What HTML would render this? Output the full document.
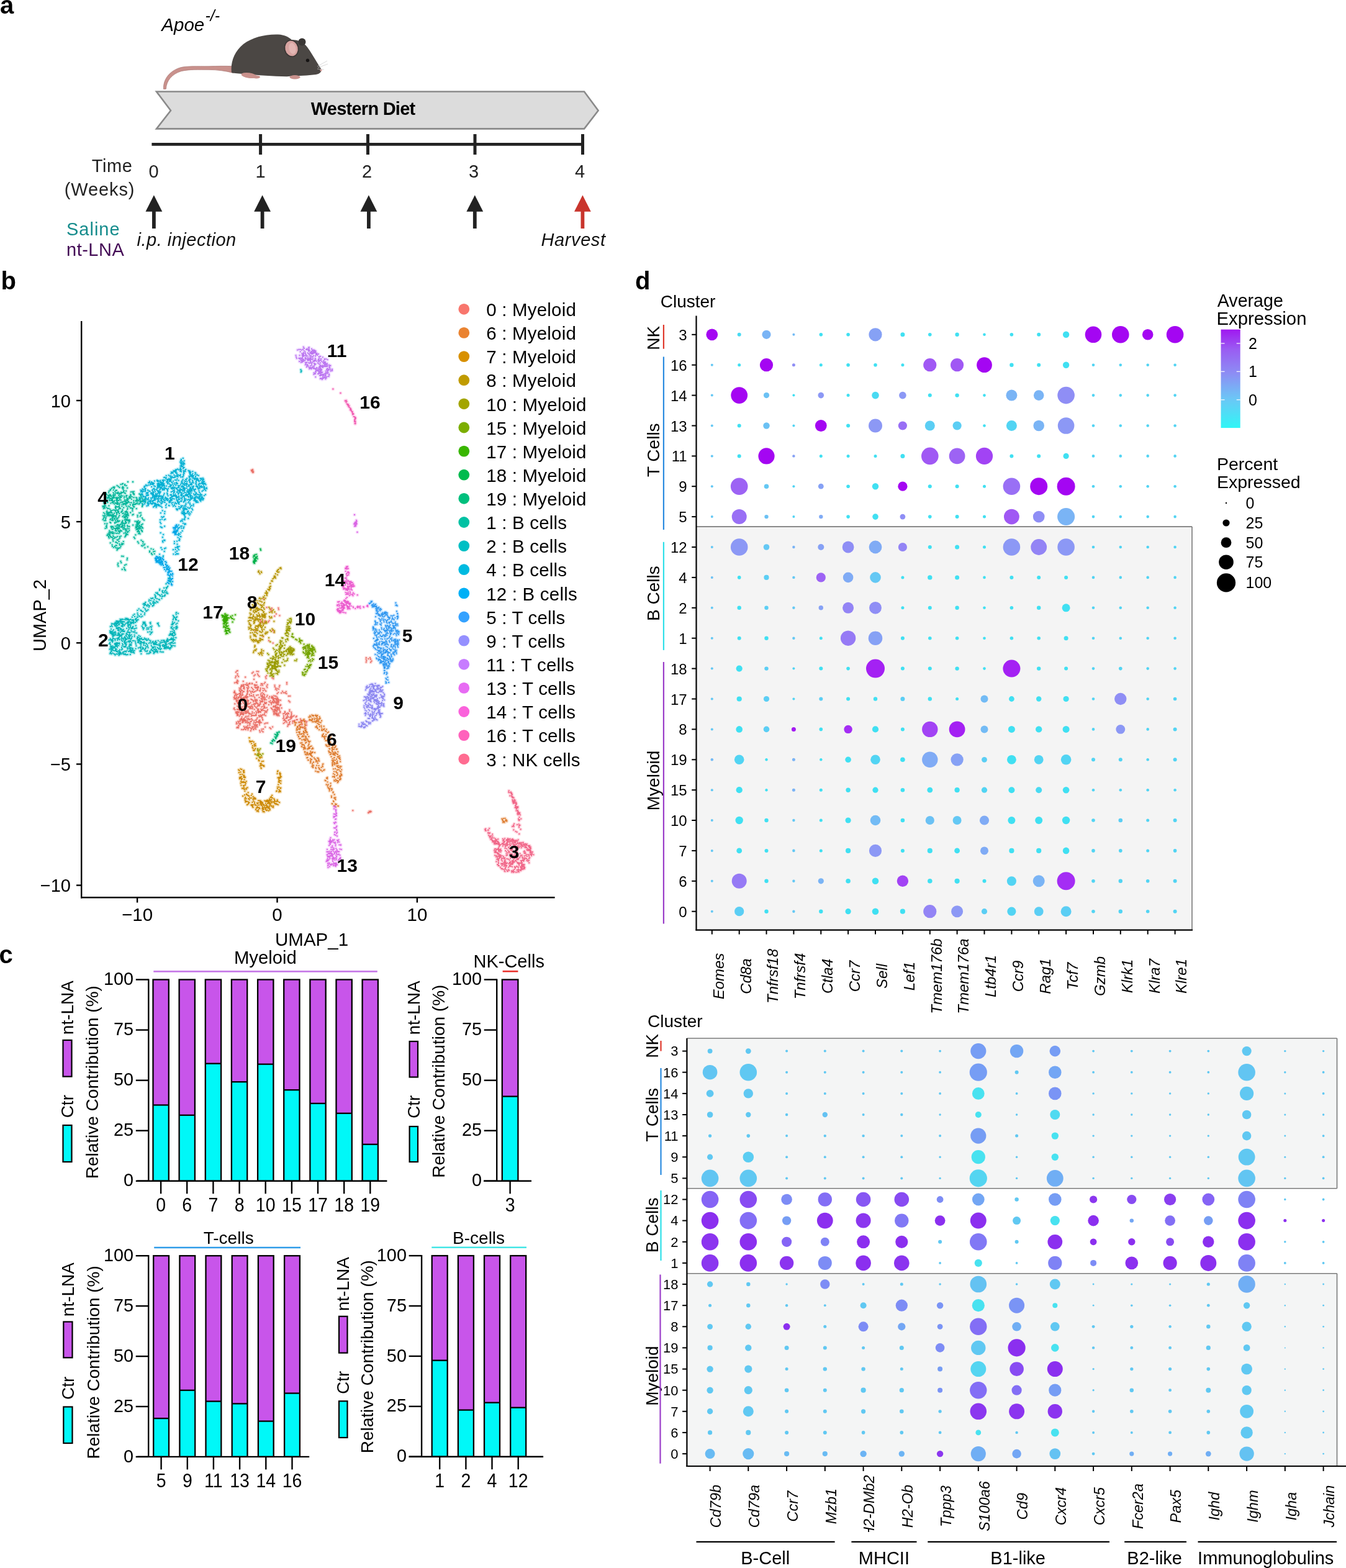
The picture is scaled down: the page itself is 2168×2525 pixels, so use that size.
<!DOCTYPE html><html><head><meta charset="utf-8"><title>Figure</title><style>html,body{margin:0;padding:0;background:#fff;}body{width:2168px;height:2525px;overflow:hidden;}svg{display:block;font-family:"Liberation Sans", Arial, Helvetica, sans-serif;}</style></head><body>
<svg width="2168" height="2525" viewBox="0 0 2168 2525">
<rect width="2168" height="2525" fill="#fff"/>
<text x="0" y="22" font-size="40" font-weight="bold">a</text>
<text x="260.3" y="49.8" font-size="29.5" font-style="italic">Apoe</text>
<text x="330.5" y="34.3" font-size="25" font-style="italic">-/-</text>
<g id="mouse">
<path d="M376,106.8 C362,106 350,106.5 336,106.8 C318,107 300,106 290,109 C274,114 262.5,127 263.5,143.5 L267.4,143.3 C268,130 277,119 292,114.6 C305,111.5 320,112.3 336,112.3 C350,112.4 362,114 376,117.4 Z" fill="#C9918C" stroke="#A87471" stroke-width="0.7"/>
<path d="M373,117 C371,101 377,83 392,71 C407,60 427,55 448,55.6 C458,56.2 465,59.5 470,64.5 C479,63.5 489,68 495,76 C503,87 510,100 517.5,111.5 C518.5,115.5 515,119 509,120 C496,121.5 481,122.3 470,122.5 L462,123.2 C440,122.8 414,121 395,119.2 C385,118.6 378,118.2 373,117 Z" fill="#4B4744"/>
<ellipse cx="486.5" cy="67.5" rx="6" ry="6" fill="#3A3735"/>
<ellipse cx="469.5" cy="78" rx="11" ry="13.2" transform="rotate(-12 469.5 78)" fill="#D7A3A0" stroke="#3A3634" stroke-width="1.6"/>
<ellipse cx="471" cy="78" rx="5.5" ry="9" transform="rotate(-12 471 78)" fill="#E3B6B3"/>
<circle cx="495.5" cy="97.2" r="2.7" fill="#151313"/>
<circle cx="517" cy="113" r="1.7" fill="#D9A09C"/>
<ellipse cx="401" cy="121.5" rx="12.5" ry="4.2" transform="rotate(8 401 121.5)" fill="#C9918C"/>
<ellipse cx="413" cy="124" rx="6" ry="2.5" fill="#C9918C"/>
<ellipse cx="475" cy="124.3" rx="8.5" ry="3.2" fill="#C9918C"/>
<path d="M511,107 L527,98 M512,109 L528,103 M511,111 L522,112" stroke="#C8C8C8" stroke-width="0.7" fill="none"/>
</g>
<polygon points="252,147.5 941,147.5 963.6,178 941,207.4 252,207.4 275,178" fill="#DCDCDC" stroke="#8A8A8A" stroke-width="2.6" stroke-linejoin="miter"/>
<text x="584.6" y="185.3" font-size="29" text-anchor="middle" font-weight="bold" letter-spacing="-0.75">Western Diet</text>
<line x1="244.4" y1="232.4" x2="938.5" y2="232.4" stroke="#222" stroke-width="4.6"/>
<line x1="419.6" y1="216" x2="419.6" y2="249" stroke="#222" stroke-width="5"/>
<line x1="592.5" y1="216" x2="592.5" y2="249" stroke="#222" stroke-width="5"/>
<line x1="765" y1="216" x2="765" y2="249" stroke="#222" stroke-width="5"/>
<line x1="938.5" y1="216" x2="938.5" y2="249" stroke="#222" stroke-width="5"/>
<text x="247.5" y="285.7" font-size="29" text-anchor="middle" fill="#222">0</text>
<text x="419.5" y="285.7" font-size="29" text-anchor="middle" fill="#222">1</text>
<text x="591" y="285.7" font-size="29" text-anchor="middle" fill="#222">2</text>
<text x="763" y="285.7" font-size="29" text-anchor="middle" fill="#222">3</text>
<text x="934" y="285.7" font-size="29" text-anchor="middle" fill="#222">4</text>
<text x="213.6" y="276.7" font-size="29" text-anchor="end" fill="#222" letter-spacing="0.6">Time</text>
<text x="217.4" y="315.2" font-size="29" text-anchor="end" fill="#222" letter-spacing="0.9">(Weeks)</text>
<polygon points="247.9,314.3 234.5,340.8 261.3,340.8" fill="#222"/>
<rect x="245" y="339" width="5.8" height="29" fill="#222" />
<polygon points="422.6,314.3 409.2,340.8 436,340.8" fill="#222"/>
<rect x="419.7" y="339" width="5.8" height="29" fill="#222" />
<polygon points="593.9,314.3 580.5,340.8 607.3,340.8" fill="#222"/>
<rect x="591" y="339" width="5.8" height="29" fill="#222" />
<polygon points="764.8,314.3 751.4,340.8 778.2,340.8" fill="#222"/>
<rect x="761.9" y="339" width="5.8" height="29" fill="#222" />
<polygon points="938.4,314.3 925,340.8 951.8,340.8" fill="#C9352D"/>
<rect x="935.5" y="339" width="5.8" height="29" fill="#C9352D" />
<text x="107" y="378.6" font-size="29" fill="#168C8C" letter-spacing="1">Saline</text>
<text x="107" y="412" font-size="29" fill="#430A55" letter-spacing="0.5">nt-LNA</text>
<text x="220.5" y="396" font-size="29" font-style="italic" fill="#111" letter-spacing="0.5">i.p. injection</text>
<text x="871.5" y="395.8" font-size="29" font-style="italic" fill="#111" letter-spacing="0.6">Harvest</text>
<text x="1.5" y="466" font-size="40" font-weight="bold">b</text>
<defs>
<path id="sc0" d="M450.4 991.3h0M439.7 1035.6h0M429.6 978.2h0M437.8 979.5h0M436.7 981.7h0M437.4 984h0M423.8 1025h0M448.4 979.1h0M448.8 981.4h0M424.5 964.6h0M421.5 1002.1h0M419 1002.5h0M420.1 1000.4h0M419.8 998h0M439 1015.3h0M426.9 999.7h0M425.7 1001.8h0M433.6 999.6h0M432.1 1001.5h0M433 1031.7h0M435.5 982.1h0M441.3 1018h0M411.5 1015.6h0M442.3 992.2h0M444.9 988.7h0M412.3 1163.6h0M414.6 1162.7h0M416.8 1163.6h0M386.9 1164.7h0M386.3 1167.1h0M384.1 1168.1h0M383.8 1127.5h0M386 1128.3h0M385.4 1130.6h0M411.6 1159.6h0M413.6 1158.2h0M414.5 1156h0M412.6 1168.6h0M412.3 1171h0M417.9 1145.4h0M419.7 1147h0M393.2 1106h0M391.1 1104.8h0M413.8 1103.4h0M416.1 1107.1h0M426.5 1125.1h0M425.9 1127.4h0M403 1165.4h0M399.8 1162.8h0M397.5 1162.7h0M395.2 1163.5h0M411.3 1164.2h0M411.7 1166.6h0M413.6 1168h0M414.3 1132.7h0M412 1133.2h0M409.6 1132.9h0M422.7 1115.6h0M424.6 1117.1h0M426.1 1119h0M381.3 1118.7h0M378.9 1118.9h0M378.3 1121.2h0M415.6 1119.2h0M409.7 1168.2h0M412.1 1167.8h0M414.3 1167h0M418.3 1112.1h0M393.9 1159h0M407.1 1141.3h0M404.8 1141h0M398 1172.9h0M398.8 1170.6h0M399.2 1168.2h0M412.4 1145.7h0M413.1 1148h0M412.2 1150.3h0M412.1 1128.1h0M401.8 1165.8h0M402.4 1168.2h0M426.6 1131.3h0M429 1131.5h0M408.1 1134.4h0M410.5 1134.3h0M383.4 1147.8h0M396.5 1170h0M397.5 1172.2h0M381.1 1119.1h0M397.8 1107.3h0M426 1139.7h0M426.1 1137.4h0M424.9 1135.3h0M418.5 1162.8h0M410.3 1123.1h0M408.6 1121.4h0M408.2 1119h0M411.7 1102.8h0M392.2 1124.6h0M394.5 1124h0M396.3 1122.4h0M389.4 1105.4h0M388 1107.3h0M385.7 1108.2h0M410.7 1128.3h0M408.3 1128.2h0M411.2 1127.2h0M411.3 1129.6h0M412.4 1131.7h0M400 1105h0M397.9 1103.9h0M395.8 1102.7h0M382.5 1125.1h0M380.4 1124h0M385.8 1127.7h0M388.2 1127.5h0M390.6 1128h0M428.5 1132.9h0M415.9 1105.9h0M413.2 1119.7h0M421.4 1138.5h0M423.7 1137.7h0M426.1 1137.9h0M378.2 1119.8h0M421.6 1121.3h0M422.5 1119.1h0M424.3 1117.5h0M383.7 1130.8h0M382.8 1133.1h0M417.5 1123.2h0M411.1 1128.1h0M387.5 1122.6h0M388.6 1120.5h0M390.9 1119.6h0M390.3 1150h0M392.6 1149.1h0M406.1 1113.2h0M408 1114.7h0M405.9 1101.3h0M413.4 1130.3h0M414.1 1128h0M393 1169.9h0M385.3 1144h0M383.3 1142.6h0M402.6 1101.3h0M409.4 1148.2h0M411.7 1104.1h0M409.7 1102.7h0M419.3 1145.9h0M421 1144.3h0M420.3 1142h0M396.8 1162.7h0M398.3 1164.6h0M412.1 1174h0M396 1159.8h0M393.6 1159.4h0M391.8 1157.9h0M383.4 1161.7h0M385.7 1111.1h0M387.3 1109.7h0M390.2 1111.9h0M391.4 1114h0M390.3 1116.1h0M383.2 1146.5h0M381.3 1147.9h0M388 1125h0M408.2 1130h0M403.4 1139.1h0M402.3 1141.2h0M386.4 1134.7h0M394.3 1146.1h0M395.7 1148.1h0M417.9 1167.3h0M418 1164.9h0M418.1 1162.5h0M422 1155.1h0M419.8 1154.1h0M417.4 1154.4h0M416.6 1142.2h0M416.4 1144.6h0M417.5 1146.7h0M382 1128.4h0M425.7 1121.6h0M426.8 1123.7h0M388.4 1109.8h0M388.7 1112.2h0M388 1114.5h0M398.9 1135.1h0M399.8 1132.9h0M399.6 1130.5h0M388.3 1122.2h0M388.2 1124.6h0M378.3 1133.4h0M386.2 1131h0M383.9 1131.6h0M400.7 1101.4h0M377.9 1112.9h0M376.9 1115h0M409.8 1136.7h0M411.5 1138.4h0M401.7 1133.3h0M403.5 1131.7h0M424.9 1140.5h0M423.1 1142.1h0M421.2 1143.5h0M394.3 1171.9h0M397.9 1117.1h0M397.2 1119.3h0M397.6 1121.7h0M392.2 1149.4h0M400.4 1156.7h0M401 1159h0M398.5 1133.8h0M396.5 1135.1h0M394.1 1134.7h0M381.3 1149.1h0M381.2 1146.7h0M388.8 1159h0M389.4 1156.6h0M389.7 1154.3h0M404.7 1161.2h0M402.8 1162.7h0M400.7 1163.9h0M398.3 1129h0M395.9 1129.1h0M396.6 1145.7h0M394.5 1144.4h0M395 1142.1h0M386.7 1129.5h0M384.4 1130.3h0M382 1130.7h0M414.4 1137.8h0M416.4 1136.5h0M382.6 1137.2h0M384 1139.2h0M401.8 1118.5h0M402.6 1120.8h0M404.8 1119.9h0M406.2 1170h0M407.2 1172.1h0M400.7 1172.1h0M412.6 1152.1h0M380.1 1124.1h0M380.2 1126.5h0M380.8 1128.9h0M393.9 1125.6h0M391.5 1126.2h0M414.4 1162.6h0M416.6 1163.5h0M418.9 1164.2h0M397.6 1121.8h0M388.3 1147.6h0M386.9 1149.5h0M405.2 1157.5h0M384.2 1124.2h0M385.5 1122.2h0M395.5 1126.9h0M381.1 1120.1h0M381.3 1122.5h0M391.6 1151.1h0M390.1 1149.3h0M388.9 1147.2h0M417.8 1136.6h0M417.4 1134.3h0M415.3 1133h0M391.1 1160.9h0M393.5 1160.9h0M395.3 1159.4h0M422.9 1120.7h0M422.5 1123.1h0M420.7 1124.7h0M377.7 1116h0M379.9 1116.8h0M402 1148.7h0M404 1150h0M405.7 1151.7h0M397.6 1121.6h0M396.7 1123.8h0M384.1 1163.1h0M385.8 1161.5h0M383.7 1122.8h0M386.1 1122.6h0M415.5 1147.3h0M398.1 1126.9h0M400.2 1128h0M406.3 1101h0M378.5 1125.1h0M398.3 1160.7h0M398.7 1158.4h0M397.5 1156.3h0M398.6 1129.2h0M392.9 1148.1h0M390.5 1118.5h0M388.2 1119.2h0M386 1120h0M405.9 1121.1h0M409.8 1142.3h0M381.9 1152.1h0M383.7 1150.6h0M396 1146.7h0M397.5 1144.8h0M385.6 1153.2h0M387.1 1151.3h0M408.3 1110.9h0M406.8 1109.1h0M405.3 1107.2h0M423.1 1158.7h0M422.3 1156.4h0M415.4 1111.3h0M398.9 1108.8h0M398.7 1111.2h0M398.3 1113.5h0M420.6 1116.3h0M420 1118.6h0M420.5 1121h0M401.8 1171.4h0M400 1173h0M399.4 1175.3h0M410.6 1125.6h0M399.6 1109h0M398.9 1111.3h0M395.3 1102.3h0M392.9 1102.8h0M382.9 1150h0M378.4 1115.1h0M427.9 1133h0M423.4 1129.5h0M421 1129.4h0M418.8 1128.3h0M398.3 1117.9h0M398.8 1115.6h0M399.5 1113.3h0M383.5 1133.4h0M385.8 1132.7h0M388.2 1133.3h0M396.1 1131.3h0M397.9 1132.9h0M399.4 1134.7h0M405.3 1126.6h0M414.1 1168.1h0M414.5 1170.5h0M393.2 1137.3h0M393.5 1139.7h0M378.6 1143h0M376.8 1141.5h0M406.9 1159.7h0M405.2 1158h0M402.8 1158.3h0M377.6 1123.5h0M377.4 1140.1h0M391.7 1123.3h0M389.5 1124.2h0M387.4 1125.3h0M418.4 1159.7h0M419.1 1162h0M420.9 1163.6h0M405.8 1100.3h0M395.4 1145.4h0M394.9 1143h0M406.4 1146.5h0M406.3 1148.8h0M392.2 1132.7h0M409.1 1163.2h0M409.4 1160.8h0M395.9 1174.9h0M387.1 1117.9h0M404.7 1153.2h0M406.9 1152.3h0M409.3 1152.3h0M423.8 1112.2h0M426.2 1126.8h0M426.7 1124.5h0M424.5 1123.5h0M412.5 1150.3h0M411.1 1152.2h0M408.7 1151.9h0M421.2 1125.8h0M399.6 1143.6h0M402.3 1100.2h0M383.2 1152h0M381.9 1150h0M380.2 1148.3h0M391.6 1161.8h0M389.9 1163.5h0M386.3 1113.1h0M381.9 1165.3h0M389.1 1103.5h0M396.9 1148.6h0M398.5 1146.8h0M400.7 1153.1h0M398.4 1153.7h0M396 1153.6h0M381.9 1142.5h0M384.2 1142h0M386 1143.6h0M414 1107.3h0M388.8 1150.2h0M390.5 1148.5h0M391.4 1146.3h0M376.9 1123h0M377.4 1125.4h0M395.8 1141.5h0M395.9 1139.1h0M394 1137.7h0M390.8 1118.7h0M414 1111.4h0M412.1 1112.8h0M410 1114h0M397.5 1100.3h0M417.3 1161.3h0M417.2 1163.7h0M380.1 1125.6h0M377.7 1125.7h0M392.8 1123.2h0M394.6 1121.6h0M401.5 1150.2h0M400.2 1148.2h0M399.9 1145.8h0M422.4 1151.7h0M392.2 1150.8h0M415.5 1145.5h0M416.4 1147.7h0M427.2 1144.9h0M425 1144.1h0M422.6 1144h0M421.4 1152.8h0M413.5 1126.4h0M395.6 1120.8h0M397.1 1122.8h0M388.6 1148.7h0M423.4 1122.5h0M423.8 1124.9h0M425.3 1126.8h0M388.3 1126.4h0M390 1128.2h0M391.1 1130.3h0M399.9 1138.4h0M398 1137.1h0M396.5 1135.1h0M405.9 1137.6h0M405.6 1135.3h0M398.9 1130.4h0M415.3 1135.5h0M417.7 1135.4h0M419.5 1133.7h0M395.8 1174.5h0M392.6 1140.9h0M390.3 1141.6h0M387.9 1141.9h0M393.6 1174.2h0M410.5 1104.4h0M410.6 1106.8h0M412.4 1108.3h0M385.3 1146.7h0M387.7 1146.8h0M389.2 1145h0M447.5 1143.4h0M446.7 1141.2h0M438.1 1131.3h0M445.1 1140h0M447.5 1140.3h0M444.7 1132.8h0M445.7 1130.6h0M448.6 1150.8h0M447.2 1124.4h0M446 1122.4h0M444.2 1120.8h0M447.4 1129h0M449.8 1139.6h0M450 1142h0M450.3 1144.4h0M447.8 1129h0M448.3 1126.6h0M451.3 1146h0M443.3 1121.2h0M444.1 1149.1h0M442.6 1147.2h0M442 1144.9h0M440 1127.8h0M439.4 1125.5h0M437.7 1123.8h0M445 1151.2h0M442.8 1142.8h0M443.4 1124.5h0M445.4 1125.9h0M444.2 1139.5h0M445.6 1145.2h0M441.7 1142.3h0M439.7 1143.6h0M445.1 1143.6h0M443.2 1145.1h0M437.8 1141.1h0M449 1130h0M439.5 1130.3h0M441 1132.1h0M445.2 1150.8h0M447 1152.4h0M446.1 1148.6h0M436.8 1131.9h0M441.2 1150.2h0M446.9 1130.9h0M440.8 1125.2h0M439.9 1123h0M437.6 1122.2h0M440.5 1125.6h0M439.5 1123.4h0M438.3 1121.4h0M446.1 1131.3h0M448.4 1132.2h0M444.7 1126.5h0M442.9 1124.9h0M441.2 1136.8h0M443.6 1137.2h0M438.2 1142h0M451.3 1147.5h0M449.1 1148.5h0M447.2 1150.1h0M438.1 1132.1h0M439.2 1130h0M436.7 1140.1h0M441.2 1120.3h0M446 1151.6h0M447.8 1141.9h0M444.5 1138.2h0M446.9 1138.7h0M449.1 1139.6h0M445.3 1125.6h0M447.7 1125.5h0M451.6 1134.8h0M443.9 1144.5h0M447.9 1134.2h0M441 1126.4h0M446.3 1127.4h0M445.4 1129.6h0M443.7 1131.3h0M437.2 1123.9h0M446.2 1132.2h0M447.6 1130.3h0M447.4 1125.1h0M446 1127.1h0M440.7 1126.7h0M442.4 1128.3h0M443.4 1147.8h0M446.7 1134.1h0M439.9 1123.3h0M437.6 1123h0M437.1 1134.3h0M435.7 1128.7h0M446.4 1141.6h0M445.6 1143.8h0M446 1146.2h0M441 1130.6h0M438.7 1130.1h0M440.4 1146h0M441.1 1148.3h0M441.5 1150.7h0M441.9 1130.2h0M447.6 1128.4h0M444.1 1136h0M446.3 1135.2h0M448.7 1134.8h0M449.4 1152.5h0M447.5 1129.5h0M445.2 1130.3h0M442.8 1130h0M450.9 1136.6h0M437.8 1122h0M448.4 1132.2h0M447.9 1129.9h0M445.2 1127.3h0M445.9 1125h0M440.6 1127.8h0M444.4 1139.6h0M443.5 1141.8h0M442.5 1144h0M444.2 1143.4h0M383.1 1118.1h0M385.3 1117.2h0M387.7 1117.1h0M440.3 1092.9h0M438.3 1091.6h0M430.9 1164.3h0M428.5 1164.5h0M426.3 1165.4h0M459.3 1116h0M461.4 1117h0M425.5 1100.8h0M426.9 1098.9h0M455 1113.4h0M464.5 1160.1h0M450.4 1104h0M449.8 1106.3h0M404.5 1161.9h0M435.2 1131.3h0M433.4 1129.8h0M456 1157.1h0M457.1 1155h0M457 1152.6h0M423.2 1159.6h0M382.6 1080.2h0M395.1 1160.9h0M392.7 1161.2h0M391.6 1163.3h0M393.4 1107.1h0M393.5 1109.5h0M462.6 1149.8h0M465 1149.4h0M426.6 1125.5h0M428.6 1126.8h0M389.9 1138.5h0M389.3 1140.8h0M391.2 1142.3h0M380 1082.5h0M381.6 1080.6h0M402 1138.9h0M404.1 1140.1h0M405.5 1138.1h0M402.3 1112.3h0M403.8 1114.2h0M404.7 1116.4h0M395.2 1148.8h0M397.5 1148.1h0M399 1146.3h0M415 1144h0M414.9 1141.7h0M413.1 1140.1h0M466.4 1145.5h0M466.4 1143.1h0M407 1172.3h0M408 1174.5h0M419.7 1151.4h0M388.3 1157.4h0M414.6 1106.4h0M412.3 1107h0M393.8 1172.1h0M396 1171.3h0M387.1 1165.5h0M384.7 1164.9h0M449.6 1127.4h0M404.4 1126h0M406.5 1127.2h0M423.2 1150.9h0M425.5 1151.5h0M427.8 1152.3h0M407.1 1139h0M416.2 1081.5h0M413.8 1081.2h0M380.7 1127.1h0M429.2 1147.2h0M430 1144.9h0M431 1142.8h0M382.1 1171.4h0M413 1098.7h0M434.6 1172h0M420.4 1103.6h0M420.8 1101.2h0M417 1152.2h0M409.1 1093.9h0M407.9 1082.4h0M406.1 1084h0M418.2 1176.5h0M418.9 1178.8h0M383.9 1172.2h0M381.6 1172h0M418.9 1131.6h0M419.2 1134h0M429.7 1139.7h0M427.3 1140.1h0M420 1130.2h0M422.4 1130.2h0M442.4 1138.7h0M440 1138.5h0M460.6 1157.2h0M458.2 1157.8h0M457.1 1159.9h0M430.5 1119.8h0M429.7 1122.1h0M418.9 1153.4h0M462 1101.6h0M462 1099.2h0M382.4 1085.2h0M382.6 1087.6h0M384.1 1089.4h0M382.2 1095.4h0M381.3 1097.6h0M381.8 1099.9h0M453.1 1116h0M469.2 1146.8h0M469.5 1149.1h0M426.1 1130.6h0M426.5 1133h0M424.7 1134.5h0M384.4 1170.1h0M382.2 1171h0M464.8 1121h0M467.2 1120.9h0M446.1 1139.7h0M448.5 1139.7h0M448.2 1115.1h0M446.6 1116.9h0M421.1 1152.8h0M462.1 1163.3h0M461 1161.2h0M458.9 1160h0M392.2 1159.4h0M393.2 1157.2h0M394.7 1155.3h0M388.1 1105.5h0M389.3 1103.5h0M391.6 1102.7h0M387.3 1113.5h0M386.9 1115.9h0M392.1 1132.4h0M423.6 1178.5h0M409.2 1088.3h0M410.9 1086.7h0M391.6 1175h0M389.2 1174.8h0M424.1 1174h0M421.7 1174.4h0M391.7 1128.3h0M416.2 1107.5h0M414.9 1109.5h0M423.3 1108.7h0M385.6 1137.8h0M386.1 1135.4h0M387 1133.2h0M427.7 1145.5h0M409.2 1170.3h0M414.8 1085.3h0M415.9 1087.4h0M417.6 1089.2h0M442.7 1106h0M442.5 1103.6h0M392.9 1113.5h0M466 1163.9h0M466.4 1166.3h0M464 1166.5h0M445.6 1151h0M445 1148.7h0M460.8 1113.8h0M458.9 1115.4h0M456.5 1115.5h0M406.8 1114.2h0M400.6 1107.1h0M400.1 1104.7h0M399 1102.6h0M421.8 1130.3h0M422.4 1128h0M422.9 1125.7h0M421.6 1177h0M380 1089h0M379.3 1091.3h0M417.2 1160.2h0M415.9 1162.3h0M417.3 1164.2h0M391.8 1097.2h0M451.8 1127.7h0M428.5 1092.4h0M427.8 1090.1h0M429.3 1088.2h0M439 1170.6h0M444.2 1108.1h0M446.5 1108.8h0M448.8 1109.7h0M465.2 1128.7h0M466.8 1130.4h0M466.6 1166.2h0M464.5 1167.4h0M463.3 1169.5h0M453.5 1140.2h0M403.5 1137.5h0M401.1 1137.8h0M436.3 1173.5h0M408.6 1170.4h0M406.6 1171.8h0M404.9 1173.4h0M412 1168.9h0M410 1167.5h0M408.4 1165.7h0M434.3 1121.9h0M382.7 1099.6h0M380.4 1098.9h0M378.1 1099.6h0M383.4 1097h0M433 1134.9h0M456.8 1164.8h0M458.7 1163.3h0M460.3 1161.5h0M427.1 1170.8h0M395.2 1090.5h0M408.5 1174.9h0M410.2 1173.2h0M411.2 1171.1h0M412.7 1160.6h0M412.5 1163h0M387.2 1161.2h0M386.7 1158.8h0M382.5 1100.3h0M452.2 1135.4h0M399.3 1122.2h0M397.9 1124.1h0M443.9 1110.1h0M445.8 1111.4h0M390.4 1161h0M388.8 1159.2h0M430.3 1107.1h0M429.6 1104.9h0M430.7 1102.7h0M443.4 1149.4h0M418.9 1112.9h0M419.5 1110.5h0M419.6 1108.2h0M422.5 1101.2h0M423 1103.5h0M433.3 1124.3h0M425.8 1149.9h0M426.6 1147.7h0M427.3 1145.4h0M428.3 1112.9h0M426.5 1111.3h0M425.6 1109.1h0M414.8 1106.6h0M397.2 1102.9h0M392.3 1103.7h0M392.7 1106.1h0M392.2 1108.4h0M379.9 1146.4h0M382.2 1145.8h0M404 1172.4h0M404.7 1174.7h0M403.8 1176.9h0M380.8 1165.5h0M381 1163.1h0M390.1 1159h0M389.3 1156.8h0M461.2 1154.6h0M472.9 1161.2h0M474.6 1160.2h0M471.1 1161.5h0M463.7 1148.1h0M473.6 1152.6h0M460 1151h0M492 1161.2h0M478.9 1158.9h0M488.8 1171.5h0M468.4 1153.4h0M467 1162.2h0M458.2 1148.7h0M461.2 1149h0M477.6 1158.9h0M486.4 1167h0M492.2 1172.7h0M487.1 1171.1h0M469.5 1152.2h0M464.3 1154.6h0M482.6 1169.6h0M470.1 1155.3h0M469.7 1154.5h0M461.6 1155.3h0M462.9 1151.6h0M474.7 1163h0M471.8 1153.7h0M464.1 1154.8h0M493.7 1167.7h0M493.5 1164.2h0M476.7 1154.5h0M467.8 1155.4h0M485.2 1163.5h0M456.3 1149.5h0M494.2 1161.8h0M485.9 1161.2h0M471.4 1164.3h0M466.9 1155.4h0M469.4 1150.3h0M467.3 1158.5h0M465.1 1159.4h0M491.4 1161h0M487.7 1160.3h0M458.9 1146h0M484.4 1161.3h0M487 1161h0M463.4 1153.4h0M484.4 1160.3h0M477.7 1153.5h0M481.3 1163.2h0M459.1 1147.1h0M486.5 1165.9h0M483.9 1157.8h0M462.4 1156.4h0M469.2 1157h0M405.8 759.4h0M404.9 757.1h0M406.8 756.1h0M406.5 757.2h0M404.9 757.7h0M408.1 759.3h0M406.1 757.9h0M406.5 758.5h0M405.1 757.6h0M407.3 761h0M408 760.5h0M407.3 757.1h0M597.8 1307.1h0M593.5 1308.9h0M596.4 1306.3h0M593.7 1309h0M594.7 1306.6h0M596.2 1307.9h0M595.1 1307.4h0M593.1 1308.7h0M597 1306.3h0M596.5 1306.7h0M568.3 1305.2h0M597.2 1061.6h0M589.7 1061.6h0M590.3 1063.9h0M589.8 1066.3h0M593.3 1060.9h0M589.8 1059.2h0M597.1 1066.5h0M598.5 1064.5h0M596.7 1061.5h0M596 1059.2h0"/>
<path id="sc1" d="M495.5 1206.4h0M495.1 1214.2h0M483.8 1166.7h0M493 1178.2h0M511.2 1220.8h0M485.9 1160.2h0M513.3 1242.9h0M510.2 1232.7h0M512.5 1221h0M491.2 1192.9h0M493.6 1195.2h0M503 1211.2h0M492.5 1177.3h0M483.8 1189.3h0M496.4 1193.2h0M492.1 1196.5h0M496.5 1201.2h0M489.5 1159.9h0M477.9 1173.5h0M490 1200.6h0M486.6 1202.7h0M508.9 1237.6h0M505 1232.5h0M483.5 1171.9h0M501.9 1217.2h0M520.4 1230.3h0M479.7 1171.2h0M501.6 1201.6h0M491.7 1211.1h0M491 1211.6h0M481 1178.9h0M491 1165.9h0M479.7 1170.5h0M494.3 1179h0M497.1 1204h0M492.1 1188.7h0M496.9 1224.1h0M511.5 1226.5h0M493.3 1178.3h0M504.2 1236h0M477.7 1175.8h0M507.8 1222.3h0M511 1242.7h0M499.3 1213h0M497 1193.9h0M486.3 1198.4h0M504.2 1205.6h0M521.3 1240.4h0M502.7 1212.2h0M489.3 1160.4h0M486.8 1199.8h0M490.9 1210.5h0M489.4 1206.7h0M503.1 1229.3h0M493.3 1215.7h0M491.9 1185.8h0M492.7 1175.4h0M502 1212.2h0M483 1167.1h0M518.9 1241.8h0M495.2 1182.8h0M497.4 1205.5h0M509.4 1226.6h0M517.7 1235.8h0M504 1211.3h0M479.1 1169.9h0M485.4 1170.9h0M507.1 1222.3h0M491.7 1168.2h0M480.9 1186.5h0M513.4 1222.9h0M504.9 1227.5h0M478.1 1179.3h0M487.6 1185.2h0M490 1205.5h0M513.1 1236.4h0M499 1205h0M479 1171.4h0M519.7 1234.4h0M487.4 1171.6h0M475.5 1167.9h0M508.9 1224.5h0M489.8 1179.3h0M486.5 1186.7h0M489.8 1183.6h0M498 1195.3h0M500 1221.8h0M500.1 1226.2h0M482.7 1163.2h0M516.7 1240.4h0M513.1 1224.3h0M500.2 1216h0M494.6 1214h0M500.4 1224.4h0M496.1 1193h0M497.3 1186.2h0M502.8 1218.4h0M489 1181.7h0M510.2 1224.3h0M488.9 1204h0M499.4 1193.8h0M503.5 1204.3h0M499.1 1214.1h0M483.4 1172.8h0M514.6 1237.1h0M474.3 1162.1h0M493.1 1191.9h0M491 1211.5h0M494.2 1189.3h0M499.7 1202.1h0M512.6 1243.2h0M490.4 1162h0M519.8 1230.8h0M491.8 1214.4h0M497.3 1198.9h0M489.3 1186.3h0M488.2 1199.2h0M508.4 1241.8h0M491 1162.9h0M503.2 1232h0M489 1177.7h0M487.7 1185.1h0M507 1211.9h0M497.9 1213.9h0M517 1240.2h0M496.1 1223.8h0M491.3 1166.3h0M486.4 1191.5h0M500.3 1209.9h0M489.5 1199.6h0M484.1 1196.6h0M492 1186h0M483 1174.4h0M491.8 1176.9h0M502.5 1234.4h0M483.3 1172.7h0M481.6 1168.1h0M484.9 1182.3h0M494.3 1220.3h0M509 1226.7h0M501.3 1213.6h0M485.8 1202.1h0M492.9 1177.8h0M495.4 1212.4h0M495.5 1190.8h0M478.7 1171.6h0M504.3 1234.8h0M491.3 1180h0M498.7 1214.6h0M479.6 1183.5h0M495.2 1183.1h0M514.6 1239h0M482.5 1182.4h0M490.9 1172.3h0M475.7 1166.4h0M522.5 1239.6h0M496.3 1215.6h0M489.1 1191.3h0M482.9 1178.6h0M484.9 1181.9h0M511.7 1229.1h0M493.1 1186.7h0M490.5 1202.9h0M498.5 1203.7h0M488.9 1179.3h0M477.2 1163.9h0M500.6 1226.3h0M492.2 1191.1h0M500.9 1214.9h0M490.7 1191.1h0M519.4 1233.4h0M508.5 1236.1h0M490.6 1203h0M482.4 1180.2h0M492.2 1205.8h0M491.4 1203.9h0M489.2 1159.1h0M496.7 1193.2h0M486.7 1181.7h0M495.4 1220h0M505.8 1220.3h0M494.4 1180.2h0M490.6 1173.6h0M491.5 1176.2h0M494.3 1212.5h0M514.1 1225.6h0M501.9 1222.9h0M503.6 1234.7h0M502.2 1206.2h0M475.1 1163.8h0M500.7 1212.4h0M505.2 1227.5h0M481 1186h0M500.2 1228.5h0M487 1185.5h0M489.6 1158.5h0M494.7 1211.8h0M486.3 1195.8h0M497.7 1198.1h0M513.5 1233.1h0M489.7 1190.3h0M491.3 1172.5h0M482.7 1174.7h0M484 1170.6h0M479.2 1175.5h0M482.1 1189.4h0M491 1169.6h0M485.6 1164h0M495.5 1205.7h0M480.9 1173.7h0M509.9 1159.9h0M500.9 1160.3h0M503.1 1159.4h0M508.8 1157h0M511.1 1156.1h0M510 1152.9h0M514.6 1154.3h0M508.5 1151.6h0M498.1 1154.8h0M499.3 1152.7h0M510.9 1153.1h0M503 1158.4h0M500.8 1159.4h0M498.7 1158.3h0M497.7 1154.9h0M502.9 1157.1h0M504.1 1153.1h0M502.3 1151.6h0M514.5 1157.9h0M512 1160.6h0M497.8 1155h0M504 1152.1h0M500.6 1154.4h0M505.3 1152.5h0M498.4 1159.9h0M508.7 1152.7h0M511.2 1158.3h0M512.4 1160.4h0M499.2 1159h0M512.9 1161.1h0M510.7 1161.9h0M511.3 1152.1h0M505.3 1162.3h0M506.4 1159h0M506 1156.6h0M513.5 1157.9h0M515.4 1156.5h0M509.8 1161.5h0M502.1 1160.3h0M503.3 1162.3h0M515.6 1157h0M509.6 1160.6h0M511.9 1161.4h0M508.1 1152.4h0M509.9 1153.9h0M538.9 1250.5h0M542.9 1239.7h0M545.8 1239.4h0M535.6 1205.9h0M547.3 1254.6h0M540.9 1212.5h0M522.4 1173.6h0M528.7 1199.1h0M535.7 1233.1h0M542.1 1222.5h0M537 1225.9h0M545.8 1235.8h0M535.6 1232.6h0M543.8 1234.5h0M519.6 1183.5h0M530.9 1206h0M545 1258.6h0M524.6 1192.5h0M530.3 1205.6h0M536.2 1211.5h0M525.8 1201h0M513.8 1163.3h0M536.1 1226.8h0M519.1 1186.1h0M547.4 1248.8h0M514.3 1167.1h0M508.9 1171.1h0M523 1190.1h0M542.2 1229.4h0M548.9 1249.4h0M508.6 1170.7h0M542.6 1227.2h0M539.1 1247.4h0M548.8 1254h0M536.1 1203.2h0M538.2 1206.6h0M540.2 1203.2h0M537.8 1223.7h0M521.6 1169.7h0M550.1 1239.6h0M548.4 1254.9h0M523.8 1176.9h0M533.6 1218.5h0M535 1206.5h0M516.2 1163.6h0M528 1190.5h0M533 1189.1h0M527.5 1202h0M523.3 1188.3h0M529.1 1178.8h0M550.1 1247.2h0M536.8 1230.3h0M535.1 1209.5h0M543.8 1229.2h0M533.4 1214.3h0M547 1251h0M547.5 1241.6h0M537.1 1246.1h0M538.4 1256.3h0M540.8 1255.2h0M532.6 1184.7h0M525.2 1186.1h0M544.6 1235.8h0M535.5 1221.8h0M536.5 1199.8h0M542.5 1256.9h0M543.6 1218.9h0M522 1187.3h0M537.1 1238.3h0M529.6 1209.5h0M536 1250.8h0M535 1224.6h0M525.7 1174.7h0M525.7 1200.7h0M547.4 1220.1h0M518.5 1173.7h0M541 1257.9h0M538.6 1257.7h0M542.3 1249.1h0M541.4 1242.3h0M540 1213.6h0M530.1 1210.4h0M539.9 1224.4h0M538.9 1199.7h0M526.2 1192.7h0M533.1 1212.2h0M548.1 1226.4h0M540 1238h0M517.4 1168.6h0M534.8 1208.8h0M538.6 1204h0M513.3 1160.9h0M538.7 1215.4h0M538.6 1220.2h0M543.3 1245.2h0M516.6 1163.5h0M537 1215.3h0M543.5 1229.2h0M542.9 1214.4h0M530.3 1211.9h0M539.3 1229.7h0M545.5 1220.7h0M520.9 1182h0M549.5 1234.3h0M541.2 1243h0M538 1200.2h0M532.5 1211.8h0M544.4 1253.1h0M509.3 1170.9h0M548 1236.7h0M535.7 1200.8h0M536.4 1199.5h0M522 1174.7h0M544.3 1257.2h0M546.9 1217.4h0M518 1160.7h0M507.4 1162h0M543.9 1247.6h0M527.4 1180.1h0M540.9 1213.2h0M534.5 1204.2h0M531.3 1206.2h0M535.2 1228.6h0M539.2 1231.4h0M541.6 1206.5h0M547.5 1234h0M543.7 1239.8h0M544.9 1218h0M549 1246.2h0M536.4 1206.8h0M542.4 1233.5h0M536 1214.2h0M537.9 1220.4h0M519.3 1176.3h0M532.4 1188.1h0M538.7 1251.9h0M530.5 1199.9h0M525.2 1182.8h0M531.9 1195.5h0M518 1175.9h0M510.2 1169.2h0M537.8 1214.7h0M539.7 1216.3h0M514.1 1175.2h0M531.9 1215h0M543.2 1225.7h0M538.2 1242.6h0M521.6 1186.5h0M542 1229.9h0M534.6 1198.9h0M530.1 1189.8h0M520.8 1175.2h0M543.9 1214.9h0M548 1251.5h0M540.7 1201.3h0M514.9 1170.1h0M525.5 1177.8h0M544.2 1210.7h0M519.9 1185.3h0M549.1 1242.9h0M513.3 1166.4h0M538 1212.8h0M550.3 1248.6h0M542.8 1206.3h0M539.5 1211.1h0M547.8 1222.9h0M544.3 1257.9h0M508.7 1163.1h0M517.8 1170.8h0M521.6 1174.1h0M511.4 1173h0M535.4 1230.9h0M525.2 1199.5h0M544.7 1232.8h0M511.4 1165h0M539.7 1228.9h0M543.1 1228.2h0M547.1 1256.1h0M523.1 1185.4h0M537.2 1198.6h0M530.1 1201.8h0M543.8 1260.2h0M519.2 1184.4h0M544.7 1257.6h0M511 1171.8h0M538.3 1228h0M536.8 1250.3h0M536.2 1225h0M542.6 1244.4h0M547 1221.6h0M523.7 1256.7h0M527.2 1252h0M533.9 1281.8h0M540.9 1299.4h0M544.1 1297.8h0M545 1298.1h0M534.8 1294.2h0M534.1 1272.6h0M541.8 1295.2h0M537.5 1291.1h0M539.6 1298.3h0M536.5 1276.6h0M525.8 1263.5h0M536.6 1275.5h0M534.2 1270h0M531.6 1269.7h0M527.2 1254h0M532.5 1265.2h0M535.3 1294.5h0M528.6 1263.5h0M530.1 1270.7h0M538.1 1297.4h0M538.3 1285.1h0M527.7 1265.7h0M527.5 1259.3h0M530.9 1271.5h0M537 1290h0M540.8 1295.9h0M532.5 1261.5h0M530.7 1273.6h0M540.3 1287.5h0M540.3 1284.3h0M538.5 1284.7h0M524.7 1257.3h0M534.9 1270.8h0M539.8 1286.6h0M540.1 1294.6h0M528.4 1268.1h0M538.6 1279.5h0M526 1253.1h0M531.7 1266.8h0M534 1284h0M529.1 1269.2h0M540.1 1299.1h0M537.1 1290.2h0M809 1319.3h0M810.1 1321.5h0M811.7 1323.2h0M816.2 1322.6h0M814.9 1319.8h0M813.5 1317.8h0M811.1 1318.1h0M811.9 1323.3h0M813.9 1321.9h0M816.2 1321.2h0M810.2 1324.3h0M812.6 1324.3h0M810.5 1323.1h0M809.6 1320.9h0M808.5 1318.7h0"/>
<path id="sc2" d="M394.8 1252.1h0M388.1 1258.4h0M387.7 1261.3h0M392 1265.2h0M392.2 1251.3h0M393.1 1248.7h0M384.9 1244.2h0M396.6 1271h0M393.1 1268.5h0M388 1253.2h0M390.1 1269.5h0M388.9 1255.7h0M393.2 1243.7h0M386.1 1254.1h0M393 1241.3h0M392.5 1244.4h0M387.5 1243.4h0M386.7 1251.6h0M386.9 1247.2h0M398.5 1268.4h0M386 1252.3h0M394.9 1260.2h0M394.4 1273.8h0M389.8 1260h0M391.5 1259.5h0M387.7 1251.8h0M392.8 1259h0M393.5 1250.1h0M389.4 1239.1h0M387.5 1238.3h0M388.5 1264.6h0M394.9 1251.6h0M390.1 1259.2h0M396.5 1269.4h0M388.9 1250.7h0M392.7 1240.6h0M384.4 1239.7h0M393.5 1255.4h0M396.6 1258.4h0M392.6 1266.1h0M387 1252.7h0M395.7 1261.4h0M392.7 1260h0M395 1263.8h0M394.4 1264.6h0M394.2 1270.8h0M389.8 1246.9h0M385.5 1240.9h0M390 1254h0M393.4 1251.8h0M393.2 1271.1h0M391.9 1241.5h0M391.9 1248.4h0M391.5 1269.5h0M392.6 1243.7h0M421.1 1291.3h0M427.3 1300.7h0M438.2 1290.9h0M402.3 1284.6h0M394.7 1288.5h0M441.1 1292.2h0M437.8 1291.3h0M435.6 1284.5h0M430.9 1294.1h0M427.3 1302.2h0M431 1289.9h0M412.8 1301.4h0M401.2 1281.9h0M414.7 1294.6h0M419.6 1295.4h0M395.4 1291.5h0M391.2 1282h0M410.9 1285.2h0M435.2 1296.6h0M394.6 1286h0M408.4 1286.4h0M446.4 1290h0M414 1293.1h0M406.4 1297.7h0M430.2 1300.6h0M412.4 1304.1h0M446.3 1295.1h0M421.6 1295.8h0M415.4 1300.9h0M410.5 1296.1h0M419.5 1292.3h0M422.8 1298.3h0M397.9 1290.7h0M421.2 1291.1h0M421.2 1291.3h0M400.6 1293.3h0M401.3 1292.5h0M432.2 1292.7h0M419.1 1293.1h0M427.9 1293.6h0M425.1 1296.4h0M399.7 1276.4h0M417 1296.6h0M419.8 1291.4h0M431.3 1297.8h0M442.6 1294.2h0M430 1290.4h0M434.4 1289h0M437.5 1297.5h0M431.4 1289.5h0M429.2 1298.5h0M431.2 1291.3h0M411.7 1286.5h0M407.5 1287.4h0M441.9 1290.5h0M397.1 1278.7h0M423.4 1294.4h0M433.2 1293.3h0M397.1 1279.7h0M428.8 1289.3h0M437.9 1284.9h0M401.6 1287.8h0M414.2 1300h0M429.2 1295.8h0M420.8 1297h0M444.5 1293.9h0M406 1278.7h0M421 1292.5h0M419.9 1291.3h0M421.3 1293.2h0M424 1302.8h0M424.4 1295.7h0M444.7 1294.1h0M416.1 1306.8h0M434.3 1298h0M404.7 1281.1h0M422.3 1302.1h0M397.9 1290.6h0M411.9 1296.5h0M422.7 1301.4h0M396.9 1290.7h0M439.3 1299.8h0M435.2 1293.1h0M422.9 1292.3h0M441.5 1286.8h0M424.2 1296.5h0M447.8 1290.8h0M440.3 1297.9h0M426 1299.3h0M405.8 1297.6h0M397.1 1290.5h0M431.3 1291.5h0M433.3 1301.3h0M407.8 1296.2h0M412 1303.7h0M442.5 1288.7h0M444.6 1290.9h0M424.7 1303h0M406.2 1297.6h0M446.6 1288.3h0M416 1304.3h0M398.1 1296h0M420.9 1291h0M426.2 1289.6h0M399.6 1281.3h0M413.9 1306.2h0M420.3 1293.8h0M433.5 1291.4h0M429.3 1298.6h0M406.9 1299.5h0M410.2 1294.1h0M431.7 1299.3h0M442.2 1288.3h0M410 1286.7h0M414.3 1297.6h0M434.1 1286.6h0M427.7 1303.8h0M433.3 1288.6h0M415.1 1305.7h0M418.4 1302h0M395.7 1290.1h0M421.3 1293.5h0M418.1 1289.3h0M435.8 1290.7h0M399.8 1294.7h0M417 1296.5h0M423.6 1304.2h0M425.4 1306.8h0M436.8 1282.8h0M433.7 1294.8h0M403.2 1285.3h0M395.3 1284h0M441.2 1286.3h0M423.6 1306.9h0M416.1 1289.3h0M426.7 1296.8h0M419 1291.4h0M404.5 1296.5h0M415.2 1300.2h0M433.6 1299.8h0M423 1300.3h0M406.8 1296.1h0M435.9 1288.1h0M411.4 1296.6h0M428.4 1304.3h0M434.6 1303.8h0M442.6 1290.1h0M450.1 1292.2h0M437.5 1287.9h0M408.4 1289.9h0M428.2 1290.2h0M428.5 1290.9h0M407.6 1282.8h0M400 1291.3h0M409.2 1284.3h0M428.9 1301.1h0M416.3 1292.9h0M440.6 1291.4h0M440.1 1300.2h0M407.7 1300.1h0M420.8 1291.5h0M394.1 1280.2h0M400.4 1286.2h0M417.4 1300.5h0M410 1291.8h0M428.9 1296.7h0M429.7 1305h0M441.8 1292.6h0M437.9 1292.7h0M405.7 1295.8h0M407.7 1287.3h0M437.3 1298.5h0M432.6 1305.5h0M396.8 1286.3h0M432.1 1290.3h0M438.2 1280.8h0M444.6 1295.2h0M419.4 1289.6h0M422.7 1304.6h0M420.2 1291.4h0M426.8 1300.3h0M405.4 1285.1h0M438.8 1284.9h0M416 1304.1h0M417.9 1302.2h0M430.4 1304.3h0M446.8 1288.3h0M434.5 1302.5h0M432.1 1301.6h0M424.3 1300.6h0M425.5 1307.4h0M399.1 1280.5h0M420.3 1295.2h0M408.2 1286.4h0M407 1299.1h0M430.7 1288.5h0M434.7 1304.3h0M406.5 1291.9h0M435.9 1294.6h0M447.8 1295.8h0M448.8 1259.3h0M445.2 1274.2h0M449.3 1255.1h0M449.3 1255.5h0M449.4 1271.7h0M447.6 1241.5h0M451.7 1250h0M452.4 1257.6h0M452.2 1268.8h0M451.8 1246.2h0M448.8 1252.6h0M450.4 1272.6h0M448.3 1263.6h0M451.8 1249.6h0M452.1 1261.4h0M446.7 1245.8h0M450.2 1257.6h0M447.2 1242.1h0M451.9 1269.5h0M446 1273.7h0M451.6 1274.9h0M449.5 1253h0M451.6 1268.9h0M449.4 1274.9h0M449.3 1275.3h0M451 1257.2h0M451.5 1273.8h0M452.8 1250.7h0M447.7 1252.4h0M449.2 1275h0M450.7 1273.6h0M449.2 1267.5h0M449.9 1260h0M447 1242.7h0M450.3 1246.1h0M450.7 1244.4h0M449.2 1253.2h0M451.6 1252.4h0M449.7 1251.7h0M449.3 1257.5h0M451.2 1248h0M450.9 1253.1h0M447 1267.6h0M449.1 1259.4h0M447 1270.1h0M424.8 1233.9h0M420.8 1237.3h0M420.3 1231h0M409.6 1201.5h0M425 1232.9h0M404.7 1194h0M409.3 1198.6h0M406.9 1200.9h0M419.4 1230.1h0M416.6 1223.6h0M415.2 1206.2h0M408.7 1195h0M401.5 1188.2h0M411.7 1201h0M406.6 1193.6h0M420.6 1229.3h0M416.9 1210.7h0M417 1213.5h0M411.3 1198h0M417.5 1225.2h0M411 1214.5h0M408.1 1208.1h0M417.4 1213.3h0M415.6 1216.2h0M405.1 1197.3h0M403.8 1194.2h0M421.5 1219.8h0M424.1 1225.8h0M420.5 1230.2h0M425.2 1234h0M407.7 1205.2h0M418.6 1219.7h0M423.4 1232.7h0M402.2 1193.1h0M416.9 1224.9h0M421.8 1226.2h0M422.6 1231.8h0M419.4 1219.1h0M402.7 1194.8h0M410.8 1200.7h0M409.2 1208.7h0M406.7 1203.7h0M411.2 1205.5h0M410.1 1207.6h0M420.3 1236.4h0M413.4 1221.3h0M410.3 1200.6h0M418.9 1220.9h0M418.9 1233.5h0M420.6 1233h0"/>
<path id="sc3" d="M403 1005.4h0M422.9 1022.6h0M419 973.9h0M409 1003.9h0M410.1 1001.8h0M410.7 999.4h0M421.8 991h0M422.2 993.4h0M425.7 981.1h0M424.7 978.9h0M416.4 1006.7h0M416 1009h0M416.4 996.8h0M418.7 997.7h0M427.1 994.4h0M408.6 1022h0M402.6 1011.7h0M404.8 1012.5h0M406.7 1014h0M411.8 1024.2h0M410.8 1022.1h0M408.5 1021.2h0M421 1010.5h0M413.5 1031.3h0M415.5 1032.6h0M417.2 1034.3h0M414 983.9h0M412.4 985.6h0M404 981.5h0M405.4 979.6h0M406.9 977.7h0M412.2 984.4h0M410.8 982.5h0M408.5 982.6h0M415.3 1015.2h0M413 1014.4h0M412.2 1012.1h0M415.8 1010.3h0M414.1 1008.6h0M409 1031h0M408.6 1033.3h0M406.7 1018.8h0M418.8 1003h0M418 1005.6h0M418.5 1007.9h0M413.4 996.5h0M415 998.3h0M416.4 1000.2h0M412.6 980.8h0M414.1 978.9h0M410.7 994.1h0M411.2 996.4h0M412.5 998.4h0M404.5 995h0M402.4 993.8h0M427.4 992.4h0M419.9 1007.2h0M425.9 970.3h0M414.3 1020.1h0M412.7 1018.3h0M410.3 1018h0M412.3 1025.1h0M410.2 1023.9h0M421 1007.2h0M423.9 1024.6h0M420.1 1003.5h0M403.4 994.4h0M401 994.8h0M417.7 1006.8h0M415.4 1007.7h0M413.1 1008.2h0M410.7 998.6h0M410.9 996.2h0M411.1 993.9h0M418.7 1028h0M403.6 1009.2h0M403 1011.6h0M401 1012.9h0M419.1 1032.2h0M420.7 1030.4h0M423.1 1030.1h0M425.1 1013.5h0M413.9 967.3h0M403.5 1007.9h0M411.1 1010.4h0M412.7 1012.2h0M415 1012.7h0M403.6 1019.2h0M414.8 982.7h0M413.1 984.4h0M404.9 1029.8h0M406.6 1031.5h0M408.6 1030.2h0M418.7 1028.6h0M418.3 1031h0M413.7 993.4h0M414 995.7h0M413.8 990.1h0M415.4 991.9h0M416.3 1031.9h0M414.6 1033.6h0M418.2 1016.7h0M418.6 994.2h0M418.1 991.8h0M417.5 989.5h0M422.6 993.3h0M424.9 992.7h0M421 978.2h0M419.3 1017.7h0M404.4 1014.8h0M414.2 978.5h0M416 980.1h0M417.3 982.1h0M409.6 1013.9h0M412 1014.2h0M414.1 1015.3h0M402.7 987.5h0M404.8 988.8h0M410.9 967.9h0M410.4 965.6h0M401.4 1003h0M401.7 1005.4h0M408 990.5h0M407.8 992.9h0M416.9 999.9h0M402.4 1005.6h0M404.3 1007.1h0M420.5 1029h0M408.7 1014.9h0M416.4 972.3h0M414.7 970.7h0M409.3 1023.9h0M419.6 992.7h0M417.5 991.5h0M416.1 992.3h0M418.1 991h0M422 1013.9h0M421.2 975.5h0M422.9 977.2h0M411.6 997.5h0M409.4 998.3h0M408.1 996.3h0M415.6 1035.2h0M403.5 980.2h0M403.7 982.6h0M425.2 971.7h0M416.1 1007.9h0M417.7 1006.1h0M406.6 1031.8h0M407.8 1029.8h0M404.3 999.1h0M402 998.8h0M403.4 990.3h0M426 988.4h0M424.3 986.6h0M424 1007.6h0M422.5 1009.5h0M421.9 1011.8h0M400.2 1000.2h0M422.4 974.4h0M424.8 974.3h0M408.2 985h0M409.8 986.8h0M421.4 1023.6h0M419.1 1023.1h0M416.3 987.1h0M419.3 1005.2h0M418.6 1002.9h0M412.3 1015h0M426.2 990.2h0M426.9 1010.2h0M406.2 994.6h0M404 995.6h0M427.1 1001.8h0M428.4 1003.8h0M415.9 982.9h0M414.4 981h0M413 979.1h0M420.4 981.9h0M407.9 977.2h0M409.6 978.8h0M413.4 995.9h0M415.5 997.1h0M417.8 997.3h0M422.3 982.6h0M420.4 981.2h0M418 980.8h0M410.1 1041.9h0M410.5 1039.5h0M402.5 995h0M424.7 991.1h0M427 990.5h0M428.4 988.6h0M406.6 973.8h0M421.9 969.5h0M419.8 968.2h0M417.5 967.6h0M423.4 993.5h0M423 991.1h0M421.9 989h0M403.4 1024.7h0M403.5 1027.1h0M410.6 966.2h0M412.2 1029.9h0M410.1 1031h0M409.3 998.9h0M408.7 1001.2h0M409.3 1003.5h0M410.8 1040.6h0M422.1 963.6h0M419.9 964.7h0M417.8 963.7h0M411.2 984.9h0M411.4 1032.5h0M413.8 1032.6h0M416.2 1032.4h0M406.7 996.7h0M406.6 994.3h0M408.5 992.8h0M419.9 974.4h0M412 1008.1h0M425.5 994.4h0M425.4 992h0M424 990h0M404.5 981.8h0M418.5 962.8h0M400.7 1010.2h0M418.8 1008.4h0M424.9 985.2h0M423.2 983.5h0M409.5 977.6h0M408.5 975.4h0M410.6 974.1h0M412 976.3h0M411.2 978.6h0M408.8 979.1h0M420.5 1007.6h0M420.4 1010h0M422.9 1029.9h0M414.4 991.5h0M443.8 930.9h0M433.6 950.7h0M435.3 939.7h0M446.8 925.6h0M438.3 935.3h0M452.2 914.2h0M452.6 915.9h0M437.5 935.7h0M425.7 965.7h0M429.6 957h0M441.9 928.7h0M450.7 914.8h0M429.2 954.4h0M441.9 927.6h0M447.5 918.3h0M434.3 946.4h0M443.3 927.8h0M429 952.2h0M430.5 955.6h0M427.4 955.2h0M428.4 955h0M430.6 954.4h0M439.5 932.2h0M438.7 935.9h0M433.7 945.8h0M443.9 924.2h0M441.2 930.6h0M429.7 958.6h0M446.6 920.7h0M424.1 961.3h0M447.2 918.2h0M424.8 962.3h0M426.3 959.3h0M435.1 947.6h0M424.9 961.7h0M434.3 948.9h0M443.4 930.2h0M437.7 935.3h0M429.8 958.6h0M434.7 944.6h0M431.6 949.1h0M446 920h0M449.2 921.1h0M447.6 921.6h0M448.7 917h0M432.8 949.5h0M441.7 928.9h0M427.5 963.4h0M429.8 958.9h0M435.9 944.2h0M421.2 921.9h0M416 920.9h0M420.6 920.6h0M416.8 919.4h0M418.6 923.9h0M417.4 921.8h0M435.3 1033.5h0M433 1027.1h0M442.4 985.5h0M427.1 1019.8h0M428.6 1017.9h0M429.5 1003.2h0M422.9 1016.6h0M421.4 1018.4h0M441.4 1000.6h0M422.3 1014.5h0M421.3 1023.7h0M429 1000.9h0M427.3 1002.6h0M425.8 1004.4h0M437.5 995h0M435.1 995.2h0M434 993h0M434.1 986.1h0M436.3 985.3h0M438.4 986.6h0M433.3 978h0M434.7 979.9h0M431.1 1018h0M429.6 1019.9h0M427.5 1020.9h0M424 1006.7h0M423.6 1004.3h0M423 1002h0M438.7 983.9h0M440.3 982.1h0M436.8 1016.8h0M435.2 1015h0M422.2 1000.7h0M423.2 998.6h0M422 996.4h0M440.3 1014.3h0M438.5 1012.7h0M442 1015.9h0M441.8 1018.3h0M437.2 993.3h0M418.2 1054.1h0M416.6 1052.2h0M423.4 1051.8h0M421.3 1050.7h0M420.1 1050.6h0M420.8 1052.9h0M422.1 1054.9h0M410.5 1046.6h0M408.9 1048.4h0M408.2 1050.7h0M419.1 1051.4h0M412.8 1045.5h0M411.8 1047.7h0M424.3 1048.1h0M421.4 1046.1h0M421.5 1048.5h0"/>
<path id="sc4" d="M468.4 995.9h0M461.1 1015.5h0M463.3 1024.1h0M469.1 997.3h0M466.4 1001.8h0M468.4 1002h0M467.3 1012h0M462.1 1014.8h0M466.5 996.7h0M462.2 1015.4h0M463.8 1018.8h0M463.1 1003.1h0M462.5 1015.8h0M462.6 1006.2h0M462.2 1019.6h0M466.1 1013.1h0M463.7 1012.6h0M462.1 1023.8h0M461.8 1009.5h0M466.2 1008.9h0M462.2 1009.7h0M466.1 999.7h0M459.5 1020.6h0M462 1017.4h0M462.9 1015.2h0M463.4 1012.7h0M461.4 1015.9h0M464 1004.5h0M464.2 1008.4h0M466.7 996.6h0M469 1001.2h0M462.9 1015.1h0M465.8 1011.5h0M463.9 1024.4h0M463.5 1014.4h0M468.1 1003.4h0M464.5 1011h0M460.8 1022.9h0M466.5 1015.8h0M465.1 1015.5h0M463.7 998.7h0M464.1 1003.7h0M465.7 1002.5h0M467.5 1001.6h0M461.7 1012.6h0M460 1020h0M464.6 1021.2h0M465.2 1015h0M460.8 1019.5h0M468.9 999.2h0M441.3 1067h0M449.8 1041.6h0M439.5 1071.4h0M438.5 1065.2h0M454.1 1032.7h0M456.1 1035.7h0M444.1 1069.4h0M460.7 1033.2h0M454.1 1027.1h0M452.4 1034.9h0M436.7 1070.2h0M443.6 1066.8h0M430.6 1077.3h0M443.3 1050.3h0M442.1 1070.4h0M439.3 1060.6h0M454.7 1041.1h0M444.7 1053.5h0M452.2 1036.2h0M448 1066.1h0M437.4 1080.1h0M451.7 1053.7h0M452.3 1032.4h0M463.2 1028.5h0M453.2 1055.2h0M450.8 1039.8h0M447.7 1057.4h0M435 1078.5h0M449.2 1045.4h0M454.5 1051.1h0M458.6 1038.9h0M452.2 1043.7h0M448.3 1060.5h0M444.2 1059.5h0M449.9 1044.3h0M443.8 1055.8h0M447.9 1064h0M433 1072.1h0M453 1042.6h0M442.8 1067.8h0M444.3 1074.8h0M444.5 1065.8h0M447.5 1066.3h0M451.2 1058.9h0M457.9 1043.9h0M451.1 1044.7h0M451.5 1031.7h0M441.9 1072h0M452.9 1038.6h0M441.9 1065.7h0M451.8 1037.4h0M441.6 1068.8h0M447 1065.1h0M450.9 1034.3h0M445 1066.3h0M463.7 1030.6h0M453.7 1053.3h0M442.8 1071.6h0M451.6 1044.9h0M443.9 1048.9h0M462.4 1029.2h0M455.7 1027.5h0M445 1057.5h0M440.7 1058.4h0M438.2 1059.8h0M448.7 1059.2h0M451.1 1047.3h0M433.5 1071.4h0M442.6 1073h0M437.7 1076h0M448.4 1055.9h0M453.8 1051.1h0M451.4 1042.2h0M430.8 1077.2h0M460.1 1030.4h0M446.2 1065.3h0M444.1 1054.7h0M432.8 1074.8h0M455.2 1039.4h0M445.2 1052.9h0M443.5 1069.5h0M436.5 1065.7h0M442.5 1075.3h0M444 1062.1h0M453.7 1050h0M447.2 1047.3h0M439.7 1057.2h0M453.8 1040.6h0M445 1046.8h0M455.1 1027.8h0M448.6 1082.6h0M446.7 1081.1h0M445.6 1079h0M440.8 1072.6h0M443.2 1072h0M437.7 1075.7h0M435.5 1076.8h0M429.1 1080h0M430.5 1081h0M438.2 1073.2h0M440.4 1072.2h0M430.8 1070h0M444.3 1063.8h0M446.2 1065.4h0M447.4 1067.4h0M435.1 1084.4h0M437.5 1084.1h0M438.7 1086.2h0M439.4 1066.3h0M438.7 1062.2h0M437.6 1088.1h0M439.7 1089.3h0M440.2 1089.9h0M447.1 1085.7h0M443.6 1065.8h0M445.7 1064.6h0M447.9 1063.8h0M447 1081.8h0M446.6 1084.2h0M438.3 1087.6h0M440.5 1088.5h0M435 1088.5h0M437.4 1088.3h0M438.1 1074.4h0M437.6 1072h0M436 1070.3h0M436.6 1086.3h0M439 1085.8h0M441.2 1085.1h0M438.6 1077.3h0M434.8 1067.3h0M432.8 1068.7h0M430.6 1068h0M431.6 1083.8h0M444.4 1084.6h0M449.4 1082h0M449.2 1079.6h0M444 1076.8h0M441.7 1076.5h0M439.3 1076.4h0M444 1078.9h0M445.9 1080.4h0M444.1 1073.4h0M441.7 1073.7h0M433.5 1065.9h0M435.7 1067h0M438 1067.5h0M451.6 1073h0M428.3 1077.5h0M437.9 1080.5h0M437.7 1078.1h0M438 1075.8h0M439.4 1074.1h0M432.2 1072.8h0M449.2 1072.6h0M447.2 1073.9h0M447.4 1072.6h0M449.8 1072.7h0M430.5 1074h0M436.2 1066.6h0M434.8 1068.6h0M435.3 1071h0M433.3 1072.9h0M431.5 1074.5h0M430.6 1076.8h0M435.9 1083.5h0M437.5 1081.7h0M441.7 1075.5h0M444.1 1075.2h0M446.2 1074h0M446.4 1069.6h0M448.1 1067.9h0M430.3 1077h0M429.9 1080.1h0M442 1071.8h0M435.9 1060.1h0M462.9 1062.9h0M463.4 1060.6h0M474.9 1063.7h0M477.3 1064.1h0M477.9 1061.8h0M444.9 1073.2h0M444.6 1075.5h0M444.2 1077.9h0M456.4 1056.9h0M454 1057.1h0M461.4 1046.8h0M461.7 1049.2h0M443.8 1053.2h0M458.4 1053.8h0M456.7 1062.1h0M445.3 1057.6h0M444.8 1055.2h0M461.3 1055.3h0M463.1 1053.6h0M451.3 1044.1h0M450.7 1041.8h0M450.4 1047.2h0M458.3 1071.4h0M443.6 1067.3h0M445.5 1068.9h0M447.4 1070.3h0M441.8 1058.7h0M441.1 1061h0M442.9 1062.5h0M432.2 1071.5h0M470.5 1053.2h0M472.9 1053.4h0M470.7 1054.5h0M434.3 1063.9h0M432 1063.4h0M457 1049.5h0M456.3 1051.8h0M467.8 1048.5h0M468 1046.1h0M440.1 1076.5h0M442.5 1077h0M444.5 1078.3h0M432.6 1054.1h0M431 1052.3h0M469.1 1043.1h0M467.4 1041.4h0M470.1 1046.4h0M464.2 1047h0M468.2 1051h0M470.1 1052.5h0M469.9 1050.1h0M462.8 1045.6h0M466.4 1050.4h0M467.8 1048.4h0M470 1049.1h0M469.9 1046.7h0M468.7 1044.6h0M465.7 1050.6h0M466.2 1048.2h0M465.2 1046h0M473.7 1045.8h0M472.7 1048h0M471.3 1050h0M468 1050.4h0M465.6 1050.1h0M467.6 1045.9h0M464 1044.7h0M463.8 1046.1h0M464.8 1048.3h0M467.2 1048.1h0M470.9 1043.8h0M470.8 1047.9h0M470.3 1050.3h0M472.9 1045h0M473.6 1047.6h0M471.5 1046.3h0M468 1052.1h0M467.3 1049.7h0M469.1 1048.1h0M470.7 1048.5h0M468.7 1045.9h0M466.5 1045.7h0M466.2 1048.1h0M464.7 1049.9h0M456.9 1054.5h0M441.6 1045.8h0M440.2 1043.8h0M463.3 1052h0M465.5 1052.9h0M451.5 1055.4h0M450.8 1053.1h0M449.9 1050.9h0M460.2 1048.5h0M457.9 1049.1h0M470.6 1047.9h0M467.5 1041.7h0M467.2 1044.1h0M467.4 1046.5h0M449.3 1049.1h0M451.5 1050.1h0M446 1051.6h0M454.4 1066.9h0M446.8 1038.1h0M444.8 1039.4h0M469.4 1052.4h0M467.8 1054.2h0M463 1063.4h0M460.9 1064.5h0M458.5 1064.6h0M469.3 1051.6h0M467 1051h0M466 1048.8h0M465.2 1043.4h0M466.8 1041.6h0M419.3 1205.8h0M418 1207.8h0M415.7 1208.5h0M416 1215.8h0M413.6 1215.6h0M419.8 1214.9h0M421.2 1216.9h0M417.7 1218.8h0M416 1217.1h0M415 1206.5h0M415.2 1208.9h0M414.9 1216h0M415.4 1213.6h0M423.3 1214h0M417.5 1215.5h0"/>
<path id="sc5" d="M503.6 1051.6h0M493 1046.3h0M494 1040h0M495.9 1038.6h0M498.2 1037.9h0M491.9 1040.4h0M490.2 1042.1h0M488 1043.2h0M503.3 1055h0M504.4 1042.4h0M501.4 1049.2h0M500.7 1046.9h0M503.3 1049.4h0M504.2 1047.2h0M491.6 1043.3h0M489.6 1042h0M503.8 1049.3h0M502.3 1045.5h0M500.1 1044.6h0M494.3 1054.2h0M498.3 1053.7h0M496.3 1052.3h0M495.2 1050.2h0M494.4 1052.2h0M503.7 1054.6h0M501.7 1053.3h0M499.5 1052.4h0M494.3 1040.8h0M496.7 1040.1h0M498.8 1046.5h0M496.7 1045.3h0M492.3 1048.1h0M502.7 1053.8h0M497.1 1049.4h0M507 1046.8h0M492 1054.8h0M494.4 1054.6h0M496.8 1054.8h0M499.1 1047.8h0M497.5 1049.5h0M499.6 1045.9h0M498.4 1043.9h0M498.5 1041.5h0M488.9 1045.5h0M502.8 1047.8h0M502.8 1050.2h0M498.8 1052h0M496.8 1053.3h0M490.7 1044.2h0M491.5 1042h0M505.1 1052h0M498.8 1048.1h0M497.8 1050.3h0M495.8 1051.7h0M506.6 1045h0M505 1046.2h0M503.8 1047.6h0M505.8 1046.3h0M489.3 1041.9h0M504.1 1044.5h0M504 1042.1h0M502 1040.8h0M505.5 1055.2h0M502.3 1039.7h0M504 1041.4h0M498.6 1053.5h0M492.2 1044.5h0M496.9 1056.9h0M496.8 1052h0M495 1058h0M496 1055.8h0M496 1053.4h0M498.9 1051.2h0M496.9 1052.4h0M495.5 1054.4h0M498 1052.3h0M490.4 1052.1h0M495.4 1038.4h0M503.7 1042.9h0M503.5 1045.2h0M495.8 1038.8h0M498 1039.8h0M494.7 1043.7h0M492.4 1042.8h0M490.1 1042.1h0M490.8 1041.9h0M502.5 1047.5h0M500.8 1045.8h0M499.5 1043.8h0M496.8 1057.8h0M497.5 1060h0M494.9 1059.1h0M489 1051.2h0M495.4 1047.1h0M493.5 1048.6h0M499.8 1047.6h0M497.5 1048h0M495.8 1049.7h0M501.7 1056.2h0M503.1 1054.2h0M504 1052h0M495.4 1043.4h0M492.6 1050.5h0M499.1 1052.6h0M497.1 1053.9h0M495.3 1055.5h0M492.8 1052.7h0M490.5 1052.2h0M488.8 1050.5h0M495.1 1058.9h0M507.2 1047h0M507.8 1049.4h0M495.7 1040.4h0M496.8 1042.5h0M503.1 1051.1h0M503.8 1048.8h0M501.1 1044.1h0M503.3 1043.2h0M505.7 1042.8h0M488.4 1049.9h0M496.7 1076.4h0M490.9 1086h0M487.1 1082.7h0M503.1 1064.2h0M495.3 1073.3h0M490.4 1087.8h0M497.7 1075.4h0M501.1 1070.2h0M495 1070.4h0M503.1 1061h0M497.1 1073.4h0M492.8 1073.3h0M500.5 1065.6h0M500.2 1072.1h0M488.4 1083.4h0M500.2 1062.6h0M492.5 1085.3h0M491.5 1082.2h0M492.6 1081.8h0M491 1078.2h0M498.8 1075.2h0M491.5 1077.6h0M505 1061.9h0M495.2 1078.8h0M494.8 1080.2h0M489.7 1087.6h0M493.6 1082.2h0M490 1078.6h0M487.7 1086.8h0M499.1 1063.4h0M498.3 1071.9h0M499.1 1070.3h0M496.8 1072.7h0M503 1064h0M497.1 1064.7h0M490.3 1085.6h0M487.4 1085.2h0M491.7 1077.8h0M498.4 1072.8h0M494.6 1079.8h0M484.3 1035.7h0M476.1 1029.4h0M469.9 1025h0M482.6 1030h0M470.8 1021.7h0M482.3 1028.4h0M481.7 1033.2h0M472.3 1026.6h0M483.2 1031.6h0M470.3 1024.9h0M478.4 1030.7h0M486.5 1031.9h0M471.3 1025.7h0M489.6 1037.5h0M470.7 1025.2h0M482.6 1031.8h0M483.6 1034.1h0M483.8 1033.7h0M471.3 1021.1h0M471.1 1020.7h0M483.6 1031h0M485.4 1031.5h0M472.8 1026.2h0M476.7 1029.7h0"/>
<path id="sc6" d="M362.8 998.7h0M364.9 994.1h0M364.7 1005h0M364.7 1017.2h0M361.2 997.5h0M364.8 995.3h0M360.4 1001.6h0M368.1 1012h0M364.9 1007.9h0M365.7 1009h0M370.4 1018.1h0M360.9 992.4h0M363.4 1001.1h0M360.4 1001.5h0M361 991.9h0M362.5 1016.6h0M361.7 1005h0M360.3 997.6h0M366.1 1019.7h0M365.7 1011.8h0M361.6 1001.7h0M365.4 1019.2h0M369.2 1017.4h0M363 1013.8h0M363.4 1002.4h0M361.6 1004.9h0M365.3 994.8h0M358.2 990.9h0M364.6 1019h0M361.7 1003.2h0M363.1 1011h0M366.2 1011.9h0M361.5 1002.6h0M361.4 992.2h0M358.2 991.9h0M363.4 1007.6h0M364.9 1008h0M360.3 1010h0M362.2 993.7h0M367.4 1007.8h0M357.4 990.7h0M368.4 1015.6h0M364 1020.7h0M363.7 1010.1h0M366.7 1015.8h0M367 1011.6h0M363.8 1006.4h0M365.3 996.3h0M359.9 1004.5h0M363.6 1015.7h0M361.6 998.3h0M366.5 1003.2h0M364.5 1000.5h0M369.3 1013.1h0M364.5 1003.6h0M364 1006.1h0M361.4 1009.5h0M362.8 991.4h0M367.5 1014.9h0M363.5 997.4h0M364.2 1003h0M360.6 1007.7h0M363.7 1011.5h0M363.8 995.5h0M369.4 1014.5h0M362.6 998.7h0M366.6 1019.9h0M365 1015.1h0M364.5 1020.2h0M364.2 993h0M363 998.9h0M361.3 1000.5h0M366.3 994.6h0M365.4 996.8h0M361.8 999.5h0M366.2 995.8h0M366.7 998.2h0M364.3 994.9h0M362 995.4h0M364.6 989.9h0M362.7 988.5h0M365.4 992.2h0M364.1 995.8h0M363.5 996.9h0M362.7 996.6h0M360.4 995.9h0M365.5 1000.1h0M365.8 996.4h0M366.3 995.7h0M365 993.7h0M360.6 994.9h0M360.7 993.7h0M358.3 993.8h0M361.5 1001.5h0M362.5 995.3h0M360.7 996.8h0M359.1 998.6h0M367.2 994.6h0M360.3 999.8h0M362.7 999.6h0M364.9 998.5h0M367.3 995.6h0M364.1 991.1h0M362.1 1001.6h0M359.3 990.8h0M362.9 993.3h0M365.1 992.3h0M362 989.1h0M366.9 990.7h0M359 992.3h0M373.8 996.2h0M374.6 1001.7h0M371.8 994h0M369.3 995.2h0M379 990.1h0M374.5 996.1h0M372.5 994.8h0M371.5 992.6h0M374.3 991.6h0M376.7 997.4h0"/>
<path id="sc7" d="M409.7 904.7h0M410.1 907.1h0M409 895h0M410.8 896.5h0M411.6 898.8h0M410 902.7h0M408.3 904.4h0M409.1 906.7h0M409.3 905.7h0M411.9 902.6h0M414.6 899.8h0M413.8 897.5h0M408.3 905.2h0M412.7 903h0M411.1 901.2h0M409.2 899.8h0M410.6 900.6h0M413.1 892.8h0M412.2 903.5h0M413 898h0M414 895.8h0M413.6 897.9h0M412 900.1h0M409.8 900.9h0M408.7 903.1h0M408.2 897.1h0M408.7 894.7h0M410.4 893.6h0M409.9 906.5h0M410.7 904.2h0M411.3 899.8h0M411.8 897.5h0M410.2 900.7h0M410.9 903h0M410.9 893.5h0M419.5 884h0M420 886h0"/>
<path id="sc8" d="M449.5 1178.5h0M444.1 1189.6h0M447.1 1182.1h0M436 1196.5h0M447 1183.4h0M443.9 1188.7h0M446.3 1181h0M444.8 1183.2h0M446 1179.9h0M447.3 1181.7h0M436.9 1196.6h0M447.8 1182.7h0M449.6 1179.4h0M438.6 1197.6h0M447.3 1179.6h0M439.3 1194.3h0M438.1 1193.1h0M442.8 1186.6h0M445.2 1186.2h0M446.6 1185.2h0M441 1191.5h0M439.9 1190.9h0M440.3 1191.3h0M442.3 1192.9h0M439 1193h0M444.3 1188.4h0M444.8 1188.6h0M445.4 1186.3h0M446.8 1184.4h0M444.7 1183.8h0M444.2 1188.2h0M445.8 1186.4h0M446.9 1184.3h0M443 1182.6h0M445.3 1186h0"/>
<path id="sc9" d="M194.6 780.1h0M196.9 779.5h0M184.2 826.5h0M182.6 828.4h0M208.4 799.4h0M210.8 798.8h0M212.7 800.2h0M175.5 857.4h0M175.5 859.8h0M166.9 834.7h0M167.4 832.3h0M177.7 789.8h0M175.6 791h0M175.1 793.4h0M181.5 836.1h0M181.3 833.7h0M227 802.6h0M227.2 800.2h0M226.5 797.9h0M186.4 873.2h0M189.8 816.3h0M219.8 819.1h0M199.1 785.7h0M197.9 783.7h0M190.9 851.3h0M233.7 804.1h0M234.5 806.4h0M214.4 795h0M225.4 807.8h0M194.6 805.5h0M191.5 798.2h0M193.1 799.9h0M195.5 800.3h0M214.1 814.4h0M215.3 816.5h0M205.6 860.7h0M188.5 810.9h0M186.2 809.9h0M184.7 811.7h0M203 790.7h0M191.4 856.2h0M193.6 855.5h0M196 855.2h0M187.1 832.7h0M188.3 834.8h0M178.3 822.3h0M179.1 824.5h0M187.4 821.3h0M186.6 819.1h0M178.5 787.9h0M188.6 800.9h0M186.3 801.3h0M183.9 800.8h0M182.1 831.8h0M181.4 829.5h0M202.5 838.9h0M200.7 837.3h0M201.9 843.1h0M197.5 826.9h0M166.2 830.3h0M168.6 830h0M192 846.9h0M190.2 845.2h0M186.9 802.6h0M189 803.8h0M229.1 814.9h0M229.9 812.7h0M210.4 796.4h0M205.2 802.3h0M206.3 804.4h0M193.4 853.7h0M195.1 792.6h0M194.3 794.8h0M192.3 796.2h0M205.5 848.4h0M207.8 847.7h0M184.6 866.9h0M182.3 867.5h0M193.2 802.5h0M191.2 801.2h0M174.5 802.2h0M175.4 800h0M177.1 798.4h0M213.4 822.8h0M213.3 820.4h0M212.3 818.2h0M204.9 809.5h0M176.3 825h0M173.9 825.1h0M171.5 824.7h0M173.6 826h0M192.5 813h0M190.3 812h0M200.3 845.2h0M201.1 842.9h0M203 841.4h0M186.2 838.7h0M184.9 836.7h0M183.7 834.6h0M181 834.4h0M181 832h0M181.2 829.6h0M202.9 861.9h0M169.6 850.8h0M171.8 850.1h0M203.2 809.2h0M202.3 807h0M200.9 805h0M196.1 848.9h0M202.5 855.4h0M202 857.8h0M221.3 804.4h0M195.1 824.9h0M199.9 790.4h0M198.5 788.5h0M197.3 786.4h0M190.6 883.6h0M176.5 830.5h0M174.5 829.3h0M172.3 828.4h0M196.5 875.4h0M195.2 877.3h0M192.8 877.8h0M205.1 856.5h0M204.3 854.3h0M210.5 797.5h0M175.8 861.7h0M177.7 863.1h0M179.2 865h0M210.2 825.5h0M206.8 807.7h0M205.1 806h0M195.8 824.6h0M197.4 822.8h0M189.9 834.3h0M204.4 798.3h0M229.6 807.5h0M232 807.5h0M199.2 842.7h0M172.1 827.4h0M174.1 828.7h0M191.6 806.1h0M192.7 803.9h0M166 816.5h0M167.7 814.8h0M173.5 808.8h0M172.4 822.9h0M172.2 825.3h0M172 827.7h0M175.5 797.6h0M178.4 823.5h0M180.4 822.1h0M182.6 821.3h0M196.5 812.5h0M198.9 812.7h0M200.6 811h0M195.8 793.3h0M188.2 816.4h0M185.9 816.9h0M199.7 858.7h0M189 838.3h0M187.8 836.2h0M202.7 854.5h0M215.6 801.2h0M195.9 823.3h0M191.5 871.9h0M185.6 822.2h0M187.5 816.2h0M206.4 804.3h0M208 802.4h0M209.8 800.9h0M198.1 851.6h0M187.9 789.7h0M207.3 842.1h0M208.6 840h0M208.9 837.7h0M171.1 800.5h0M189.2 864.1h0M187.1 865.4h0M184.8 865.1h0M167.1 809.3h0M166.9 818.9h0M177.2 802.8h0M175.9 804.9h0M201.8 840.3h0M203.6 841.9h0M186.4 793.6h0M185.1 791.6h0M186.5 789.6h0M181 879.8h0M180.6 877.4h0M189.1 809h0M188.9 806.6h0M229.1 815.8h0M229.8 813.5h0M229.2 811.2h0M174.5 799.1h0M173.3 801.2h0M172.4 803.4h0M205.3 824.8h0M203.7 823h0M201.5 824.1h0M228.6 796.8h0M180 847.7h0M179.4 850h0M180.5 852.2h0M170.1 814.7h0M167.8 814.3h0M190.7 847.3h0M189.5 849.3h0M188.4 851.5h0M202.3 861.9h0M204 860.2h0M188.9 885.1h0M188.4 882.8h0M182 808.4h0M180.9 806.3h0M192.5 875.9h0M225.2 804.4h0M226.5 806.4h0M228.6 807.7h0M187.7 804.9h0M189.2 803h0M183.7 830.3h0M195 801h0M194.7 798.6h0M193.8 818.9h0M191.5 819.8h0M189.8 821.4h0M165.7 815.2h0M167.9 816.2h0M200.9 851.1h0M198.8 852.3h0M171.2 807.2h0M201.2 836.8h0M177 796.3h0M190.5 806.1h0M188.7 804.6h0M210.1 818.2h0M208.8 816.1h0M206.6 815.2h0M207.8 851.3h0M205.4 851.5h0M203.1 852h0M174 827h0M189.3 874.7h0M187.3 873.5h0M192.1 827h0M191 825h0M192.5 785h0M190.6 783.5h0M188.6 782.1h0M178.1 863.5h0M187.2 825.3h0M181.2 865.8h0M182.6 863.8h0M171.8 848h0M192.9 857.3h0M183.7 801.9h0M183 799.6h0M181.9 797.5h0M205 857.6h0M207 856.3h0M208.1 854.1h0M191.5 859.1h0M189.1 858.6h0M203.4 798h0M203.2 800.4h0M181.4 806.6h0M179.1 806h0M176.7 806h0M202.7 858.8h0M202.8 861.2h0M202.2 863.6h0M185.2 834.4h0M186.7 832.5h0M216.1 816.3h0M169 843.3h0M196.3 874.9h0M198.6 875.7h0M178.2 856.7h0M180.6 856.4h0M181 858.8h0M205 803h0M198.3 846.7h0M196 847.4h0M189.9 795h0M169.5 838.3h0M169.8 835.9h0M170.7 833.7h0M195.7 849h0M193.3 848.5h0M205.5 848.5h0M205.2 846.2h0M186.6 802h0M188.1 803.9h0M187.7 806.3h0M176.3 854.7h0M194.9 795.3h0M192.2 794.5h0M186 818h0M197.6 832.1h0M184 808.4h0M184.7 806.1h0M188.6 869.5h0M191.6 797.6h0M186 851.5h0M188.1 850.2h0M183 881.4h0M184.9 879.9h0M186.8 878.4h0M177.5 788.6h0M192.3 794.2h0M177.7 828.6h0M175.4 814.5h0M180.6 826.2h0M178.3 825.8h0M175.9 825.4h0M197.3 843.8h0M215.9 795.2h0M214.3 793.3h0M182.6 784.5h0M184 786.5h0M192.7 855.8h0M194.9 854.6h0M182.5 801.1h0M190.6 840.1h0M192.6 838.8h0M171.7 831.1h0M173.9 830.1h0M176.2 829.5h0M186.3 814.8h0M219.2 807.5h0M220.5 805.5h0M201.1 780.2h0M196.4 815.3h0M194.5 808.8h0M196.8 809.6h0M198.9 810.7h0M190.1 792.9h0M207.4 808.3h0M209.5 809.6h0M211.9 809.6h0M197.5 838.4h0M196.4 840.6h0M172.3 843.2h0M171.9 845.6h0M170.8 847.7h0M173.2 862.4h0M175 864h0M177.1 862.8h0M182.3 832.4h0M180.5 834.1h0M178.5 835.4h0M179.3 831.1h0M194.5 843.9h0M192.6 845.4h0M190.3 845h0M224.5 795.5h0M226.4 796.9h0M228.8 797.3h0M196.8 808.1h0M199.2 807.7h0M201.5 807h0M203.5 782.2h0M201.1 781.7h0M215.6 791.7h0M213.2 791.9h0M210.9 792.3h0M178.4 829.7h0M180.7 828.8h0M201.2 864.6h0M202.7 862.7h0M204.3 860.9h0M178.3 842h0M203.7 809h0M202.8 811.3h0M221.8 808.7h0M221.9 806.3h0M208.1 838.9h0M206.1 837.6h0M232 804.9h0M230 806.1h0M181.9 838.2h0M201.3 852.6h0M187.6 850.5h0M186.3 852.5h0M186 854.9h0M192.7 864.1h0M213.9 819.1h0M224.9 801.3h0M224.3 803.7h0M223.6 806h0M197.3 820.4h0M206.8 830.1h0M204.4 829.9h0M202.7 828.2h0M198.8 872.1h0M205 785.8h0M207.6 837.1h0M177.2 840.9h0M224 811.8h0M168.9 827.4h0M167.1 825.8h0M211.8 803.8h0M210.1 802.1h0M207.7 801.7h0M188.5 812.1h0M188.4 809.7h0M188.4 807.3h0M188.5 885.8h0M213.9 814h0M214.6 811.7h0M215.8 809.6h0M177.3 797.4h0M206.2 809.2h0M185.2 858.3h0M187.6 858.8h0M200.4 799.3h0M200 801.7h0M196.8 785.5h0M182.7 789.1h0M182.3 871.5h0M181.7 869.2h0M200 849.4h0M200.9 847.2h0M178.7 865.4h0M177.8 874.3h0M188.3 826.7h0M189.3 824.5h0M167.5 816.5h0M169 818.3h0M191 882.7h0M193.3 882.2h0M194.5 880h0M200.8 811.6h0M202.6 813.2h0M203.7 815.3h0M177.8 798.8h0M184.9 851.2h0M198.8 830.6h0M201 831.5h0M203.4 831.6h0M210.4 798h0M208.9 799.9h0M221 811.1h0M200.2 828.4h0M202.3 829.5h0M204.4 828.4h0M172.5 862h0M173.8 860h0M176.2 860.3h0M195.8 841.3h0M196.2 843.7h0M197.2 845.8h0M174.2 830.6h0M173 828.5h0M192.3 830.2h0M191.3 832.4h0M189.9 834.4h0M191.6 882.6h0M189.3 840.2h0M187.2 841.3h0M185.1 842.5h0M187 790.2h0M180.2 786.2h0M182.4 785.3h0M184.6 784.3h0M177 857h0M206.5 830.5h0M206.2 828.2h0M199.9 833.5h0M202.2 833h0M204.6 832.6h0M214.8 828.3h0M208.3 839.2h0M202.9 823.9h0M205 825h0M205.9 827.2h0M200.5 793.6h0M199 791.7h0M201.6 826.3h0M203.9 825.6h0M182.9 832.1h0M185 831h0M175.2 865h0M190.3 816h0M191.9 817.8h0M188.8 845.2h0M171.7 828.1h0M191.1 849.6h0M190.2 851.8h0M191.3 839.4h0M189.8 837.6h0M177.5 859.9h0M179 858.1h0M185.8 854.2h0M188.1 855h0M197.6 841.5h0M197.4 839.2h0M215.7 796.1h0M229.6 802.9h0M170.2 838.2h0M167.8 838.3h0M165.9 836.7h0M183 801.9h0M181.1 803.4h0M179.1 804.7h0M187 830.3h0M188.2 828.2h0M208.3 848.1h0M171.9 817.3h0M173.3 819.2h0M190.2 792.7h0M188.2 794h0M173 809.3h0M198.2 849.5h0M196.9 847.5h0M193.5 845.4h0M217.4 811.9h0M219.3 810.5h0M221.6 811.3h0M192 815.3h0M192.8 817.5h0M175.3 828.6h0M182 806.7h0M180.9 804.5h0M182.1 862.9h0M178.3 797.3h0M179.7 799.2h0M181.5 800.8h0M195.1 798h0M197.5 798.6h0M205.4 833.7h0M204.7 836h0M224.4 810.8h0M226.3 809.4h0M227.3 807.2h0M183 797.9h0M183.4 795.5h0M182.6 793.3h0M171 794.8h0M234.1 802.4h0M205.2 820.2h0M205.7 817.8h0M208.6 800.4h0M204.8 802.7h0M203.6 804.7h0M192.9 810.6h0M190.5 810.1h0M188.1 810.2h0M185 880h0M186.3 882.1h0M188.7 882.3h0M192.8 864.6h0M194.9 863.3h0M167.8 816h0M169.2 814.1h0M168.3 811.8h0M189.9 869.7h0M191.6 868h0M193.2 866.3h0M176.1 859.4h0M173.8 859.8h0M191 823.3h0M189 821.9h0M179.5 829.9h0M181.6 831h0M184 831h0M215.4 806.2h0M215.6 808.6h0M175.8 826.8h0M174.8 829h0M176.5 830.8h0M185.9 823.3h0M184.6 821.3h0M201.4 834h0M202.8 836h0M203.5 838.3h0M168.8 816.8h0M168.7 814.4h0M168.7 812h0M218.5 812h0M216.2 812.8h0M213.8 812.4h0M187.3 840.8h0M184.9 841.4h0M219.1 801.4h0M215.9 796.5h0M175.8 866.4h0M189.5 845.1h0M188.1 847.1h0M185.7 847.3h0M187.7 878.7h0M233.2 806.8h0M234.3 808.9h0M181 859.4h0M180.5 802.1h0M182.9 801.8h0M196.9 877.1h0M182.1 847.9h0M182.9 850.2h0M181.9 852.4h0M190 802.6h0M199.2 817.5h0M170.1 795h0M171.8 796.6h0M174 797.6h0M182.5 857.1h0M182.9 859.5h0M220.3 802h0M220.2 804.4h0M218.7 806.2h0M182.5 810.6h0M180.6 809.2h0M178.4 810.3h0M176.5 801.8h0M178.8 802.5h0M179.4 804.8h0M201.7 794.5h0M187.7 849.7h0M190.1 849.9h0M192.2 851h0M216 815.9h0M185.2 798.2h0M185.6 795.9h0M175.3 818.7h0M177.3 820.1h0M178.7 848h0M180.9 848.8h0M204.7 837.4h0M206.4 839.1h0M182.1 837.3h0M179.8 837.7h0M177.5 836.9h0M187.8 810.9h0M189.8 852.4h0M190.9 854.6h0M204.5 811h0M202.5 809.6h0M201.3 807.6h0M204.5 806.4h0M206.7 807.4h0M209.8 813h0M198.6 826.2h0M169.2 830.5h0M168.5 832.8h0M170.5 834.2h0M195.5 793.9h0M197.8 793.2h0M229.6 843.8h0M224.5 856.6h0M227.8 854h0M225.5 859.8h0M223.1 859.3h0M229 856h0M228.7 849h0M226.5 848.1h0M225.2 846h0M224.8 848.6h0M229.9 850.5h0M227.6 853.8h0M225.2 840.1h0M224.5 842.4h0M218.8 847.8h0M218.7 850.2h0M227.5 854.2h0M228.9 854.9h0M223.1 844.1h0M221 845.4h0M221.5 852.2h0M220 850.3h0M219.3 848h0M221.8 843h0M220.4 841h0M227.3 851.3h0M225 851.9h0M222.7 851.3h0M219.6 852.9h0M225.7 849.7h0M223.4 849.1h0M222.7 841.3h0M220.3 841.2h0M220 850.1h0M222.5 848h0M224 856.2h0M224.6 858.5h0M220.5 842.9h0M222 841h0M222.7 838.7h0M223.5 854.6h0M222.1 856.5h0M221.6 846.7h0M223 851.5h0M222.4 853.8h0M221.4 856h0M221.7 843.9h0M221.2 841.5h0M220 847.6h0M219.3 845.3h0M221.2 843.7h0M224.2 849.9h0M224.7 841.3h0M223.1 843.2h0M221.6 840.2h0M221.6 829.9h0M221.7 832.3h0M214.2 845.6h0M229 834.2h0M230.1 836.3h0M232.1 837.6h0M224.4 826.1h0M226.7 825.9h0M227 829.5h0M225.8 831.6h0M225.6 848.3h0M224.3 846.3h0M221.9 846h0M228 845.2h0M228 847.6h0M220.1 839.6h0M217.7 839.6h0M220.5 848.5h0M221.3 850.8h0M213.5 829.2h0M201.2 917.4h0M205 899h0M204.7 901.4h0M190.2 907.1h0M189.7 909.4h0M190.5 911.7h0M201.8 918.2h0M200.4 916.3h0M199.8 913.9h0M196.2 895.7h0M198.6 895.9h0M195.2 906.2h0M194.4 903.9h0M203.2 909.1h0M201 910.2h0M196.8 916.9h0M228.2 878.6h0M241.1 887.4h0M244.2 890.8h0M221.9 872.5h0M248.6 891.8h0M233.4 882.1h0M241.1 889h0M229.3 879.2h0M230.4 875.8h0M231.6 878.3h0M218.4 861.4h0M246.9 884.8h0M243.9 891.5h0M229.2 879.3h0M247.2 888.5h0M243.5 883.8h0M230.6 872.9h0M223.2 874.6h0M238 880.6h0M217.1 867.1h0M245.2 893.1h0M215.9 865.2h0M227.5 870.1h0M233 876.4h0M249.3 887.8h0M229.6 871.8h0M198 779h0M206 776h0M214 776h0"/>
<path id="sc10" d="M195.6 1007.9h0M197.7 1009.2h0M187.4 1000.2h0M189 1002h0M190.8 1003.6h0M215.2 1049.5h0M187.5 1003.8h0M186.9 1006.2h0M181.6 1016.3h0M181.5 1018.6h0M191.3 1019.3h0M213.5 1012.1h0M190.7 1026.6h0M206.2 998.1h0M208.6 998.3h0M210.7 997.3h0M203.1 1003.7h0M201.4 1005.5h0M200.1 1007.5h0M197.2 1036.6h0M216.3 1012.8h0M206.2 1005.4h0M206.5 1003.1h0M207.5 1000.9h0M216.6 1025.1h0M178.4 1019.9h0M214.2 1049.9h0M216 1051.5h0M191.4 1055.1h0M193.4 1053.7h0M194.7 1051.7h0M203.6 1019.9h0M205.1 1018h0M207.5 1018.1h0M204.8 998.1h0M203.6 996.1h0M178.8 1031.6h0M180.5 1029.9h0M182.1 1028h0M194.4 1012.7h0M183.7 1018.2h0M182.9 1020.5h0M183.4 1023.8h0M190.5 1028.7h0M205.4 1045h0M204.8 1042.7h0M208.2 1041.6h0M210.2 1042.9h0M197.3 1005.8h0M195.8 1003.9h0M195.4 1001.6h0M195.8 1046.5h0M181.7 1021.2h0M194 1050.8h0M197.6 1006.9h0M197.7 1009.3h0M180.8 1029.9h0M182.1 1031.9h0M181.2 1034.1h0M203.7 1054.4h0M201.8 1052.9h0M199.4 1052.8h0M197.3 1032.7h0M195.9 1030.7h0M203.9 1029.8h0M201.7 1028.7h0M199.7 1027.4h0M210.9 1003.8h0M186.7 1004.9h0M184.3 1004.7h0M181.9 1004.7h0M215.4 1003.8h0M214.5 1001.6h0M214.9 999.3h0M211.2 1050.7h0M179.3 1045.5h0M209.8 1054h0M179 1040.6h0M181.4 1040.3h0M183.4 1041.6h0M206.4 1018.1h0M191.1 1022.6h0M193.4 1023.3h0M195.8 1023.5h0M218.7 1007.6h0M177.4 1016.1h0M180 1004.4h0M179.8 1006.8h0M180.5 1009h0M209.8 1049.3h0M212.1 1048.7h0M214 1047.2h0M204.6 996.7h0M206.9 997.3h0M209.2 998.2h0M190.7 1006.3h0M188.9 1007.9h0M192.3 1005.8h0M193 1003.6h0M194.2 1011.9h0M193.6 1014.2h0M177.3 1018.7h0M179.5 1017.8h0M197.6 1028.5h0M200.3 997.6h0M197.9 997.6h0M195.5 997.4h0M197.3 997.2h0M181.1 1030.3h0M178.7 1030.4h0M210.5 1003.8h0M196.4 1014.1h0M203.7 1024.5h0M187.9 1045.4h0M181.5 1051.7h0M183.6 1052.9h0M218.1 1002h0M195.4 1028.3h0M202.8 1023.1h0M203.6 1020.9h0M197.6 1051h0M213.2 1002.4h0M211.7 1004.3h0M203.6 1028.8h0M194 1018.4h0M195.1 1016.3h0M197 1014.8h0M193 1046.4h0M192.6 1048.7h0M193.5 1051h0M188.5 1037.5h0M188.4 1035.1h0M186.6 1019.7h0M186.3 1022h0M208.1 1034.3h0M208.2 1031.9h0M205.3 1021.5h0M207.2 1023h0M209.4 1024h0M185.2 1036.1h0M186.6 1038h0M206.2 1028.5h0M208.6 1028.3h0M189.1 1053.3h0M184.8 1037.2h0M186.7 1035.7h0M217.3 1016.1h0M215.2 1017.3h0M209.9 1009.1h0M194 1024h0M191.7 1023.3h0M190.5 1021.2h0M204.4 1034h0M202.3 1035.2h0M200 1034.6h0M211.9 1027.5h0M212.7 1025.2h0M215.4 1018.1h0M217.6 1019.1h0M220 1019.4h0M179.7 1049h0M200.3 1032.7h0M202 1031h0M203.9 1029.6h0M196.7 1040.3h0M198.1 1038.4h0M187.5 1053.1h0M185.2 1053.8h0M209.5 1001.3h0M207.4 1002.5h0M200.6 1016.5h0M198.2 1016.9h0M195.9 1016.4h0M179.7 1016.6h0M180.8 1018.8h0M181.8 1020.9h0M187.7 1012.2h0M190.1 1011.9h0M192.3 1011h0M176.7 1045.5h0M179 1044.8h0M180.6 1043.1h0M187.7 1048.8h0M189.6 1050.2h0M192 1050.7h0M211.7 1022.3h0M209.9 1023.9h0M207.7 1024.8h0M177.4 1018.3h0M178.9 1020.2h0M180.4 1022.1h0M201.7 1030.6h0M201.5 1033h0M201.1 1037.1h0M201.6 1034.7h0M185 1043h0M182.6 1043.2h0M180.3 1042.5h0M195.9 1013.3h0M193.5 1013.7h0M191.1 1013.3h0M189.7 1028.5h0M191.8 1027.4h0M192.8 1025.2h0M203 1039.5h0M203.5 1037.1h0M192.6 1000.1h0M195 999.7h0M197.2 1000.7h0M211.1 1012.5h0M218.6 1044.6h0M188.5 1028.2h0M204.2 1011.9h0M187.6 1000.6h0M185.8 1002.1h0M184.3 1004h0M212 1034.8h0M210.1 1033.3h0M207.7 1033h0M197.1 1045.1h0M196 1043h0M203.2 1029.6h0M202.3 1027.4h0M201 1025.4h0M188.9 1010.9h0M191.2 1010.3h0M195 1002.2h0M197.1 1001.1h0M199.5 1001.1h0M189.6 1001h0M188.1 1002.9h0M191.1 1002.5h0M189.6 1004.3h0M198.9 1013.7h0M197.7 1015.8h0M180.2 1040.9h0M214.4 1009.1h0M214.2 1011.5h0M213.3 1003h0M211.2 1001.8h0M195.8 1022.4h0M193.4 1022.7h0M191 1023.1h0M209.6 1048.9h0M207.2 1049h0M213.3 1010h0M212 1012h0M208.9 1037.4h0M211.3 1037.4h0M197.4 1050.8h0M199.7 1050.1h0M201.6 1048.6h0M177.9 1041.8h0M207.9 1025.7h0M209.2 1027.8h0M211.6 1028h0M205.5 1026.5h0M206.7 1028.6h0M208.6 1027.2h0M210.3 1007h0M209.5 1004.7h0M210.7 1002.7h0M196.1 1026.2h0M195.3 1023.9h0M196.9 1022.1h0M208.4 1044.4h0M206.1 1044.8h0M210.3 1030.4h0M195.5 1008.5h0M197.6 1007.3h0M198.7 1005.2h0M199.7 1016.5h0M187 1006.5h0M187.9 1004.2h0M194.8 999.2h0M188.9 1042h0M189.1 1039.6h0M189.1 1037.2h0M181.7 1024.1h0M187.9 1006.6h0M185.6 1007.4h0M207.4 1041.9h0M208.1 1039.6h0M210.4 1038.9h0M184 1005.9h0M185.3 1007.9h0M187.1 1009.5h0M182.8 1014.4h0M189.3 1030.8h0M208.6 1019.6h0M208.9 1021.9h0M209.8 1024.2h0M210.4 1033h0M210.4 1030.6h0M211.5 1028.5h0M185.7 1017.5h0M193.6 997.4h0M201.4 1040.8h0M199.2 1041.6h0M182.9 1043.8h0M185 1042.5h0M204.4 996h0M177.8 1028.6h0M215.7 1031.8h0M218 1032.6h0M208.8 1039.8h0M202.4 1054.1h0M200 1053.8h0M179 1013.1h0M177.2 1034.7h0M176 1036.8h0M193.4 1050h0M192.6 1052.3h0M192.1 1054.7h0M179.9 1041.5h0M181.6 1043.2h0M181.2 1045.6h0M198.1 1052.8h0M188 1048.5h0M186.1 1047h0M183.3 1041.7h0M217.3 1012.4h0M219.5 1011.5h0M192 1023.6h0M191.2 1039.6h0M187.4 1040.5h0M185.7 1038.8h0M185.9 1029.1h0M185.4 1031.4h0M180.3 1043.8h0M202.2 1041.4h0M201.4 1048.7h0M199.2 1049.6h0M190 1014.9h0M184.9 1018.3h0M184.3 1020.6h0M182.3 1022h0M189.3 1000.2h0M191.6 1001h0M192.1 1035.4h0M189.7 1035.7h0M187.3 1036h0M208.2 1048.2h0M210.2 1047h0M212.6 1046.5h0M212.6 1010.6h0M209.6 1018.4h0M201.3 1042h0M206 1007.9h0M186.9 1039.2h0M185.7 1041.3h0M177.5 1017.1h0M202.4 998.2h0M202.3 995.8h0M206.2 1015.6h0M207.6 1013.7h0M186.8 1038.7h0M186.6 1036.3h0M208.1 1011.4h0M210 1010h0M199.1 1020.8h0M196.7 1020.4h0M186.1 1044.9h0M186.3 1047.3h0M187.8 1049.2h0M192.7 1021.1h0M191.2 1019.2h0M206.6 1032.6h0M215.4 1017.7h0M183.9 1028.8h0M182 1027.3h0M181.7 1025h0M199.9 1041h0M191.1 1052.4h0M193.3 1053.3h0M195.7 1053.1h0M179.2 1052.4h0M178 1050.4h0M216.6 1047.6h0M214.3 1046.8h0M213.9 1044.4h0M208.7 1045.1h0M209.9 1043.1h0M212.3 1043.6h0M179.5 1053.1h0M177.2 1052.4h0M190.6 1048.1h0M213.5 1050.7h0M190 1019.8h0M212.6 998.7h0M214.9 999.2h0M189.3 1000.8h0M191.7 1000.4h0M194 1000h0M192.8 1030h0M190.6 1029.1h0M218.9 1037.4h0M218.3 1035.1h0M188.6 1001.6h0M188.1 1004h0M186.7 1005.9h0M200.5 1027.2h0M211.2 1039.6h0M210.6 1037.3h0M191.8 1016.2h0M190.4 1014.3h0M189.5 1012h0M181.3 1046.8h0M178.9 1047.4h0M190.3 1011.4h0M190.3 1013.8h0M185.5 1054.8h0M206.8 1009.7h0M192.2 1037h0M190.1 1036h0M205.5 1001.5h0M206.4 1003.7h0M207.8 998.7h0M206.3 996.7h0M197.9 1006.1h0M197.1 1003.9h0M197.3 1001.5h0M198.2 1028.3h0M199.2 1030.4h0M210.7 1043.4h0M210.3 1045.7h0M211.1 1048h0M180 1019.9h0M178.8 1017.8h0M177.3 1016h0M197.6 1007.1h0M185.5 1003.6h0M204.9 1003.2h0M205.9 1005.4h0M207.5 1007.2h0M196 1031.1h0M177.9 1009h0M177.8 1029.4h0M175.8 1030.7h0M182.7 1047.5h0M185.1 1048h0M216.7 1022.6h0M218 1002.3h0M178 1038.5h0M177.1 1036.2h0M200.1 1017h0M219.5 1040.2h0M204.5 1047.8h0M203 1049.7h0M180.4 1032.5h0M189 1023h0M186.6 1022.7h0M184.2 1022.9h0M198 1001.8h0M200.4 1001.6h0M208.2 1006.1h0M203.1 1038h0M201.4 1036.3h0M186.9 1040.3h0M187.8 1038.1h0M187.1 1035.8h0M205.8 1054.1h0M194.3 1001.6h0M220.8 1028.1h0M178.3 1044.3h0M179.6 1042.2h0M208.7 1025.4h0M213.6 1031.8h0M211.3 1015.4h0M212.6 1017.4h0M252.2 1037.8h0M250 1036.7h0M244.1 1045.4h0M227.7 1048.7h0M227.5 1046.3h0M226.9 1047h0M226 1049.2h0M270.8 1033h0M271.1 1030.6h0M236 1036.8h0M237.4 1038.7h0M237.8 1041.1h0M226.7 1034.9h0M238.5 1043.1h0M237.8 1040.9h0M257.9 1049.4h0M260.3 1049.9h0M262.7 1050h0M267.2 1038h0M268.2 1031.5h0M246.1 1043.9h0M245 1041.8h0M243.8 1039.7h0M264 1031.4h0M264.4 1044h0M262.7 1038.2h0M262.4 1040.6h0M264.4 1034.3h0M262 1034.3h0M275.4 1028.3h0M273.9 1030.2h0M237.4 1030.9h0M254.1 1048.3h0M253.7 1050.6h0M267.6 1035.5h0M268.8 1037.6h0M267.4 1044.6h0M268.8 1042.6h0M270.7 1041.1h0M257.9 1041.3h0M258.2 1038.9h0M228 1027.7h0M225.8 1028.6h0M281.6 1040.2h0M279.2 1039.6h0M276.9 1039.5h0M247.5 1052.1h0M245.5 1047.9h0M243.3 1047h0M235.7 1028.8h0M233.5 1029.7h0M231.1 1029.8h0M276 1041.2h0M275.2 1043.5h0M273.7 1045.3h0M256.1 1044.7h0M223.3 1032.1h0M256.4 1039.4h0M258 1041.2h0M263.3 1040.6h0M265 1042.3h0M267.2 1043.1h0M252.3 1049h0M250.1 1047.9h0M248.5 1046.2h0M225.4 1048.3h0M221.8 1034.1h0M222.8 1031.9h0M226.1 1041.9h0M226.6 1044.2h0M250.4 1048.4h0M248.5 1049.9h0M247.8 1052.2h0M260 1031.6h0M242.6 1050.3h0M230.4 1045h0M221.5 1027.9h0M226 1032.8h0M223.6 1032.6h0M239.5 1052.5h0M241.6 1051.2h0M247.5 1043.4h0M222.6 1034.7h0M222.9 1032.3h0M224.8 1030.8h0M226.2 1032.7h0M255.2 1044.9h0M253.9 1042.9h0M250.9 1038.1h0M248.8 1036.9h0M277.1 1034.2h0M279.1 1032.8h0M236.5 1049.2h0M234.2 1048.5h0M232.7 1046.6h0M277 1041.6h0M276.1 1039.4h0M274.2 1037.9h0M254.7 1031.8h0M248 1037.9h0M227.8 1033.5h0M225.6 1032.7h0M223.6 1031.4h0M246.9 1036.4h0M248.6 1038.1h0M220.8 1028.1h0M268 1041.5h0M265.6 1041.3h0M265.8 1039h0M275.6 1029.4h0M276.8 1027.3h0M274.3 1029.9h0M276.1 1028.2h0M223.6 1023.7h0M225.8 1024.9h0M266.2 1035.9h0M266 1033.5h0M264.6 1031.5h0M261.6 1039.5h0M227.7 1029.4h0M225.3 1029.4h0M222.9 1029.8h0M226.4 1042h0M258.2 1046.3h0M260 1044.6h0M241.3 1048.9h0M242.3 1051.1h0M258 1045.1h0M257.7 1042.7h0M237.3 1047.8h0M277.5 1028.5h0M235.8 1036.5h0M233.5 1035.6h0M231.3 1034.7h0M240.1 1051.8h0M234 1044.4h0M250.2 1036.1h0M252.3 1035.1h0M231.3 1038.8h0M231.5 1036.4h0M221.4 1025.7h0M225.1 1042.6h0M222.9 1043.4h0M233.9 1039.4h0M231 1043.9h0M251.6 1047.2h0M251.9 1049.6h0M265 1044.5h0M265.8 1042.3h0M229.9 1030h0M266.9 1037.8h0M268 1041.2h0M251.2 1032.3h0M251.4 1034.6h0M250.3 1036.8h0M262.7 1040.8h0M262.4 1031.3h0M264.8 1038.8h0M264.3 1041.1h0M265.4 1043.2h0M228.3 1034.3h0M227.5 1036.6h0M226.9 1038.9h0M246.5 1042.4h0M236.9 1052.5h0M257.7 1033.7h0M258.6 1035.9h0M256.4 1037h0M227.2 1041.6h0M229.5 1042.4h0M229.3 1044.8h0M233.6 1045.8h0M234.8 1043.7h0M235.6 1041.5h0M227.4 1052.8h0M248.6 1035.1h0M250 1033.2h0M270 1043.8h0M272.4 1044.2h0M251.6 1037.6h0M253.9 1038.4h0M256.1 1039.4h0M222.8 1026.7h0M225 1027.7h0M224 1029.9h0M268.2 1033.6h0M225.5 1036.5h0M223.8 1034.8h0M252 1045.8h0M230.1 1034.9h0M232.1 1033.6h0M242.5 1031.9h0M241.8 1034.2h0M239.9 1035.8h0M250.2 1044.9h0M248.2 1046.2h0M246.1 1047.4h0M270.4 1032.8h0M246.6 1033h0M244.7 1034.3h0M243.3 1036.3h0M232.8 1027.7h0M234.7 1029.1h0M235.9 1031.2h0M240.5 1030.8h0M238.8 1029h0M221.5 1030.7h0M223.8 1030.2h0M260.2 1034.4h0M264.3 1033.1h0M249.5 1050.4h0M247.3 1049.5h0M246.3 1034.1h0M248.4 1035.3h0M272.6 1030.5h0M270.3 1030.9h0M268.7 1032.7h0M250.6 1042.1h0M248.3 1041.5h0M269.7 1033h0M274.4 1020.2h0M274.3 1022.6h0M280.8 1016.2h0M283.3 1012.9h0M274.8 1035.7h0M277.7 1029.3h0M275.7 1039.8h0M285.1 993.4h0M277.4 1009.3h0M278 1021.9h0M275.7 1021.2h0M285.4 1003.7h0M283.5 1005.2h0M285.3 1010.2h0M277.3 1005.8h0M279.2 1004.2h0M282.8 997.9h0M276.5 1006h0M277.5 1003.8h0M278.1 1001.5h0M275.4 1029.1h0M277.8 1029.1h0M279.8 1030.4h0M281.5 1019.1h0M279.3 1018.3h0M277.6 1016.6h0M279.8 992.7h0M281.3 994.5h0M278.9 991.3h0M276.4 1030h0M277.3 1020.2h0M277.3 1022.6h0M269.2 1030.4h0M286.8 987.8h0M270.4 1043.5h0M268.3 1042.2h0M267.6 1039.9h0M272.6 1022.9h0M273.9 1020.9h0M287.2 999.8h0M279.9 1026.6h0M279.5 1029h0M278.7 1031.2h0M281.3 1002.3h0M279.6 1004h0M278.2 1006h0M278.2 1012.3h0M281.6 1035.5h0M279.2 1035.9h0M276.9 1035.6h0M276.9 1023.3h0M279.1 1024.2h0M281.2 1023.1h0M285.7 1010.3h0M283.6 1009h0M283.3 1010.7h0M275.8 1011.5h0M277.7 1013h0M279.7 1014.3h0M278 1020.1h0M276.3 1021.8h0M276.1 1034.7h0M273.8 1035.4h0M271.7 1036.6h0M284.8 1012.2h0M284.9 1008.5h0M283.8 989.6h0M283.6 987.2h0M280.5 993.5h0M279.5 995.7h0M278.8 998h0M269 1031h0M269.8 1028.7h0M280.4 1010.9h0M283.2 1027h0M278.7 1023.1h0M281.4 1030.3h0M279 1030.4h0M284.3 986.4h0M274 1042.8h0M271.6 1043.2h0M280.5 1018.4h0M282.3 1021.5h0M280.7 1019.7h0M283.9 994h0M283.1 996.3h0M275.1 1017.3h0M275.8 1009.8h0M284.1 998.2h0M283.1 996h0M247.8 972.9h0M217.1 992.9h0M250.7 970.9h0M256.9 965.9h0M221.5 982.9h0M233.1 987.2h0M230.1 984.9h0M213.9 998.2h0M246.4 963.3h0M255 957.3h0M249.7 958.3h0M219 998.8h0M223.7 980.6h0M250.4 963.1h0M224.7 992.1h0M216.5 989.2h0M221.9 990.1h0M227.2 993.5h0M222.4 990.6h0M215.3 998.4h0M218 997.5h0M229.3 992.3h0M250.6 961.1h0M212.9 993.8h0M261.1 960.8h0M241.7 971h0M265.7 954.5h0M238.5 981.9h0M257.1 958.2h0M236.7 983.5h0M239.9 977.5h0M250.6 960h0M268.5 954.1h0M234.4 981.7h0M231.8 971.8h0M253.7 954.4h0M220.2 998.4h0M246 971.1h0M268.4 955.5h0M260.4 963.6h0M237.2 976.1h0M219.6 995.9h0M231.3 978.2h0M245.7 975.3h0M226.5 982.7h0M248.6 971.1h0M246.5 968.5h0M250 961.2h0M243.2 973.2h0M264.4 960h0M262 960h0M253.7 956.3h0M270.1 955.7h0M245.8 963.7h0M230.7 972.8h0M220.8 998.9h0M228.1 984.1h0M257.3 948.8h0M242.9 967.2h0M250.5 962.9h0M268.4 953.1h0M214.9 1001.1h0M224.1 992.8h0M232.1 975.2h0M236.2 975.3h0M265.3 952h0M240.6 975.7h0M243.2 963.6h0M214.5 990.9h0M243.3 972.9h0M232.9 973.4h0M234.4 970h0M221.5 994.1h0M232.8 989.7h0M250.4 963.1h0M257 950.7h0M265.6 958.2h0M220.2 1000.7h0M249.5 957.8h0M233.5 980.1h0M262.3 951.3h0M260.5 957.5h0M243.8 963.9h0M265.9 957.8h0M253.5 969.7h0M215.3 999.6h0M258.6 959.9h0M215.5 1001.9h0M261.2 951.8h0M240.4 965.9h0M212.6 999.3h0M247.5 974.7h0M227.1 982.9h0M263.2 954.6h0M239.5 974.7h0M234.4 974h0M252.9 964.2h0M237.8 973.7h0M227.1 989.4h0M221.1 993.5h0M253 955.8h0M245.9 976h0M248.3 969.5h0M240 968.1h0M246.1 963.2h0M257.9 959.5h0M235.2 984.1h0M254.1 969.7h0M265.6 959.3h0M233.7 972.8h0M233.4 971.7h0M251.8 968.3h0M248.4 965.8h0M255.7 965.2h0M261.8 953.8h0M221.5 987.5h0M222.4 998h0M251.2 954.7h0M218.4 996.7h0M247.8 971.4h0M273.4 936.7h0M267.6 946.3h0M273.4 930.1h0M267 950.5h0M275.1 937.2h0M273.9 930.3h0M270.2 944.2h0M264.3 946.8h0M272.5 935.7h0M267.6 940.2h0M271.4 931.4h0M272.9 934.5h0M269.2 945.6h0M269.1 945.9h0M268.2 947.7h0M244 1014h0M242.6 1004.7h0M242.4 1002.3h0M230 1011.2h0M230.9 1013.4h0M241.7 1003.1h0M235.4 1007.4h0M232.2 1011.3h0M230 1010.4h0M228.7 1008.4h0M244.5 1008.4h0M233.5 1003.5h0M231.2 1002.8h0M234.3 1008.4h0M233.5 1006.1h0M243.6 1018.4h0M241.4 1017.4h0M232.1 1004h0M233.2 1001.9h0M234.5 1005.5h0M233.1 1003.6h0M231.1 1002.2h0M238.2 1017.8h0M236.7 1013.4h0M236.9 1011h0M242.3 1009.2h0M243.7 1011.1h0M253.6 1004.1h0M245 1017.8h0M243.7 1019.8h0M242 1021.4h0M256.2 1008h0M255 1005.9h0M254.8 1003.5h0M233.2 1001.9h0M230.8 1001.8h0M239.2 1013h0M239.8 1010.7h0M230.8 1003.4h0M230.1 1005.7h0M484.5 595.5h0M485.5 597.5h0M484.8 599h0"/>
<path id="sc11" d="M302.4 792.9h0M300.1 793.6h0M297.8 793h0M234.4 789.8h0M233.4 787.7h0M234.7 800.3h0M247.2 816.5h0M283.1 797.8h0M281 798.8h0M278.6 799.1h0M248.1 782.5h0M314.1 788.7h0M227 792h0M229.2 791h0M298 827.5h0M296 828.8h0M266.3 800.6h0M275.4 805.9h0M275.2 808.3h0M276.5 810.3h0M280.1 793.1h0M261.6 789h0M261.8 786.6h0M227.2 791.6h0M228.5 789.6h0M229.6 787.5h0M300.8 778h0M295.6 822.7h0M296.1 820.4h0M296.4 818h0M296.8 759.4h0M296.1 761.7h0M295.4 764h0M268.6 803.3h0M271 803.8h0M322.2 800.3h0M322.2 797.9h0M242 807.2h0M240.3 805.5h0M277.5 787.6h0M275.6 786.1h0M274.7 783.8h0M295 825.9h0M297.2 824.8h0M239.5 777.8h0M292.9 802.3h0M293.1 804.7h0M292.6 807.1h0M258.3 777.4h0M260.6 777.9h0M262.7 776.7h0M299 775.4h0M272.9 774.7h0M271.7 772.6h0M269.3 772h0M283.8 756.3h0M281.9 757.8h0M279.6 758.1h0M284.5 779.4h0M284.6 777h0M272.7 809.3h0M256.9 814.7h0M255.2 813h0M270.1 803.4h0M269.5 805.7h0M246.8 809.2h0M249 810.2h0M250.9 811.7h0M298 813.8h0M299.4 815.8h0M261.1 807.1h0M259 805.9h0M275.5 762.8h0M276 760.4h0M239.2 801.8h0M314.3 761.1h0M253.2 773.7h0M255.5 774.3h0M273.3 772.2h0M285 761.9h0M283.5 760h0M281.6 758.5h0M250.3 810.7h0M324.3 771.3h0M326.2 772.7h0M262.5 780.2h0M326.2 801.4h0M327.9 803.1h0M264.2 779h0M262.1 777.8h0M260.2 776.4h0M282 757.8h0M259.8 779.1h0M293.5 777.9h0M292.5 775.7h0M312.5 805.9h0M314.5 807.2h0M277.7 812.7h0M226.7 809.5h0M291.3 768.3h0M293.7 768h0M306.5 761.5h0M305 759.7h0M303.5 757.8h0M229.7 792.5h0M228.5 794.6h0M226.5 796h0M258.6 791.9h0M316.3 807.2h0M314.8 805.3h0M312.8 804.1h0M263.2 775.3h0M261.7 773.5h0M325.6 791h0M327.5 789.5h0M329.4 788.1h0M254.2 786h0M254.2 783.6h0M254.8 781.3h0M259.3 805.4h0M260.4 803.3h0M275.3 804.1h0M274.1 806.2h0M286.9 782.1h0M258.2 786.3h0M257.9 788.7h0M256.3 790.5h0M290.3 756.5h0M287.9 756.6h0M245 778.9h0M291.7 796.3h0M291.8 798.7h0M258.4 773.9h0M249.6 805.7h0M247.3 806.2h0M245.3 807.6h0M328.1 782.6h0M327.6 780.2h0M329.8 779.2h0M292.2 788.2h0M290.3 786.8h0M288.4 785.3h0M238.2 803.3h0M235.8 803.4h0M233.4 803.1h0M303.6 827.6h0M305.3 829.3h0M257.7 793.7h0M267.1 813.9h0M268.1 811.7h0M276.7 777h0M275.4 774.9h0M283.4 810.9h0M281.1 811.6h0M328.8 798.2h0M259.4 811.7h0M261.2 810.1h0M241.4 780.8h0M273.5 808.7h0M264.2 769.1h0M276.5 804.7h0M278.2 802.9h0M280.5 803.5h0M313 772.1h0M314.2 770h0M315.1 767.8h0M260.1 786.6h0M234 786.4h0M231.9 808.4h0M233.9 807.1h0M306.8 762h0M286.8 807.3h0M287.9 809.5h0M288.5 811.8h0M330.9 796.5h0M279.1 784.4h0M281.5 784.7h0M288.6 789h0M286.2 789.2h0M319.6 787.7h0M321.7 786.6h0M321.9 784.2h0M293.5 823.6h0M292.8 825.9h0M298.3 826.8h0M294.5 827.1h0M306.6 800.4h0M305.8 798.2h0M265.6 808.9h0M278.6 762.1h0M276.3 761.5h0M304.4 788.6h0M305.8 786.6h0M307.2 784.7h0M244.4 777.6h0M242.1 778.2h0M239.8 777.5h0M246.6 780.1h0M247.9 778.1h0M285.9 766.6h0M285.2 764.3h0M283.9 762.2h0M317.7 770.4h0M317.5 772.8h0M258.7 784.3h0M257.1 782.5h0M255.5 780.7h0M302.5 798.7h0M304 800.7h0M283.3 777.6h0M238.4 792.9h0M236.1 793.5h0M268.2 782.7h0M279.8 797.2h0M306 767.7h0M306.9 765.5h0M308.1 801.7h0M310.5 801.9h0M312.8 802.5h0M315.1 795.3h0M269 771.8h0M266.9 770.5h0M296.6 789h0M294.5 790.1h0M281.2 797.6h0M282.5 795.6h0M274.2 782h0M240.7 776.9h0M293.4 776.3h0M293.6 774h0M294.7 771.8h0M317.7 808.8h0M317.4 806.4h0M308.6 814h0M307 815.7h0M306.1 818h0M311.8 766.2h0M292.2 816.5h0M319 808.7h0M309.1 788.4h0M309.1 790.8h0M261.3 801.2h0M309.1 786.8h0M311 785.2h0M311.8 783h0M305.1 790.8h0M304 792.9h0M304 795.3h0M277.5 777.3h0M278.3 779.6h0M279.2 781.8h0M297.4 804.1h0M297.3 806.5h0M295.9 808.5h0M328 771.9h0M306.7 796.5h0M325.4 801.7h0M294.5 787.7h0M292.4 788.9h0M290 789h0M315.7 778.1h0M272.8 772.9h0M274.6 771.3h0M276 769.3h0M252.5 815.1h0M251.6 812.8h0M249.2 813.1h0M245.9 808.4h0M246.3 806h0M270.1 806h0M238.7 781.2h0M236.6 782.3h0M237.9 809.7h0M252.8 789h0M254.7 790.5h0M255.9 792.6h0M297.3 787.3h0M296.5 785.1h0M329.9 787.2h0M305.6 776.5h0M326.8 805h0M324.4 805h0M231.5 790.9h0M233.8 791.4h0M296.9 777.1h0M298.5 778.9h0M300.4 780.3h0M268.6 802.2h0M266.2 802.5h0M264.1 803.6h0M284 787.1h0M294.9 785.5h0M295.4 783.1h0M297.1 781.4h0M280.6 759.5h0M265.3 768.7h0M267.7 769.1h0M237.9 794.4h0M235.6 795.3h0M287.3 796.1h0M288 793.9h0M315.9 783.1h0M316.5 780.8h0M328.9 775.4h0M302 796.7h0M238.5 808.2h0M238.9 810.6h0M238.5 812.9h0M294.9 820.6h0M294.5 818.2h0M244.4 811h0M242.5 809.6h0M240.6 808.1h0M289.6 804.4h0M287.2 804.7h0M284.5 767.6h0M284.8 765.2h0M287.1 764.6h0M306.8 799.3h0M307.1 801.7h0M308.7 803.5h0M268.4 775.9h0M269.3 773.7h0M254.8 784.4h0M257.1 784.6h0M259.5 784.4h0M310.8 768h0M310.7 775.1h0M309.4 777.1h0M229.1 797.2h0M230.9 798.9h0M317.9 800.1h0M320.3 799.8h0M306.3 791.9h0M305.8 794.2h0M260.3 807h0M260.7 804.6h0M262 802.6h0M256 780.5h0M255.1 782.7h0M234.6 787.1h0M313.4 797.5h0M312.1 795.5h0M230.6 800h0M228.3 800.6h0M278.9 769h0M277.1 767.4h0M274.9 766.5h0M295.9 786.4h0M298.3 786.2h0M300.7 786.2h0M310.4 763h0M252.2 800.4h0M251.1 798.3h0M250.9 795.9h0M305.8 760.3h0M264.2 789h0M260.9 799.6h0M259.4 801.6h0M314.8 771.4h0M317 770.4h0M319 771.7h0M263.6 772.9h0M265.9 773.3h0M264.6 781.4h0M263.4 779.3h0M261 779.5h0M314.9 787.6h0M299.5 812.7h0M299.5 810.3h0M265.3 783h0M264.1 785.1h0M263.9 787.5h0M246.1 799.3h0M320.4 774h0M266.4 800.8h0M268 802.6h0M327.8 777.7h0M328.7 775.5h0M282.6 815.4h0M280.8 813.8h0M306.1 764.2h0M308.2 765.4h0M310.5 765.9h0M243.2 802.1h0M245.6 801.9h0M284.2 798.4h0M283.7 800.7h0M255 807.1h0M307.4 800.2h0M243.4 801.9h0M243.5 804.3h0M242.8 806.6h0M253.9 794.9h0M253.1 797.2h0M255.1 798.6h0M265.6 806.1h0M263.8 804.5h0M242.5 810.1h0M244.4 811.5h0M290.2 789.8h0M288 790.8h0M285.7 791.7h0M315.9 806.5h0M315.9 808.9h0M308.3 793.8h0M317.3 808.7h0M312.9 802h0M313.8 804.2h0M299.6 781.7h0M301.2 783.5h0M270.6 798.4h0M269.6 796.2h0M269.1 793.8h0M290.6 753.5h0M291.7 755.6h0M278.3 760.1h0M323.1 773.7h0M252.8 803.5h0M255.2 803.6h0M257.6 803.2h0M256.6 797.5h0M256.9 795.1h0M256.7 792.7h0M281.9 768.7h0M282.4 766.4h0M280.4 765h0M269.6 795.3h0M328 785.8h0M326.2 784.2h0M323.8 784.5h0M260.6 784.4h0M262.4 782.8h0M262.9 780.4h0M266 785.9h0M293.2 798.2h0M292.8 795.8h0M292.6 793.4h0M305.7 758.3h0M307.3 760.1h0M322.7 797.2h0M325 796.9h0M226.1 804.3h0M296.4 825.8h0M296.9 828.1h0M297.5 830.5h0M257.6 792.4h0M253.8 781.5h0M253.5 779.1h0M293.5 796.1h0M292.8 793.8h0M278.6 809.2h0M312.1 788h0M310.7 786.1h0M294.6 768.2h0M295.5 766h0M319.2 796.5h0M308.9 765.9h0M310.4 767.7h0M310.4 770.1h0M327.3 774.6h0M325.3 775.9h0M324.6 778.2h0M295.7 794.3h0M249.8 815h0M293.7 827.2h0M279 799.2h0M279.3 796.8h0M279.5 794.4h0M304 804.6h0M301.7 805h0M306.5 827.3h0M304.7 825.7h0M303.3 823.7h0M280.7 768.5h0M315.4 779.3h0M315.8 777h0M316.1 774.6h0M299.3 756.1h0M254.1 791.1h0M284.3 811h0M246.6 787.7h0M294 783.9h0M277 800.7h0M276.5 798.4h0M274.4 797.2h0M257.8 785.4h0M258.4 781.4h0M260.7 781.9h0M263.1 782.1h0M318.2 784.6h0M291.9 784.2h0M293.4 782.3h0M254 808.7h0M254.4 806.3h0M254.8 804h0M228.6 790.6h0M226.6 789.3h0M255.1 777.9h0M254.3 775.6h0M253.1 773.5h0M297.4 819.7h0M299.7 819.1h0M310.3 759.4h0M314.3 764h0M315.3 761.8h0M257.5 787.9h0M282.8 756.6h0M281.8 758.8h0M306.9 780.5h0M309 779.2h0M256.9 780.1h0M259.3 780.3h0M261.7 780.4h0M260.8 816.9h0M259.1 815.2h0M256.8 814.7h0M255 793.7h0M254.3 791.4h0M297.1 779.6h0M299.5 779.3h0M224.8 802.1h0M284 819.5h0M285.8 821.1h0M282.1 809.1h0M243.2 805.8h0M242.8 808.1h0M322.4 803.2h0M320 803.1h0M241.1 775.3h0M287.7 799.1h0M285.7 800.4h0M291.4 797.2h0M292.7 795.2h0M246.3 791.5h0M245.3 789.4h0M291.7 814.4h0M291.9 816.8h0M332.3 786.6h0M238.9 797.3h0M319.8 765.8h0M317.5 765.2h0M298.9 796.6h0M300.7 798.2h0M331.5 780.6h0M330.4 778.5h0M306.9 787h0M306.4 784.6h0M249 774.7h0M298.8 806.4h0M246.5 793h0M247.2 795.3h0M245.9 797.3h0M243.4 793.5h0M320.1 801.3h0M317.8 801.9h0M305 782.3h0M306.1 780.2h0M286.2 755.4h0M244 776.2h0M246 777.5h0M247.2 779.5h0M244.9 796.2h0M244.3 793.9h0M324.5 782.4h0M323 784.2h0M320.8 785.3h0M264 805.6h0M250.7 797.4h0M250.3 799.8h0M248.6 801.5h0M287.6 773.7h0M272.3 783.9h0M274.5 783h0M276.1 781.2h0M320.6 775.4h0M318.9 773.7h0M283.1 799.3h0M262.7 800.9h0M238.2 796.4h0M236.1 797.6h0M302 824h0M304.8 769.1h0M305.3 771.5h0M304.3 773.7h0M296.4 807.5h0M297.2 805.3h0M305.8 762.2h0M272.5 779.2h0M274.4 780.6h0M275.2 782.9h0M321.7 778.5h0M281.7 785.9h0M279.4 786.7h0M277 787h0M297.3 828h0M299.5 826.9h0M307.3 765.7h0M308.4 767.8h0M325.9 779h0M326.3 776.7h0M327.1 774.4h0M301.6 826h0M250 783.3h0M315.7 775h0M316.6 772.7h0M296.6 815.7h0M294.4 814.6h0M268.9 776.7h0M271.3 776.6h0M273.3 775.3h0M308.2 824.4h0M249.9 804.3h0M246.5 810.9h0M248.9 811h0M284.7 800.8h0M285.1 821h0M257.9 775.9h0M255.9 774.7h0M253.6 774h0M300.4 796.5h0M302.8 796.2h0M304.9 795.1h0M232.9 811.4h0M250.2 798.5h0M249.4 800.8h0M248.4 803h0M269.7 774.8h0M303.7 790.9h0M296.8 788.1h0M297.5 785.8h0M269.1 787.9h0M269.9 790.2h0M309.6 783.7h0M251.8 799.5h0M249.5 799.1h0M247.8 797.4h0M308.9 780.8h0M307.6 778.8h0M306.2 776.9h0M290.5 793.5h0M290.3 791.1h0M288.8 789.2h0M299.4 803.7h0M297.2 802.7h0M296.9 800.3h0M263.1 774.3h0M323.1 783h0M320.9 782.1h0M320.1 779.8h0M321.5 805.2h0M235.4 804.3h0M234.7 802h0M233.5 799.9h0M274.5 805.2h0M272.6 806.7h0M270 779h0M270.2 776.6h0M332.9 787h0M329.3 784.2h0M229.6 804.8h0M231.4 806.3h0M233.6 807.3h0M276.6 769.2h0M275.7 771.4h0M275 773.7h0M322 805.6h0M321.9 803.2h0M321.5 800.8h0M262.6 808.2h0M265 808.7h0M329.3 778.7h0M327 778.1h0M304.7 766.9h0M287.4 810.2h0M289.1 808.4h0M291.1 807.1h0M295 827.2h0M295.7 824.9h0M296.4 822.6h0M269.9 791.1h0M269.7 788.7h0M271.1 786.8h0M284.5 756.3h0M283.6 758.6h0M282.9 760.9h0M283.3 781.6h0M281.5 780.1h0M280.7 777.8h0M288.3 799.4h0M288.5 801.8h0M287.7 804.1h0M286.6 767.8h0M306.1 812.5h0M305.8 810.2h0M247.5 779.1h0M245.5 780.3h0M243.1 779.9h0M318.8 785.9h0M317.3 784.1h0M254.3 803.2h0M255.3 801.1h0M249.6 801.8h0M248.2 799.8h0M305.6 760.9h0M304.5 758.7h0M298.1 756.9h0M298.5 759.2h0M332.6 785.3h0M322.5 770.7h0M324.6 771.7h0M326.2 773.6h0M232.6 783.5h0M317.2 764.5h0M324 796.6h0M322.5 798.5h0M310 773.3h0M310.5 775.6h0M311.8 777.6h0M319.2 796.9h0M317.1 795.7h0M314.8 796.5h0M297.7 788.9h0M296.5 791h0M294.2 790.7h0M307 791.5h0M305.9 789.4h0M281.3 792.1h0M303.3 799.2h0M289.3 782.2h0M291.1 780.6h0M291.8 778.3h0M248.6 815.1h0M250.2 813.4h0M252.6 813.4h0M245.5 794.2h0M243.2 794.9h0M276.1 804.7h0M290.7 758.2h0M326.6 801.6h0M324.6 800.4h0M322.2 799.8h0M294.8 780.1h0M309 764.7h0M306.6 764.5h0M307.6 798.3h0M289.3 791.7h0M314.8 803.3h0M315.5 801h0M316.1 798.7h0M271.7 765.4h0M273.7 766.7h0M274.8 768.9h0M267.4 817.1h0M301.2 770.5h0M300.2 772.6h0M300 820.4h0M298.6 818.4h0M272 814h0M248.2 786.4h0M249.3 788.5h0M251.7 788.5h0M302.3 788.7h0M301.1 790.8h0M238.6 808.1h0M308 798.4h0M307.1 771.5h0M277.5 785h0M254 812.1h0M256.3 812.9h0M259.5 809.6h0M257.4 808.4h0M255.8 806.5h0M264.2 787.8h0M313 804.1h0M313.4 801.7h0M284.3 785.8h0M306 806h0M304.2 807.6h0M303.1 809.7h0M298.9 772.1h0M278.1 761.7h0M241.5 791.3h0M309.4 789.4h0M238.2 798h0M235.8 798.2h0M312.6 790.2h0M314 792.1h0M316 793.5h0M252.2 800.7h0M249.8 800.6h0M288.2 816.1h0M290.5 817h0M292.3 815.5h0M264.7 794.7h0M263.8 796.9h0M262.6 799h0M248.6 798.2h0M248 792.7h0M290.6 764.5h0M288.6 765.9h0M275.9 792.2h0M278.1 791.2h0M280.3 790.2h0M288.5 818.9h0M286.2 819.7h0M286.9 794.1h0M284.9 792.7h0M322.5 803.2h0M324.9 803h0M327.3 803.3h0M295.4 758h0M295.8 760.4h0M296.5 762.7h0M254.6 785.5h0M253.7 783.3h0M254.3 781h0M322.1 798.1h0M275.8 796.5h0M244.2 783.9h0M260.2 780.4h0M257.8 780.2h0M256.2 778.5h0M240.2 790.7h0M238.1 789.5h0M297.1 802.5h0M255.2 779h0M255.3 781.4h0M256.1 783.7h0M275 801.2h0M276.8 799.7h0M252.8 785.9h0M238.8 814h0M236.5 814.7h0M231.1 788.5h0M304.7 795.8h0M303.9 793.5h0M302.8 791.4h0M306.3 788.3h0M308.7 788.1h0M310.4 786.4h0M325.3 799.5h0M307.5 802.8h0M309.6 801.6h0M310.3 799.3h0M291.3 802.2h0M293.6 801.4h0M294.9 799.4h0M272.5 808.4h0M289.9 819.3h0M291.1 817.2h0M292.4 815.2h0M230.3 812.4h0M296.2 798.5h0M298.6 798h0M300.2 796.2h0M273.6 802.5h0M275.8 803.5h0M276.9 805.6h0M245.7 796.1h0M246.1 798.5h0M246.1 800.9h0M279 815.2h0M255 814h0M253 812.6h0M251.1 811.1h0M272.7 814.3h0M231.3 799.6h0M232.3 807.2h0M331.3 790h0M330 788h0M329.4 785.6h0M323.4 783.2h0M325.2 784.8h0M292 759.5h0M291.3 757.2h0M289.9 755.3h0M324.2 802.5h0M323.4 804.7h0M323.3 807.1h0M238.1 805.1h0M290.4 766.2h0M242.5 810.7h0M240.1 811.4h0M237.8 811.2h0M255.7 800h0M258 799.4h0M260.4 799.1h0M316.3 783.2h0M318.6 782.8h0M279.8 786.7h0M280.8 788.9h0M279 790.4h0M290.1 758.8h0M291.7 757h0M314.3 800.4h0M251.2 794.7h0M252.2 796.9h0M253.2 799.1h0M296.8 774.3h0M299.1 774.9h0M301.5 775.3h0M279 774.8h0M311.4 814.5h0M311.6 812.1h0M286.5 801.5h0M239.3 777.5h0M307.4 764.9h0M306 763h0M305 760.8h0M314.9 766.8h0M287.2 810.6h0M286 808.5h0M285.4 806.1h0M316.7 771.4h0M314.6 770.3h0M312.2 769.9h0M301.3 820.2h0M298.9 820.1h0M296.7 821.2h0M285.7 807h0M284.5 804.9h0M284 802.5h0M287.9 783.3h0M286.5 785.3h0M285.1 787.3h0M252.9 774.3h0M321.6 797h0M304.9 772.2h0M305.6 774.5h0M267.4 804.8h0M267.1 802.4h0M303 822.8h0M235.2 781h0M233.7 782.9h0M232.3 784.9h0M270.8 772.7h0M272.1 770.7h0M319.8 780h0M322.1 779.3h0M324.4 778.4h0M324.4 770.5h0M326.8 770.1h0M254.4 811.8h0M303.8 783.2h0M303.3 780.8h0M301.4 779.3h0M251.6 816.9h0M252.2 814.6h0M306.8 804h0M304.4 804.1h0M259.1 798.6h0M256.9 799.5h0M255.4 801.3h0M233.8 789h0M295.1 779.2h0M229.5 796.3h0M245 811.7h0M263 787.6h0M265.4 787.3h0M267.7 786.6h0M248.7 804.6h0M250.8 803.4h0M308 790h0M304.8 790.6h0M306.5 788.9h0M302.5 817.2h0M304.4 818.6h0M267.8 766.1h0M310.1 821h0M309.1 818.8h0M320.5 790.4h0M321.2 792.8h0M322.6 794.7h0M282.2 773h0M284.5 773.4h0M285.4 771.2h0M285.9 778.8h0M250.2 791.6h0M248.9 789.6h0M290.7 744.8h0M291.3 747.1h0M294.9 754.7h0M291.9 740.4h0M292.8 742.7h0M293.1 745h0M295.4 752.6h0M291 741.9h0M291.9 739.6h0M292 746.3h0M294.3 746.9h0M296.4 745.9h0M294.8 738h0M293 745.1h0M293.4 742.8h0M296 746.3h0M295.6 749.2h0M296.6 742.1h0M295.6 744.3h0M294.7 746.6h0M290.7 750.5h0M293.1 750.6h0M296.5 753h0M294.5 751.6h0M292.7 748.7h0M294.7 747.5h0M297.1 747.1h0M292.1 749.3h0M290.3 744.1h0M292.6 751.6h0M282.7 889.2h0M287.9 862.2h0M285.7 854.1h0M283 892.8h0M285.5 892.2h0M288.5 880h0M285.1 887.5h0M297.5 834.4h0M282.8 881.9h0M284.4 855.3h0M289.8 860.4h0M293.1 847.3h0M285.8 879.8h0M286.6 865.6h0M281 872.1h0M284.3 856.4h0M297.4 844.8h0M291.4 864.2h0M286.8 861h0M297.6 843.2h0M287.9 850.5h0M288 885.3h0M283.9 856.4h0M285.1 871.6h0M290.4 864.2h0M292.1 850.5h0M297.4 836.8h0M298.5 832.7h0M285.1 881.5h0M280.9 875.2h0M293.7 855h0M291.2 847.5h0M286.6 883.4h0M287.1 891.9h0M282.5 885h0M279.5 892.3h0M279 885.2h0M286.8 881.1h0M288 859h0M291.9 838.5h0M295.1 850.6h0M296.2 848.4h0M291 839.5h0M295.6 850.5h0M293.9 839.2h0M293.7 836.5h0M291.3 857.6h0M296.2 836.3h0M288.1 870.1h0M298.9 843.9h0M295 842.6h0M303.2 834.9h0M285.5 876.5h0M284.7 891.5h0M289.1 870.3h0M288.8 867.3h0M287.8 845.6h0M297.7 831.5h0M289.2 849.3h0M289.5 868.3h0M258 840.9h0M262.7 896.8h0M265.2 870.5h0M259.2 843.1h0M260.3 832.4h0M265.1 827.1h0M265.4 823.9h0M256.9 896.8h0M257.1 892.6h0M258.9 826.1h0M265.1 847.5h0M266.8 882.6h0M260 849.3h0M262 871.2h0M260.9 884.8h0M261.8 822.3h0M261.1 849.6h0M265.3 870h0M264.7 887.9h0M260.9 836.1h0M262.9 895.1h0M262.4 872.9h0M258.7 848.3h0M264.1 869.8h0M262 833.2h0M258.7 858.1h0M261.9 865.2h0M259.4 882h0M264.6 837.1h0M265 883.5h0M266.1 836.2h0M263.1 860.8h0M258 837.2h0M263.8 832h0"/>
<path id="sc12" d="M259.5 901.5h0M270.8 934.7h0M257.6 899.3h0M251.4 898.9h0M270.9 921.2h0M271.8 912.3h0M259.7 909.9h0M262.8 910.3h0M271.3 926.2h0M272.2 916.5h0M277.9 931.5h0M273.7 935.4h0M265.6 904.4h0M270.9 913.7h0M263.3 901.2h0M252.7 903.4h0M271.4 939h0M267.2 904.6h0M276.7 932.4h0M275.4 934.6h0M273.4 914.7h0M275 925.5h0M251.6 896.7h0M275.9 941.4h0M269.8 917h0M278 924.7h0M276 939.8h0M275.6 932.6h0M277.7 923.3h0M268.6 910.1h0M261.8 899.5h0M263.1 910.4h0M251.2 898.5h0M278.4 924.6h0M274.2 932.2h0M270.3 925.5h0M276.4 920h0M273.1 918.5h0M263 910.7h0M249.9 899.1h0M252.3 896.1h0M253.9 898.1h0M259.7 906h0M265.9 913.7h0M261.7 900.2h0M259.7 904.8h0M267.2 919.4h0M254.5 904.1h0M272.2 932h0M252.2 899.8h0M250.8 902.2h0M258 901h0M268 906.3h0M268.7 915.2h0M259.5 898.1h0M253.9 897h0M278 936.5h0M269.4 915.3h0M263.8 914h0M266.6 908.3h0M277.2 941.6h0M273.7 928.2h0M273.1 921.3h0M269.6 910.6h0M274.2 919.8h0M271.2 923.2h0M272.7 921h0M254.6 898.8h0M269.5 911.5h0M266.9 909.5h0M271.1 920.5h0M273.1 926.7h0M250.6 901.3h0M277.8 927.6h0M271.2 935.5h0M261.7 899.7h0M252 901.8h0M251.6 901h0M268.1 912.4h0M261.9 908.4h0M272.4 940h0M268.2 913.1h0M270.9 917.5h0M262.5 909.6h0M270.9 913.8h0M268 916.8h0M274.5 924.1h0M276.9 942.3h0M270.8 914h0M269.6 937.8h0M265.1 917h0M276.4 933.1h0M270.4 922.5h0M260 905.9h0M255.4 903.3h0M276.1 925.8h0M271.9 920.8h0M271.5 917.7h0M256 906.5h0M275.3 932.5h0M255.8 903.4h0M251.3 902.9h0M251.6 905.2h0M252.7 899.6h0M256.7 901.7h0M258.1 907.9h0M260.4 908h0M257.7 908.5h0M258.2 906.2h0M256.6 902.6h0M256 900.3h0M255.2 898h0M252.3 901.1h0M252.3 905.3h0M255.6 900.7h0M257.3 902.4h0M257.8 904.7h0M263 901.1h0M259.8 903h0M262.1 903.6h0M259.8 902.8h0M257.5 902.1h0M254.6 903h0M254.2 905.4h0M263.4 901.5h0M258 897.8h0M259.3 898.4h0M253 902.9h0M259.1 900h0M257.3 901.6h0M259.6 904.7h0M260.8 904.4h0M262.1 906.4h0M255.3 903.6h0M256.6 905.6h0M283.5 849.3h0M282.2 850.8h0M282.7 858.2h0M281.9 861h0M281.3 858.7h0M285.9 855h0M281.5 854.9h0M283.9 854.8h0M280.4 852.4h0M279.4 850.2h0M279.9 855.6h0M282 856.9h0M283.2 859h0M281.5 858.6h0M283.6 857.4h0M281.7 849.9h0M279.3 849.8h0M285.7 848.3h0M284.2 845.2h0M282.6 846.9h0M283.8 854.3h0M282.6 852.2h0M282.2 849.8h0M285.4 849.2h0M286.5 852h0M284.3 860.8h0M282.5 859.3h0M280.6 857.8h0M285.1 847h0M282.9 847.9h0M281 849.4h0M281 857.1h0M278.7 857.4h0M280.5 855.2h0M282.9 855.2h0"/>
<path id="sc13" d="M618.9 1038.7h0M621.3 1038.5h0M613.7 1006.1h0M620.6 988.6h0M618.7 987.1h0M616.3 986.7h0M626.9 1003.8h0M628.3 1001.9h0M630.1 1000.2h0M640 1035.9h0M637.7 1036.6h0M636.2 1038.5h0M630.8 1037.9h0M612.5 1022.9h0M613.7 1024.9h0M616.1 1024.4h0M623.7 1003.6h0M638.4 1015.2h0M639.1 1017.5h0M611.1 1020h0M608.9 1020.8h0M607 1022.3h0M627.9 1024.7h0M635.3 1054.6h0M639.9 1030.5h0M611.4 1047.3h0M611.5 1049.7h0M612.6 1051.8h0M613.4 1058.1h0M611 1058.3h0M612.7 1065.6h0M623.3 999.7h0M631.2 1014.8h0M631.1 1017.2h0M629.2 1028.6h0M631.1 1027.1h0M620 1046h0M621.7 1047.7h0M623.8 1048.8h0M609.8 989h0M607.4 988.6h0M627 1073.4h0M636.7 1001.6h0M630.7 1062.9h0M633.1 1062.6h0M640.8 1031.7h0M643 1030.6h0M625.6 1051.8h0M614.9 1013h0M614.5 1010.6h0M624.4 1061.3h0M622.4 1062.6h0M627.7 1034.2h0M626.9 1032h0M608.3 1042.9h0M609.2 1035.6h0M621.5 1007.3h0M622.6 1009.5h0M622.7 1011.9h0M628.8 1022h0M630.1 1020h0M623.6 1037.1h0M620 1050.7h0M622.2 1049.8h0M640.7 1033.8h0M632.6 1052.8h0M633.1 1050.4h0M628.1 1017.8h0M641.7 1035.8h0M641.5 1038.2h0M623.2 1076.8h0M625.5 1076h0M633.4 1015.6h0M631 1015.9h0M630.4 1056.8h0M638.6 1023.4h0M619.1 986.3h0M621.4 986.6h0M623.8 987.2h0M629.2 1060.5h0M620.6 1051.3h0M622.3 1049.5h0M623.1 1047.3h0M615.9 992.8h0M618.1 993.6h0M619.4 1068.5h0M618.1 1062.3h0M618.1 1064.7h0M616.4 990.4h0M618.3 989h0M619.6 987h0M618.3 1048.2h0M615.6 1035.8h0M617.9 1035h0M609.5 1048.8h0M611.3 1047.3h0M613.6 1046.6h0M615.1 1025.2h0M622.3 986.3h0M637.7 1004.3h0M609.5 990.8h0M611.7 991.8h0M607.2 1040.1h0M627.1 1070.8h0M626.7 1068.4h0M625.8 1066.2h0M609.4 1057.2h0M629.3 1065h0M630.1 1062.7h0M614.5 1067.6h0M641.3 1033.3h0M614.8 1056.6h0M624.2 991.7h0M625.7 993.5h0M627.9 994.4h0M617.6 1043.7h0M617.3 1046.1h0M617.2 1048.5h0M608.9 1041.3h0M609 1043.7h0M600.8 1011.2h0M636.2 1046.8h0M605.2 1002h0M604.3 999.8h0M612.1 1005.1h0M613.8 1006.8h0M618.7 1057.9h0M618.9 1060.3h0M620 1062.5h0M607.2 1039.1h0M605.3 1037.6h0M640.5 1015.3h0M642.1 1017h0M621.9 1020.7h0M628.2 1010.4h0M626 1009.4h0M624.6 1007.4h0M624.2 1049.8h0M604.5 1053.9h0M635.8 1033.5h0M638.2 1033.8h0M602.2 1039h0M604.6 1038.9h0M606.9 1039.5h0M611.4 1038.2h0M611 1035.8h0M611.7 1033.5h0M610.4 1025.8h0M632.7 1052.9h0M633.4 1050.6h0M635.5 1049.5h0M605.1 1045.6h0M607.3 1046.6h0M617.5 1053h0M605 1012.8h0M602.7 1012.5h0M629.9 1053.6h0M617.3 1057.2h0M605.1 993.2h0M626 1062h0M624.4 1060.3h0M615 1036.2h0M617.1 1035h0M606.3 1059.7h0M609.6 1063.5h0M610.9 1061.5h0M612.9 1062.9h0M636.4 1011.2h0M626.2 995.1h0M621.2 1049.7h0M619.5 1051.4h0M617.3 1050.6h0M601.2 1040.5h0M602.2 1042.7h0M604.1 1044.2h0M627.9 995.5h0M626.5 997.4h0M624.2 998.1h0M616.9 1060.4h0M619.1 1059.4h0M621.5 1059.7h0M632.8 1060.7h0M610.5 996.1h0M612.3 997.6h0M623.9 1007.2h0M615.9 1029.3h0M613.6 1028.6h0M629.5 1020.7h0M639.1 1017.8h0M639.9 1020h0M641.5 1021.8h0M618.6 1073.4h0M614.5 988.5h0M616.3 990.1h0M627.2 1056.8h0M625.2 1055.5h0M618.6 1001.5h0M618 999.2h0M617.8 996.8h0M610.9 1014.7h0M619.7 1015.2h0M617.8 1013.8h0M621.3 1031.7h0M620.8 1034.1h0M620 1036.3h0M614.9 1038.4h0M628.3 1059.3h0M633.8 1038.9h0M634 1041.3h0M608.6 1043.5h0M610.8 1042.6h0M612.5 1044.3h0M623.1 1034.8h0M621.7 1036.8h0M623.5 1076.5h0M637.3 1006.5h0M617.6 1071.6h0M626.3 1012.6h0M623.9 1013.1h0M622.4 1015h0M631.9 994.9h0M633.4 996.7h0M601.9 1028h0M618.7 1022.8h0M633.7 1021.3h0M635.8 1020.1h0M638 1021.1h0M621.7 988.8h0M614.3 1018.8h0M612.6 1017.1h0M604.2 1000.9h0M605.5 1002.9h0M607.9 1003h0M621 1017.3h0M630.4 1013h0M632.7 1012.4h0M637.9 1005.5h0M636.3 1003.6h0M633.9 1003.9h0M611.2 1018.1h0M636.9 1048.8h0M635.5 1050.7h0M634.3 1052.8h0M608.3 987.6h0M605.9 987.8h0M625.1 1038.5h0M619.5 991.9h0M621.6 990.7h0M623.7 989.6h0M635.6 1007.6h0M635.5 1010h0M601.6 1010.7h0M616.8 1065.6h0M619 1066.5h0M615 990.8h0M621.8 1050.6h0M619.1 1025.4h0M620 1023.1h0M604.8 1031.8h0M627.5 1058.1h0M627.9 1060.4h0M628.5 1062.7h0M621.2 1071.2h0M619.4 1069.6h0M617.1 1069h0M629.7 1041.4h0M630.2 1039.1h0M631.3 997.4h0M623.9 1059.9h0M608.4 1051.2h0M610.5 1052.4h0M609.2 1038.1h0M617.2 1069.9h0M619.5 1069.2h0M621.8 1068.5h0M618.3 1059.4h0M616.7 1057.7h0M614.6 1056.5h0M623.7 1019.1h0M623.3 1016.7h0M621.5 1015.1h0M607.6 1054.8h0M627.8 1051.3h0M629.6 1065.3h0M615 1055.3h0M615 1052.9h0M613.6 1051h0M604.9 1003.9h0M603.9 1006.1h0M607 1026.2h0M606.2 1024h0M604.4 1022.4h0M620 1028.8h0M614.7 1049.6h0M627.3 1026.3h0M625.4 1027.8h0M623.3 1029h0M620 988h0M620.4 985.6h0M630.6 1001.9h0M632.2 1003.7h0M608.9 1029.9h0M601 1009.5h0M615.2 998.3h0M628.4 1006.4h0M627.2 1008.4h0M625.7 1010.4h0M618.7 1012.2h0M611.5 990h0M612.8 992h0M601.1 1014.4h0M600.9 1012h0M601.4 1009.7h0M614.5 1043.9h0M621.3 1022.7h0M621.3 1025.1h0M629.2 1015h0M628.5 1017.3h0M628.4 1019.7h0M633.7 1045.6h0M632.3 1043.6h0M631.5 1041.4h0M638.1 1007.6h0M640.5 1007.3h0M616.4 1036.3h0M616.9 1033.9h0M614.8 1032.8h0M620.4 997.9h0M622.1 999.6h0M622.5 1002h0M630.3 1055.4h0M630.8 1057.8h0M631.3 1065.3h0M630 1063.3h0M625 994h0M624.9 1074h0M625.4 1071.7h0M636.1 1038.2h0M634 1039.4h0M637.9 1017.3h0M637.6 1014.9h0M636.5 1012.7h0M616.1 988.4h0M614.4 990.1h0M634.8 998.1h0M640.3 1017.5h0M640.3 1015.1h0M621.8 1041.1h0M623.9 1042.2h0M614.1 1066.1h0M612.3 1067.7h0M629.8 991.7h0M632.2 992h0M634.4 990.9h0M619.3 1061.7h0M621.3 1063.1h0M621 1065.5h0M623.9 1045.8h0M622.2 1047.5h0M630.8 1031.9h0M624.3 1014.6h0M626.6 1015.3h0M628.3 1016.9h0M610.6 990.4h0M612.1 992.2h0M622.7 1032.7h0M622.6 1019.6h0M624.9 1020h0M612.2 998.5h0M624.4 1054.7h0M624.5 1052.3h0M625.7 1050.2h0M616.5 1058.3h0M618.4 1056.8h0M620.6 1057.9h0M604.7 1038.9h0M602.9 1037.4h0M606.4 1034.9h0M606.9 1037.2h0M615.2 1037.4h0M625 1054.7h0M604.1 1032.8h0M606.3 1032h0M607.8 1030h0M628.9 1046.6h0M636.4 995.1h0M632.3 1064.2h0M621.3 1009.4h0M620.9 1007.1h0M624.4 1055.7h0M636.5 1040.9h0M636.8 1043.3h0M635.9 1035.6h0M636.8 1037.8h0M639.2 1037.6h0M609.8 1020.7h0M608.6 1018.6h0M638.4 1050.1h0M638.5 1052.5h0M609.5 1047.5h0M611.4 1049h0M613.8 1049.5h0M630.1 1011.4h0M633.2 1007.6h0M633.6 1010h0M633.2 1012.3h0M620.5 1073.8h0M634.8 1029.6h0M637.2 1029.4h0M621.8 985.8h0M621 988h0M628 1068.6h0M606.2 1030.3h0M625.5 1051.7h0M627.8 1051.2h0M603.6 1020.4h0M604.3 1022.7h0M634.2 1011.3h0M617.2 1022.6h0M640.1 1039.8h0M641 1042h0M607.1 1005.6h0M604.7 1005.8h0M620.2 1071.1h0M620.6 1068.8h0M626.8 1044.3h0M628.2 1046.2h0M629.5 1048.2h0M619.2 1070.8h0M636.2 1046.4h0M638.5 1047.2h0M607.6 1031.2h0M607.7 1028.8h0M607.2 1026.5h0M612.9 998.6h0M612.8 1001h0M632.9 1006.9h0M604.3 1014.9h0M603.5 1017.2h0M602.8 1019.5h0M612.4 1043.3h0M614 1054.8h0M616.2 1053.8h0M623.9 1064.1h0M626.1 1065h0M628.8 1029.2h0M631.2 1029.7h0M612 1062.1h0M613.7 1063.9h0M615.8 1065h0M619.6 1046.2h0M621.4 1047.7h0M622.3 1050h0M618.9 1061.8h0M616.8 1060.7h0M614.5 1059.8h0M642.6 1017h0M642.4 1019.3h0M641.9 1021.7h0M626.4 1002.2h0M605 1018.8h0M606.5 1017h0M606.7 1014.6h0M633.3 1031.8h0M615.2 995.8h0M624.9 1067.2h0M626.5 1011.5h0M625.4 1009.4h0M636.5 1035h0M637.1 1032.7h0M636.9 1030.3h0M622.2 1067.8h0M623 1070h0M623.2 1072.4h0M639.9 1036.3h0M639.8 1038.7h0M639.4 1032h0M637 1031.8h0M634.6 1031.5h0M607.4 985.4h0M617.5 1035.8h0M619.3 1034.2h0M620.1 1016.8h0M618.8 1014.8h0M606.9 1061.1h0M609.3 1061.3h0M611.3 1062.6h0M640.2 1005h0M605.5 1037.3h0M603.1 1037.4h0M614.4 1003.5h0M630.2 1046.5h0M618.9 1074.8h0M637.6 1036.8h0M633.8 1008.3h0M633.8 1010.7h0M612.5 1065.9h0M614.9 1066.1h0M621 1022.5h0M623.4 1022.8h0M598.6 969.5h0M600.7 977h0M597.5 968.6h0M607.6 982.5h0M606.6 980.2h0M601 975.3h0M604 973.7h0M599.8 977.3h0M605.9 976.9h0M606.8 978.1h0M609.2 980.5h0M605.1 973.1h0M596.8 970.9h0M601.4 974.4h0M606.8 982.5h0M601.6 976.4h0M599 968.3h0M603.8 975.5h0M605.5 977.2h0M608.2 978.8h0M611.7 980.9h0M610.2 978h0M598.9 975.1h0M609.2 984.3h0M605.4 980.2h0M601.7 972.4h0M614 981.5h0M606.1 983.5h0M594.8 971.6h0M608.3 986.6h0M612.4 983.4h0M599.4 973.6h0M595.3 972.2h0M601.7 977.2h0M602.7 976h0M611.6 982.6h0M606.4 982.1h0M606.4 976h0M604.2 977.1h0M612.5 979.9h0M640 996.5h0M637.6 974.7h0M640.1 988h0M639 984.5h0M638.5 974.1h0M637.4 970.9h0M640.5 988.7h0M641.1 993.5h0M640.7 995.3h0M640.7 991.9h0M639.7 975.5h0M639.3 993.1h0M622.5 1086h0M624.3 1090.7h0M621.6 1092.3h0M621.6 1100h0M618.8 1075.9h0M621.5 1097.6h0M622.7 1082.7h0M619.2 1075.7h0M618.9 1079.7h0M618.9 1084.4h0M619.9 1076h0M619.8 1079.8h0M626.1 1099h0M622.6 1094h0M619.2 1083.8h0M619.6 1082.9h0M624.8 1095.1h0M620 1076.3h0M623.5 1084.2h0M622.6 1099.6h0"/>
<path id="sc14" d="M590.3 1144.9h0M588.3 1143.6h0M600.2 1103.5h0M598.4 1102h0M610.1 1147.2h0M618.1 1121.2h0M619.3 1119.1h0M593.6 1138.6h0M595.9 1139.1h0M598.1 1140.1h0M611.1 1132.8h0M610.3 1130.5h0M609.1 1128.4h0M601.9 1159.5h0M589.5 1148.5h0M594 1135.7h0M591.6 1135.7h0M589.3 1135h0M603.3 1131.4h0M613.1 1152.4h0M597.1 1135.9h0M594 1156.9h0M613.2 1119h0M615 1120.6h0M614.5 1123h0M618.1 1133.2h0M615.7 1133.5h0M613.4 1132.6h0M605.9 1158.4h0M604.4 1156.5h0M604 1120.7h0M602.7 1122.7h0M600.7 1124.1h0M607.4 1140.7h0M605.8 1142.5h0M600 1101.6h0M601.2 1103.7h0M602.4 1105.8h0M600.9 1108.1h0M593.8 1132.7h0M615.4 1113.3h0M613.1 1113.8h0M587.5 1140.8h0M586.3 1138.8h0M586.5 1136.4h0M610.7 1108.9h0M594.8 1105.8h0M592.9 1147.7h0M609.7 1108.4h0M608.5 1106.3h0M608.8 1104h0M613.4 1149.5h0M615.7 1149h0M611.5 1145.9h0M612.1 1148.2h0M614.3 1149.2h0M588.6 1152.1h0M589.6 1149.9h0M588.8 1147.6h0M607.2 1129.8h0M606.8 1127.5h0M607.8 1125.2h0M616.3 1105.5h0M614.5 1107h0M608.6 1137.6h0M610.6 1138.9h0M608.3 1138.7h0M609 1141h0M609.4 1143.3h0M592.4 1117.8h0M594.5 1119h0M590.6 1125.6h0M588.9 1123.9h0M604.7 1119.5h0M605.5 1121.7h0M591 1106.2h0M610.6 1149.1h0M611.6 1151.3h0M600.8 1123.4h0M599.1 1125.1h0M596.7 1124.7h0M607.1 1149.7h0M589.3 1123.1h0M601.5 1125h0M597.3 1124.3h0M609.7 1135.8h0M608.2 1133.9h0M609.1 1131.7h0M595.3 1105.7h0M593.3 1107.1h0M595.3 1144.4h0M593.7 1142.6h0M597.6 1130.2h0M605.9 1132.9h0M607.9 1134.2h0M597.2 1126.6h0M594.8 1126.4h0M611.2 1145.9h0M611.1 1148.3h0M611.4 1150.7h0M606.3 1133.4h0M607.1 1109.4h0M604.9 1110.5h0M602.6 1110.2h0M598.5 1119.6h0M597.1 1121.6h0M596.6 1123.9h0M591.6 1107.9h0M616.1 1128h0M598.8 1138.2h0M602.7 1122.9h0M600.5 1124h0M598.8 1122.4h0M610.8 1130.1h0M589.5 1123.9h0M590.1 1126.2h0M590.9 1128.5h0M614.9 1136.3h0M617.3 1136.4h0M607.2 1134.1h0M596.7 1115.8h0M594.6 1114.7h0M594 1123.1h0M603.3 1145.7h0M597.6 1101.8h0M604.1 1126.6h0M605.7 1128.4h0M608 1127.6h0M587.6 1149.2h0M604.5 1113.1h0M602.3 1113.9h0M599.9 1114.4h0M600 1141.5h0M602.4 1141.1h0M604.6 1142.1h0M618.4 1137.5h0M599.7 1147.8h0M599.4 1145.5h0M600.2 1119.8h0M602.6 1119.3h0M604.8 1120.3h0M606.9 1119.1h0M614.3 1134.2h0M612.1 1133.1h0M609.8 1132.4h0M618.9 1117.7h0M604.8 1110.6h0M606 1112.7h0M606.9 1114.9h0M605.8 1151.9h0M603.8 1153.2h0M610.3 1137.8h0M609.4 1140h0M616.1 1124.6h0M607.7 1108.5h0M608.9 1110.6h0M613.2 1154.3h0M612.4 1152h0M599 1101.6h0M601.8 1124.1h0M597.1 1114.6h0M598 1112.4h0M604.4 1127.9h0M602.5 1126.4h0M600.7 1124.8h0M602.5 1147.3h0M602.4 1149.7h0M600.7 1151.3h0M597.1 1112.6h0M599.5 1112.4h0M601.7 1113.5h0M602.1 1114.2h0M603.9 1112.7h0M605.3 1110.8h0M602.7 1104.2h0M602.1 1106.5h0M601.4 1108.8h0M600.5 1102.1h0M598.2 1101.6h0M593.9 1125.9h0M595.8 1134.4h0M592.2 1138.2h0M593.6 1127.9h0M597.2 1127.8h0M594.9 1126.9h0M593.3 1125.1h0M609.9 1140h0M612 1138.8h0M613 1136.6h0M596.6 1153.6h0M595.9 1151.3h0M600.4 1117.5h0M598.1 1118.2h0M595.7 1117.8h0M600 1153.9h0M599.2 1156.2h0M590.1 1137.9h0M616.8 1123.2h0M617.6 1125.4h0M619.2 1127.3h0M604.3 1141.2h0M606.7 1140.8h0M609 1140.1h0M607.4 1159.4h0M596.7 1149.6h0M615 1131.2h0M594.1 1119.8h0M596.3 1120.9h0M599.6 1136.2h0M609 1104.5h0M607.1 1105.8h0M600.7 1156.4h0M602 1158.4h0M602.5 1116.6h0M601.5 1118.8h0M595.8 1153.9h0M598.1 1113.2h0M600.5 1112.7h0M595.7 1102.8h0M595.2 1157.1h0M592.9 1156.8h0M602.4 1108.8h0M596.3 1111.3h0M595.7 1113.6h0M596.2 1115.9h0M605.9 1122.4h0M605.2 1120.1h0M599.1 1120.3h0M601.1 1119h0M606.7 1120.5h0M609.2 1131.8h0M618 1134.8h0M608.7 1147.1h0M609.9 1145h0M611.5 1143.2h0M604.9 1129h0M605.1 1126.6h0M601.6 1157.9h0M603.5 1159.2h0M610.4 1103.6h0M608.1 1103.9h0M605.7 1104.1h0M603.5 1104.5h0M593.1 1150.3h0M595.2 1151.4h0M597.6 1151.4h0M592.9 1118.3h0M594.6 1116.6h0M604.8 1143.6h0M602.6 1142.7h0M591.4 1104.6h0M589.8 1106.4h0M589.8 1108.8h0M603.8 1153.1h0M603.7 1155.5h0M602.2 1157.4h0M600.4 1147.6h0M599.8 1149.9h0M599.8 1152.3h0M588.9 1111.2h0M603.6 1121.9h0M606.2 1148.9h0M595.5 1112.4h0M596 1110h0M597.6 1108.2h0M604.6 1113.3h0M587 1122.2h0M589.4 1122.1h0M591.7 1122.7h0M606.6 1127.1h0M604.3 1128h0M602.2 1129.2h0M610.5 1133.4h0M588.1 1132.6h0M589.5 1130.7h0M611.7 1150.6h0M613 1152.7h0M612.4 1155h0M597.8 1114.5h0M616.4 1111.2h0M592.5 1123.7h0M591.9 1121.4h0M598.6 1105.4h0M600.9 1106h0M599.3 1111.2h0M594.8 1127.8h0M596.9 1126.8h0M606.8 1130.5h0M605.6 1128.4h0M603.2 1128h0M615.1 1113.9h0M614.3 1111.6h0M612.1 1110.8h0M618.1 1135.2h0M609.6 1132.3h0M607.7 1130.9h0M607 1128.6h0M589.3 1134.3h0M610.8 1104.5h0M592.1 1135.8h0M593 1138h0M591.2 1139.5h0M596.4 1129.3h0M608.4 1147.4h0M617.3 1115.5h0M604.5 1100.8h0M593.8 1135.7h0M611.2 1113.5h0M609.4 1115.2h0M612.7 1107h0M613.1 1109.3h0M612.6 1111.7h0M599.2 1141.2h0M600 1139h0M614.1 1122.5h0M616.3 1121.5h0M618.7 1121.5h0M585.8 1128h0M588 1127.1h0M611.4 1123.8h0M586.4 1172h0M593.8 1163.2h0M590.9 1162.3h0M599.5 1155.2h0M582.6 1167.6h0M590 1161.8h0M594.4 1164.7h0M591.4 1168.8h0M578.3 1166.3h0M600.6 1160.8h0M583.7 1165.5h0M582 1170.7h0M584.4 1165.4h0M596.4 1165.4h0M580.5 1170.3h0M583.3 1169.4h0M596.2 1152.5h0M588.1 1166.3h0M578 1169.4h0M589.5 1161h0M585.6 1170.9h0M594.5 1163.1h0M582.6 1163.7h0M593.9 1165.8h0M585.1 1166.5h0M599.7 1161h0M582 1169.1h0M586.6 1165.7h0M589.5 1168h0M599.5 1156.3h0M595.4 1152.5h0M600.5 1156h0M590.5 1168.6h0M591.5 1162.5h0M596.9 1163.6h0M585.2 1163.3h0M579.1 1169.7h0M588 1170.1h0M588 1170.9h0M586 1166.9h0"/>
<path id="sc15" d="M521.2 580.9h0M523 579.3h0M482.7 572.3h0M488.7 571.7h0M494.4 583.5h0M523.2 585.1h0M523.9 582.8h0M511.8 584.5h0M513.7 585.9h0M507.4 568.2h0M505.4 566.9h0M481.4 577h0M483.7 576.3h0M486 576.9h0M497.4 583.8h0M503.7 592h0M506 592.5h0M507.7 594.2h0M514.3 590.9h0M516.7 591h0M510.2 592.1h0M512.5 592.9h0M510.4 569h0M507.3 601.5h0M508.7 599.6h0M511.1 572h0M508 601.9h0M495.4 579.4h0M497.8 579.1h0M499.6 580.8h0M500.8 593.2h0M499 591.6h0M492.5 571.4h0M492 569h0M491.4 566.7h0M487.1 575.4h0M488.8 573.7h0M476.6 572.4h0M500.9 577.2h0M510.1 581.6h0M500.5 584.8h0M498.1 585.1h0M518.2 600h0M517.1 597.9h0M518.2 595.7h0M519.5 603.5h0M507.5 577h0M501.3 578.4h0M500 580.4h0M499.4 579.7h0M497.1 580.3h0M526.1 595h0M514.2 576.5h0M504 576.9h0M503.2 579.2h0M524.4 610.3h0M525.8 608.4h0M535.1 596.5h0M491.8 587.4h0M490 573.2h0M492.1 572h0M516.1 584.5h0M503.6 574.6h0M505.2 572.8h0M513.8 574.1h0M516.1 574h0M495.5 578.3h0M493.3 577.5h0M494 562.9h0M520 591.8h0M501 573h0M499.2 574.6h0M498.9 577h0M484.7 583.6h0M487 583h0M489 581.8h0M512.5 581.2h0M513.7 579.1h0M514 576.8h0M508.2 598.5h0M527.2 593.3h0M508.5 598.4h0M531.5 592.6h0M530.4 590.4h0M532.3 588.9h0M487.6 571.3h0M486.4 569.2h0M518.9 610.9h0M520.8 609.3h0M522.8 608h0M527.5 599.9h0M525.1 599.9h0M524.6 597.6h0M508.2 580.8h0M506.2 582.1h0M509.2 569.2h0M492.2 584.6h0M522 583.4h0M519.6 583.2h0M517.8 581.6h0M525.5 590h0M523.1 590.2h0M520.7 589.7h0M530.5 589.9h0M525.3 578.1h0M527.5 579.2h0M501.5 594.2h0M499.2 593.3h0M523.9 586.9h0M524 584.5h0M477.9 577.1h0M477.1 574.9h0M527 585.5h0M508.5 586.3h0M506.7 587.9h0M504.9 589.6h0M516.3 602.6h0M516.3 605h0M492.6 571.1h0M506 568.1h0M520 609.2h0M502.3 568.9h0M504.5 568.1h0M506.9 568.2h0M508.9 571.2h0M508.1 573.5h0M529.6 606.2h0M530.2 603.9h0M508.5 578.7h0M507 580.5h0M498.8 564.8h0M497.9 562.6h0M505.8 590.1h0M486.7 571.7h0M488.3 570h0M488.9 567.6h0M505.8 579.9h0M504.4 581.9h0M521 585.2h0M522.4 587.1h0M516.6 589h0M510.9 597.2h0M483.8 566.4h0M493.9 591h0M494.2 588.6h0M492.8 586.7h0M482.3 582h0M522.8 577.9h0M517.1 596.6h0M504.5 569.4h0M502.3 568.4h0M500.1 567.7h0M503.6 567.7h0M503 570h0M505.5 563.6h0M505.9 585.4h0M507 587.5h0M499.1 568.1h0M498.2 570.3h0M529.7 595.7h0M488.8 558.9h0M504.4 565.6h0M506.5 566.9h0M508.5 565.5h0M491.9 578.4h0M491.3 580.8h0M530.4 592.1h0M516.5 590.8h0M515.7 593.1h0M499.5 578.9h0M497.2 578.1h0M495.1 579.1h0M497.9 559.5h0M491.4 576.3h0M493 574.5h0M493.7 572.2h0M494.4 562.2h0M491.3 566.3h0M489.6 564.6h0M505.7 600.5h0M505.5 602.9h0M496.9 564.3h0M497.5 562h0M497.1 559.7h0M496.4 589.1h0M523.6 604.8h0M507.3 594.1h0M509.3 592.8h0M510.5 570.6h0M512.9 570.2h0M499.5 578.7h0M499.7 581.1h0M500.2 583.4h0M535 594.7h0M534.7 597h0M521.9 582.8h0M518.2 609.2h0M515.9 609.9h0M505.2 593.6h0M485.4 578h0M520.4 605.9h0M486.3 583.2h0M507 564.3h0M502 561.9h0M503.7 563.6h0M505.2 565.4h0M496.9 580.2h0M498.9 572.2h0M497.4 570.2h0M495.8 568.5h0M515.4 587.6h0M495.6 580.3h0M489.2 580.1h0M487.2 581.4h0M485 580.9h0M487.1 579.6h0M489.4 579.1h0M493.2 562.9h0M524.8 602.2h0M527.1 601.7h0M528.5 599.7h0M494.8 561.7h0M496.2 563.6h0M497.4 565.7h0M513.8 582.7h0M514.6 580.5h0M512.7 579h0M522 602.6h0M500 581h0M501.1 583.1h0M503.4 583.8h0M487.7 577.8h0M502 569.8h0M501.8 567.5h0M502.6 565.2h0M501.8 593.1h0M504.1 592.6h0M498.3 593.9h0M489.9 561h0M495.3 587h0M495.8 589.4h0M497.3 591.3h0M519.3 599.4h0M517 600h0M514.8 601h0M489 573.1h0M488.7 570.7h0M500.3 568.3h0M501.4 566.1h0M509.6 593.9h0M509 596.2h0M508.6 598.5h0M518.4 610.8h0M517.4 578.2h0M516.4 580.4h0M519 591h0M496 576.2h0M514.6 599h0M524.8 585.1h0M530.6 587.8h0M528.2 587.8h0M526 587h0M498.8 593.1h0M500.6 591.6h0M503 590.9h0M516.2 609.2h0M495.8 573.6h0M523.4 585.9h0M502.1 585.8h0M502.1 588.2h0M499.9 589.1h0M501.3 575.3h0M503.4 574.2h0M500.7 569.3h0M483.7 562.9h0M486 563.7h0M488 562.4h0M506.1 567.1h0M506 564.7h0M519.8 575.3h0M508.3 607.1h0M516.7 578h0M487.3 573.2h0M489 571.5h0M489.6 569.2h0M508.4 567.2h0M507.5 565h0M479.2 563.6h0M481.4 562.8h0M491.8 583.8h0M494.1 584h0M523.6 601.3h0M524.1 603.7h0M523.2 605.9h0M483 577.9h0M484.6 579.6h0M487 580.2h0M511.6 595.9h0M509.2 595.9h0M506.8 585.4h0M516.7 588.7h0M516.4 591.1h0M515 593h0M532.5 597.4h0M524 607.9h0M524.5 605.5h0M528.2 596.9h0M528.3 594.5h0M527 594.4h0M526.9 596.8h0M527.2 599.2h0M514.9 592.9h0M515.9 598.6h0M512.2 602h0M532.3 595h0M529.9 594.6h0M527.5 594.4h0M515 604.7h0M517.3 604.3h0M519.4 588.5h0M517.1 589.4h0M514.8 590h0M514.2 599.4h0M513 597.4h0M513.9 595.2h0M530.1 603.6h0M514.6 592.3h0M515.5 594.5h0M520.3 591.6h0M513.1 597.5h0M515.8 596.4h0M513.3 597.1h0M511.8 595.2h0M521.6 608.5h0M513.1 602h0M513.4 599.6h0M515.2 598.1h0M522.7 588.2h0M529.8 602.5h0M516 596.1h0M517.4 594.1h0M516.3 598.5h0M513.9 598.9h0M521.3 603.7h0M518.9 604h0M517.2 602.3h0M515.1 600.8h0M522.4 607.9h0M524.8 608.5h0M519.8 602.7h0M520.9 604.9h0M520 607.1h0M525.1 589.2h0M524.1 589.9h0M521.7 589.5h0M519.3 589.4h0M527.3 590h0M525.5 588.3h0M529.1 606.1h0M526.7 606.3h0"/>
<path id="sc16" d="M573.8 844.7h0M573.2 847h0M571.8 844h0M574.5 843.9h0M571.5 846.7h0M573 844.9h0M574.6 843.1h0M572.4 842.8h0M570.3 844.1h0M570.7 843.1h0M572.5 840.6h0M574.6 839.4h0M573.9 837.8h0M573.9 840.2h0M574.3 842.6h0M571.5 842h0M573.9 841.6h0M572.6 847.3h0M571.1 847.5h0M572.6 845.7h0M573.8 843.6h0M572.2 840.8h0M574 842.5h0M571.7 842h0M573.6 841.5h0M571 829h0M575.5 857h0M541.2 1307.9h0M541 1305.7h0M539.5 1311.1h0M541.4 1304.3h0M537.9 1310.8h0M541.7 1313h0M538.1 1324.9h0M538.8 1344h0M540 1298.6h0M540.5 1303.7h0M541.4 1332.2h0M537.7 1314.6h0M541.9 1335.7h0M539.2 1340.5h0M539.9 1319.3h0M541.7 1331.9h0M541.2 1318.9h0M542.4 1337.5h0M540 1299.7h0M539.9 1333.6h0M538 1302.4h0M542.4 1330.4h0M538 1298.8h0M540.7 1345.1h0M539 1326.2h0M540.5 1314.1h0M538.3 1333.2h0M542 1313.5h0M538.8 1315.4h0M542 1342.3h0M540.3 1323.9h0M540.9 1311h0M539.8 1299.6h0M540.3 1299.6h0M537.6 1316.3h0M539.8 1339.9h0M541.1 1324.6h0M543 1346.4h0M543 1340.5h0M542 1309.9h0M545.5 1384.8h0M547 1382.9h0M548.3 1380.9h0M528.4 1380.6h0M529.6 1378.6h0M532 1378h0M540.8 1370.8h0M542.8 1369.4h0M532.7 1392.8h0M534.4 1391.1h0M530.3 1373.4h0M532.6 1372.6h0M534.2 1370.9h0M535.1 1378h0M536.4 1380.1h0M539.7 1356.1h0M531.2 1381.9h0M531 1379.5h0M533.1 1378.3h0M526.6 1371.7h0M528.9 1371.4h0M531.3 1370.8h0M529.5 1374.6h0M540.5 1362.1h0M540.6 1359.7h0M539.9 1357.4h0M532.6 1357.5h0M533 1355.1h0M531.5 1392h0M530.7 1389.8h0M531.7 1355.4h0M530.9 1357.7h0M531.8 1359.9h0M531.1 1380h0M538.9 1384.7h0M541.3 1384.6h0M532.8 1374.5h0M536.5 1375.7h0M534.5 1374.4h0M536.2 1353.8h0M537.5 1371.5h0M525.7 1387.2h0M526.6 1385h0M527.7 1382.8h0M533.5 1364.5h0M526.8 1376.5h0M527.6 1378.7h0M541.5 1380.3h0M547.5 1377.2h0M545.7 1375.5h0M538.7 1357.5h0M536.7 1356.2h0M532.5 1349.1h0M536.3 1369h0M538.3 1391.3h0M540.5 1392.4h0M537.7 1365.8h0M535.7 1364.5h0M535.3 1362.1h0M539.9 1381.9h0M542.1 1382.8h0M542.6 1368.4h0M548.9 1360.4h0M546.5 1360.5h0M534 1355.9h0M532.7 1353.9h0M543.6 1356.6h0M541.1 1391.2h0M543.1 1392.4h0M536.1 1352.4h0M538.5 1352.4h0M532 1351.8h0M531.2 1354h0M544.8 1385.6h0M539.2 1373.4h0M527.7 1372.1h0M536.6 1353.6h0M534.4 1354.4h0M533.4 1356.6h0M540.4 1389.9h0M540.2 1390.2h0M529 1379.2h0M542 1392.9h0M534.9 1382.3h0M536.9 1380.9h0M547.5 1367.4h0M549.8 1367.9h0M528.4 1386.3h0M529.8 1384.3h0M531.5 1382.6h0M533.4 1367.8h0M530.9 1395.5h0M545 1371.8h0M528.2 1394h0M540.8 1395h0M533.7 1354.6h0M526.9 1386.5h0M541.9 1372.4h0M543.8 1370.9h0M546.1 1371.4h0M529.8 1354.9h0M544.1 1376.4h0M538.5 1381.9h0M538.9 1375h0M539.6 1372.7h0M546.3 1384h0M548.3 1382.6h0M541.2 1366.3h0M536.8 1383.4h0M542.3 1379.5h0M541.3 1377.3h0M542.2 1375h0M539.5 1394h0M537.1 1394h0M528.6 1389.8h0M530.1 1361.3h0M531.6 1351.6h0M540.8 1370.8h0M542.4 1372.6h0M542.1 1375h0M530.9 1375h0M528.5 1375.1h0M539.5 1390.6h0M541.8 1390h0M538.1 1367.7h0M535.7 1367.7h0M533.3 1368h0M528.5 1396.9h0M536.1 1387h0M535.7 1384.6h0M536.6 1382.4h0M534.4 1378.5h0M534 1376.1h0M533.1 1373.9h0M528.2 1385.3h0M527 1367.8h0M548.2 1383.3h0M548.8 1361.1h0M535.7 1377.4h0M536.3 1379.8h0M537 1382h0M534.4 1392.5h0M536.6 1391.6h0M537.5 1389.3h0M545.4 1352.5h0M543.1 1353.2h0M528.1 1390.2h0M528.7 1392.5h0M544.3 1354.4h0M546.2 1355.9h0"/>
<path id="sc17" d="M557.8 912.7h0M556.2 931.1h0M558.5 927.4h0M559.5 926.5h0M558.8 923.2h0M555.9 931h0M561.4 925.7h0M556.6 915.8h0M559.4 922.8h0M558.4 914.5h0M561.1 921.1h0M560 921.1h0M558.5 912.7h0M561.9 922h0M556.4 914.9h0M557.8 930.6h0M562 923.2h0M560 912.4h0M560.9 915.7h0M556.7 919.9h0M556.5 916.1h0M557.9 924.5h0M558.6 916.4h0M559.5 912.5h0M560.5 915.7h0M557.2 938.8h0M556.3 936.6h0M564.7 940.7h0M558.8 939.2h0M558.3 933.2h0M568.2 944.4h0M570.6 943.8h0M564.7 943.1h0M562.4 943.8h0M560 943.9h0M558.1 948.1h0M557 950.1h0M564.6 944.4h0M566.9 945.1h0M569.2 944.5h0M559.5 950.8h0M561 948.9h0M556.3 942.4h0M552.7 940.1h0M553.6 937.9h0M554.1 935.6h0M553.1 948.3h0M555.3 947.3h0M563.5 939.9h0M560 940.7h0M562.4 940.8h0M562.8 939.9h0M565 938.9h0M565.3 936.5h0M562.4 947.4h0M560.2 948.2h0M558.8 950.1h0M565.4 946.6h0M553.5 942.7h0M565.7 937.7h0M563.6 936.6h0M561.4 935.6h0M560.4 947.8h0M558.4 949h0M567.1 942.9h0M564.8 941.7h0M566.5 943.4h0M555.5 936.9h0M556.2 947.3h0M557 949.5h0M552 941.6h0M553.8 943.1h0M554.3 948.8h0M557.5 935.3h0M556.1 941.2h0M568.8 940.3h0M567.7 938.1h0M565.6 948.5h0M563.6 949.8h0M561.5 948.6h0M567.2 942.3h0M560.6 949.9h0M559.5 947.8h0M559.7 945.4h0M551.9 941.4h0M551.8 939h0M562.4 937.5h0M564.8 937.7h0M567.2 938.1h0M563.8 944h0M562 945.5h0M567.2 944.3h0M553.6 944.3h0M557.7 938.3h0M556.2 936.5h0M554 935.6h0M560.2 946.2h0M554 947h0M552.2 945.4h0M569.5 942.1h0M567.1 941.5h0M565.2 942.9h0M553.7 948.6h0M559.1 937h0M560.3 934.9h0M575.7 958.2h0M568.5 959.2h0M567.8 956.8h0M568.8 954.6h0M562 956.3h0M559.7 957h0M557.3 957.1h0M556.7 954.1h0M566.8 950.2h0M558.9 954.8h0M558.9 962.1h0M557.2 963.8h0M563.8 952.9h0M564.4 955.2h0M570.4 956.5h0M567 957.4h0M564.6 957.7h0M562.7 959.1h0M561.2 953.6h0M559.1 954.8h0M557.7 956.8h0M561.3 956.5h0M553.3 979.9h0M553.5 977.5h0M553.8 975.1h0M543.1 974.7h0M543.8 980.5h0M545.4 982.2h0M547.6 983.2h0M556.2 970.3h0M558.4 969.4h0M560.7 968.9h0M555.1 973.5h0M552.7 974h0M549.8 975.1h0M557.4 974.2h0M559 976.1h0M560.8 977.6h0M550.4 983.3h0M548.1 984h0M546.2 985.5h0M551.5 975.9h0M562.4 971.8h0M560 971.4h0M558.8 970.1h0M564.2 972.8h0M552.3 978.9h0M552.7 976.5h0M545.5 985h0M556.6 986.9h0M554.7 968.6h0M557.1 968.4h0M559.5 968.3h0M543 981.9h0M544 984.1h0M546.3 984.7h0M545.9 975.8h0M543.5 975.5h0M554.1 974.1h0M552.5 975.9h0M551.3 978h0M545.9 982.7h0M547 984.8h0M555.2 975.5h0M553 974.4h0M552.3 972.1h0M546 973h0M543.8 973.8h0M547.4 986.9h0M555.1 979.1h0M553.3 980.7h0M552.5 983h0M546.9 975.5h0M553 972.2h0M554.1 974.3h0M544 982.9h0M552.4 979.9h0M554.5 978.7h0M549.4 980h0M562.1 976.9h0M560 978h0M559.7 980.4h0M558.9 975.4h0M559.2 977.8h0M561 979.3h0M564.1 972.5h0M561.7 972.6h0M559.6 971.4h0M561.2 969.5h0M562.7 971.4h0M545.1 969.5h0M549.2 984.8h0M547.2 986.1h0M548.9 984.4h0M549.3 985.4h0M551.7 985.8h0M554 986.3h0M562.6 979.2h0M560.7 980.7h0M554.7 966.5h0M544.1 969.4h0M546.5 968.8h0M548.8 986.6h0M549.2 984.2h0M550.8 982.4h0M558 970.4h0M560.2 971.3h0M562.6 971.8h0M565.7 975.8h0M550.7 969.7h0M550 971.9h0M549.6 974.3h0M547.8 986.1h0M563 976.3h0M563.4 974h0M563.8 971.6h0M560.1 976.2h0M558.3 974.7h0M557.8 972.3h0M544.6 980.2h0M546.8 979.2h0M552.5 974.6h0M550.9 976.4h0M549.6 978.4h0M548.7 971.6h0M551.1 971.6h0M556.2 966.9h0M553.9 967.5h0M552 981.7h0M552.6 979.4h0M563.4 980.5h0M561.4 979.1h0M592.3 976.8h0M579.8 979.1h0M591.1 976h0M580.4 979.3h0M585.4 977.2h0M568.6 977.1h0M575.1 977.7h0M580 976.5h0M576.4 976.5h0M592.2 974.9h0M585.9 977.9h0M576.4 978.6h0M572.3 979.9h0M569.1 978.4h0M578.1 977.3h0"/>
<path id="sc18" d="M572 681.9h0M571.6 682h0M568.2 666h0M557.7 645.1h0M569.7 670.8h0M572 675.4h0M565.6 661.5h0M565.3 659.9h0M567.1 663.5h0M565.6 660h0M572.1 682.1h0M561.1 651.3h0M566 661.8h0M565 658.2h0M572.1 679.1h0M559 650.7h0M564.8 658.1h0M555.9 645.3h0M557.4 648.1h0M571.2 679h0M558.9 650.3h0M572.8 673h0M559.8 650.8h0M572 678.9h0M572 671.8h0M568.9 666h0M564.7 658.2h0M556 645.8h0M572.7 674.1h0M572.6 681.4h0M572 674.6h0M571.7 671.6h0M564.1 660h0M560.5 652.6h0M571.7 674.6h0M568 667.2h0M560.6 653.4h0M572.4 678.5h0M569.4 666.8h0M557.7 644.8h0M572.4 678.9h0M563.7 656.8h0M570.9 671.3h0M567.7 663h0M563.4 656.7h0M558.9 650.5h0M567.3 664.7h0M557.7 646.1h0M560.9 652.7h0M558.5 646.7h0M561.8 655.3h0M568.2 667.7h0M572.2 682.4h0M568.9 666.4h0M562.5 653.6h0M559.4 651.2h0M572 673.5h0M571.2 676h0M557.3 645.5h0M571.1 677.9h0M536.4 626.5h0M548.5 633h0"/>
<path id="sc19" d="M831.6 1305.5h0M833.9 1305h0M834.9 1309.6h0M822.8 1275.5h0M833.5 1310.7h0M832.5 1301.6h0M834.1 1299.2h0M829.6 1300.4h0M824.2 1277.2h0M819.9 1276.3h0M821.5 1281.5h0M827.8 1291.5h0M830.9 1296.4h0M832.9 1300.4h0M835.3 1308.2h0M822.3 1276.4h0M834.2 1299.1h0M839.2 1318.6h0M831.2 1301h0M829.3 1289h0M825.8 1290.2h0M831.5 1293h0M825.8 1283.1h0M825.4 1284.4h0M836.2 1321.3h0M833.2 1300.8h0M837.1 1308.9h0M829.8 1288.8h0M825.8 1288.8h0M835 1307.3h0M835.6 1320.7h0M824.1 1281.7h0M833.7 1308.7h0M831.7 1302.9h0M834.2 1300.7h0M831.9 1294.3h0M824.6 1279.9h0M824.2 1278.4h0M830.6 1293.9h0M830.7 1299h0M825.5 1288h0M837.8 1312.3h0M825.9 1284.7h0M831.6 1295.4h0M828.4 1287.7h0M826.1 1291.4h0M828.6 1293.2h0M827.9 1290h0M823.6 1278.3h0M830.9 1291.6h0M831.9 1298.8h0M836.9 1320.1h0M826.6 1292.9h0M827 1293.8h0M827.5 1284.7h0M837 1310.6h0M835.4 1310.1h0M836.6 1310.4h0M819.7 1273.3h0M834.6 1312h0M836.5 1316h0M826.5 1291.8h0M824.4 1283.2h0M819.3 1275.5h0M824.9 1279.2h0M829.1 1291.2h0M835.1 1318.7h0M833.7 1306.3h0M830.1 1297.2h0M831.6 1300.2h0M832.6 1339.9h0M830.5 1338.8h0M827.4 1330h0M825.2 1330.9h0M838.6 1335.5h0M828.1 1326.7h0M826.9 1328.8h0M827.5 1331.1h0M833 1328.1h0M837.4 1328.9h0M835.6 1327.3h0M836 1332.3h0M836 1329.9h0M836.3 1342.9h0M827.4 1336.4h0M859.3 1376.3h0M825 1367.4h0M826 1365.2h0M805.9 1378.2h0M806.3 1380.6h0M808.5 1381.6h0M807.4 1398.5h0M854.1 1366.8h0M854 1364.4h0M853.6 1370.5h0M851.5 1369.3h0M850.7 1367.1h0M802.7 1367.9h0M823.7 1369.5h0M825.4 1371.2h0M835.4 1382.3h0M837.3 1380.8h0M838.2 1378.6h0M831.5 1353.2h0M831.1 1355.5h0M829.9 1357.6h0M821.1 1357.7h0M820.6 1360.1h0M822.6 1361.5h0M802 1354.8h0M799.6 1354.7h0M797.3 1353.9h0M842.5 1399.8h0M811 1379.1h0M847.8 1364.5h0M846.1 1362.8h0M846.8 1365.1h0M834.7 1397.1h0M844.5 1384.3h0M799.9 1354h0M798.5 1352.1h0M828.8 1396h0M854.4 1372.7h0M854.1 1370.3h0M852.3 1368.8h0M813.2 1381.4h0M850.7 1369.7h0M832.4 1358.6h0M834.1 1356.9h0M814 1363.6h0M813.6 1366h0M816 1366.6h0M851.6 1362h0M842.4 1385h0M842.3 1382.6h0M830.2 1396.7h0M832.2 1395.4h0M810.2 1392.4h0M808.5 1394.1h0M803.9 1360.2h0M806.3 1360.3h0M808.4 1359.2h0M828 1377.9h0M830.4 1377.8h0M800.3 1383.7h0M819.9 1390.6h0M839 1397.2h0M841.1 1398.4h0M843.5 1398.3h0M805.8 1396.5h0M816.1 1394h0M814.9 1396.1h0M813.7 1398.2h0M832.5 1401.1h0M834.2 1363.2h0M811.3 1352.9h0M811.7 1355.3h0M810.8 1357.5h0M804.7 1380.5h0M806.4 1378.8h0M827.2 1380.5h0M829.3 1379.3h0M849 1379h0M846.8 1377.8h0M805.9 1377.1h0M803.7 1378.1h0M801.5 1379.1h0M798.4 1353.3h0M800.4 1354.6h0M801.8 1356.5h0M834.6 1358.8h0M837 1358.5h0M839.2 1357.5h0M802.2 1366.6h0M834 1400.8h0M806.3 1376.8h0M839.7 1365.2h0M840.4 1395.9h0M839.9 1398.2h0M852.2 1389.4h0M811 1360h0M813.9 1398.6h0M814.7 1396.4h0M815.3 1394.1h0M844 1396.7h0M813.1 1390.7h0M817.9 1402.8h0M820 1401.7h0M813.5 1403.3h0M833 1371.8h0M831.4 1368.8h0M831.3 1371.2h0M826 1352.5h0M848.4 1385.8h0M850.4 1387.1h0M805.4 1368.4h0M807.3 1369.9h0M837.5 1374.7h0M799.1 1379.8h0M823.5 1358.9h0M824.6 1351.6h0M844.2 1361.5h0M831.1 1404.6h0M833.5 1404.2h0M835.8 1403.9h0M826.9 1354.2h0M825.3 1356h0M844.4 1396.2h0M842.7 1394.5h0M843.4 1392.2h0M845.4 1383.3h0M843.6 1384.9h0M823.2 1375.9h0M825.6 1375.7h0M834.5 1395.8h0M821.8 1361.7h0M831.9 1381.5h0M838.9 1386.2h0M841.2 1385.7h0M843.4 1386.8h0M813 1388.5h0M812.6 1386.1h0M833.2 1381h0M833.5 1383.3h0M811.1 1381.1h0M804 1378h0M804.3 1375.6h0M802.3 1374.1h0M818.9 1396.6h0M820.9 1395.3h0M821.5 1393h0M826.1 1388.1h0M828.5 1387.9h0M829.9 1386h0M853.7 1364.3h0M806.3 1369.1h0M804.1 1368.2h0M802.1 1366.8h0M802.9 1385.2h0M803.5 1382.9h0M821.6 1379h0M816.5 1362.2h0M818.1 1360.4h0M832.4 1384.6h0M834.7 1384h0M802.9 1385.9h0M802.6 1388.3h0M813.1 1350.3h0M826.3 1379.6h0M820.6 1394h0M822.9 1394.9h0M825.1 1395.8h0M832.3 1395h0M807.2 1390.6h0M812.6 1387.1h0M813.8 1385.1h0M834 1362.2h0M836.4 1362.3h0M838.8 1362.7h0M838.1 1395.8h0M840 1394.4h0M841.7 1392.7h0M851.9 1376.9h0M854.2 1376.2h0M856.6 1376.1h0M853.6 1373.6h0M853.8 1371.2h0M839.5 1377.3h0M815.6 1377.5h0M846.5 1374.8h0M846.2 1372.4h0M844.7 1370.5h0M822.4 1390.6h0M834.7 1378.6h0M851.1 1376.3h0M824.4 1404.5h0M818 1350.5h0M819.1 1365.3h0M821.2 1366.4h0M822.4 1368.5h0M830.2 1357.2h0M828.6 1355.4h0M826.4 1354.3h0M844.5 1359.3h0M836.2 1393.6h0M816.4 1383h0M818.7 1383.5h0M820.7 1384.9h0M824.5 1380.4h0M826.5 1381.7h0M828.8 1382.5h0M810.3 1390h0M812.2 1388.6h0M814.4 1387.6h0M800.9 1359.2h0M809.3 1390.6h0M819.7 1351.4h0M817.6 1352.6h0M815.3 1353.1h0M819.2 1400.4h0M830.4 1354.6h0M814.7 1395.5h0M813.6 1393.4h0M812.3 1391.4h0M826.2 1386h0M825 1388h0M819.9 1363.8h0M853 1365.1h0M855.2 1371.4h0M854.7 1369.1h0M841.1 1396.2h0M822 1387.7h0M835.5 1390.2h0M833.5 1388.9h0M831.7 1387.3h0M804.3 1382.2h0M804.4 1379.8h0M826 1354.2h0M823.9 1355.4h0M821.5 1355.5h0M816.9 1353.9h0M816.7 1356.3h0M826.8 1378.4h0M834.8 1402.2h0M837 1401.2h0M838.9 1399.7h0M830.3 1369.4h0M830.7 1367.1h0M826.3 1358h0M828.1 1356.4h0M822.1 1382.2h0M857.3 1372h0M812.6 1359.5h0M813.1 1355.1h0M833.5 1367.7h0M843.8 1371.7h0M844.6 1374h0M828.6 1356.8h0M828.6 1354.4h0M809.3 1391.4h0M842 1394.2h0M841.4 1391.8h0M841.1 1389.4h0M807.6 1398.7h0M826 1390.9h0M825.9 1388.5h0M824.6 1386.5h0M820.3 1371.1h0M820.7 1373.5h0M834.9 1389.5h0M837.3 1389.7h0M817.4 1376.7h0M853.2 1381.3h0M852.1 1379.1h0M842.8 1357.5h0M810 1354.1h0M811.8 1352.5h0M799.5 1387.5h0M836.2 1392h0M840.1 1386.2h0M806.4 1372.1h0M806 1369.7h0M806.4 1367.4h0M857.1 1374.6h0M855.1 1375.9h0M855.9 1378.1h0M847.1 1360h0M846.2 1362.2h0M845.3 1364.4h0M814.3 1370h0M815.9 1371.8h0M846.7 1381.6h0M844.3 1381.5h0M842 1382.3h0M816.5 1351.8h0M818.9 1352.3h0M827.1 1404.7h0M844.5 1392.5h0M826.6 1401.3h0M828.6 1400.1h0M829.9 1398h0M831.9 1378.4h0M832.7 1380.6h0M823 1353.2h0M820.6 1353.7h0M819.2 1355.6h0M852 1364h0M853.2 1361.9h0M797.2 1377.5h0M799.5 1378h0M801.7 1379h0M832.3 1384.6h0M830 1385.3h0M827.9 1360.6h0M826.6 1358.6h0M825.5 1356.5h0M844.8 1383.5h0M843.5 1385.5h0M802.4 1383.5h0M803.1 1360h0M803.5 1367.8h0M803 1370.2h0M825.3 1367.9h0M823.4 1369.4h0M840 1388.2h0M839.7 1390.6h0M840.3 1392.9h0M851.9 1382.4h0M802.7 1374.1h0M825 1389.9h0M824.8 1392.3h0M807.7 1384.7h0M833.9 1390.2h0M835.7 1391.8h0M824.3 1353.1h0M825.7 1351.2h0M855.3 1373.5h0M836.1 1359.3h0M836.8 1357h0M826.9 1401.9h0M825.1 1403.5h0M803.8 1394.1h0M802.1 1392.4h0M803.1 1390.2h0M801.3 1392.2h0M821.5 1354.4h0M829.2 1360h0M831.6 1359.9h0M834.4 1365.6h0M832.1 1366.2h0M802.5 1385.5h0M801.1 1383.5h0M801.2 1381.1h0M823.5 1391h0M821.5 1389.5h0M814.9 1359h0M813.7 1361.1h0M857.7 1372.1h0M800 1373.1h0M797.6 1373.2h0M821.6 1351h0M813 1383.2h0M810.6 1382.8h0M808.2 1382.6h0M848.8 1359.3h0M846.5 1359h0M828.5 1403.8h0M826.2 1403h0M823.9 1402.3h0M809 1399.6h0M811.3 1400.1h0M813.7 1400h0M827.4 1389h0M826.8 1386.7h0M827 1384.3h0M805.3 1361.1h0M803.9 1363h0M803.3 1365.3h0M848.9 1365.6h0M830.9 1353.7h0M841.3 1361.8h0M843.1 1360.2h0M845.4 1359.4h0M798.6 1367.1h0M800.9 1367.8h0M803.2 1368.5h0M831.6 1376h0M830.9 1378.3h0M842.4 1356.6h0M812.6 1402.5h0M817.3 1359h0M816 1361h0M813.8 1362h0M829.2 1375.2h0M809.3 1398.9h0M812.2 1356.4h0M810 1362.4h0M810.5 1360.1h0M809.5 1357.9h0M838.9 1360h0M840.9 1361.4h0M842.5 1363.2h0M808.6 1378.2h0M806.5 1379.3h0M804.1 1379.9h0M816.3 1400.8h0M817.1 1403h0M802.7 1394h0M841 1379.8h0M840.8 1377.4h0M823.8 1368.4h0M804.5 1362.3h0M804.5 1359.9h0M804 1357.6h0M809 1386.6h0M851 1361.9h0M848.6 1361.6h0M846.3 1362.4h0M819.2 1352.4h0M818.2 1354.6h0M816.5 1356.3h0M821.5 1376.1h0M823.3 1374.6h0M804.6 1369.4h0M804 1371.7h0M804 1359.5h0M818.1 1369.1h0M853.1 1367.9h0M850.7 1367.8h0M848.4 1368.5h0M829.1 1395.8h0M842.8 1357.3h0M840.4 1357.6h0M807.4 1391.6h0M821 1354.1h0M815.7 1390.8h0M814.2 1392.7h0M822.4 1388.4h0M855 1366.2h0M854.6 1363.8h0M797 1367.2h0M796.1 1369.4h0M803 1356.7h0M841.7 1381.5h0M852 1385.5h0M849.8 1384.7h0M848.2 1382.9h0M840.6 1389.9h0M838.2 1389.9h0M836 1390.8h0M840.4 1400.3h0M838.8 1402h0M813.3 1390.5h0M812.7 1392.8h0M811.9 1395h0M849.2 1368.9h0M820.8 1388.9h0M819.5 1390.9h0M798.1 1369.9h0M796.8 1371.9h0M833.8 1367.8h0M832.5 1369.7h0M837.8 1358.8h0M839.4 1357h0M833.4 1354.5h0M834.6 1352.4h0M802.2 1351.4h0M799.9 1352.1h0M842.2 1394.9h0M843.6 1396.9h0M844.7 1399h0M844.5 1378.5h0M816 1358.1h0M817.8 1356.5h0M829.5 1361.2h0M831.2 1363h0M840.6 1360h0M840.5 1362.4h0M809.9 1351h0M822.4 1392.2h0M846.8 1377.8h0M848.6 1376.2h0M799 1370.1h0M799.9 1367.9h0M802.1 1367h0M826.5 1360h0M827.9 1362h0M819.1 1371.5h0M817.9 1373.6h0M815.7 1374.6h0M835.1 1399.8h0M836.3 1364.9h0M803.2 1375.9h0M821.8 1354.5h0M816.9 1389.7h0M814.5 1389.7h0M812.2 1388.8h0M798.7 1371.8h0M800.9 1372.8h0M801.3 1375.2h0M827.4 1352.6h0M829.5 1353.6h0M802.1 1374.7h0M845.2 1396.9h0M844.1 1394.8h0M797.8 1350.6h0M785.8 1336.9h0M786.7 1336.7h0M796.2 1356.5h0M782.1 1336.9h0M796.6 1353.7h0M798.8 1358.4h0M795.9 1358.4h0M793.1 1352.8h0M792 1350.1h0M790.8 1345.9h0M786.4 1340.7h0M790.3 1347.2h0M788.6 1342.2h0M799.1 1358.6h0M792 1349.7h0M798.2 1355.6h0M798.8 1359h0M793.1 1343.5h0M794.5 1354.2h0M782.3 1334.7h0M786.4 1342.1h0M781.2 1335.6h0M797.6 1355h0M790.3 1351.6h0M789 1341.1h0M795.5 1349.4h0M796.8 1356.3h0M792.3 1349h0M800 1357.8h0M793.3 1346.4h0M793.2 1353.2h0M797.2 1359.2h0M796.5 1358.9h0M793.2 1353.7h0M793.5 1355.7h0M787.2 1345.1h0M791.9 1352.4h0M781.8 1337.4h0M796.1 1356h0M798.1 1357.1h0M782.8 1337.8h0M795.3 1355.9h0M802.6 1358.2h0M786.3 1340.4h0M793.1 1349.3h0M788.4 1347.2h0M789.4 1349.2h0M788.1 1334.1h0M788.7 1346.7h0"/>
</defs>
<g fill="none" stroke-linecap="round">
<use href="#sc0" stroke="#FBB4AF" stroke-width="5.6" stroke-opacity="0.45"/>
<use href="#sc1" stroke="#F3BB8E" stroke-width="5.6" stroke-opacity="0.45"/>
<use href="#sc2" stroke="#EAC273" stroke-width="5.6" stroke-opacity="0.45"/>
<use href="#sc3" stroke="#DCC873" stroke-width="5.6" stroke-opacity="0.45"/>
<use href="#sc4" stroke="#CCCE73" stroke-width="5.6" stroke-opacity="0.45"/>
<use href="#sc5" stroke="#B7D273" stroke-width="5.6" stroke-opacity="0.45"/>
<use href="#sc6" stroke="#92D773" stroke-width="5.6" stroke-opacity="0.45"/>
<use href="#sc7" stroke="#73DA9E" stroke-width="5.6" stroke-opacity="0.45"/>
<use href="#sc8" stroke="#73DCB8" stroke-width="5.6" stroke-opacity="0.45"/>
<use href="#sc9" stroke="#73DDCC" stroke-width="5.6" stroke-opacity="0.45"/>
<use href="#sc10" stroke="#73DCDF" stroke-width="5.6" stroke-opacity="0.45"/>
<use href="#sc11" stroke="#73D9EE" stroke-width="5.6" stroke-opacity="0.45"/>
<use href="#sc12" stroke="#73D4FA" stroke-width="5.6" stroke-opacity="0.45"/>
<use href="#sc13" stroke="#90CCFF" stroke-width="5.6" stroke-opacity="0.45"/>
<use href="#sc14" stroke="#C5C2FF" stroke-width="5.6" stroke-opacity="0.45"/>
<use href="#sc15" stroke="#E0B7FF" stroke-width="5.6" stroke-opacity="0.45"/>
<use href="#sc16" stroke="#F2AEF8" stroke-width="5.6" stroke-opacity="0.45"/>
<use href="#sc17" stroke="#FCA9EB" stroke-width="5.6" stroke-opacity="0.45"/>
<use href="#sc18" stroke="#FFA9DA" stroke-width="5.6" stroke-opacity="0.45"/>
<use href="#sc19" stroke="#FFAEC2" stroke-width="5.6" stroke-opacity="0.45"/>
<use href="#sc0" stroke="#E96F66" stroke-width="2.3"/>
<use href="#sc1" stroke="#DC7B2E" stroke-width="2.3"/>
<use href="#sc2" stroke="#CB8700" stroke-width="2.3"/>
<use href="#sc3" stroke="#B49200" stroke-width="2.3"/>
<use href="#sc4" stroke="#999B00" stroke-width="2.3"/>
<use href="#sc5" stroke="#75A400" stroke-width="2.3"/>
<use href="#sc6" stroke="#36AB00" stroke-width="2.3"/>
<use href="#sc7" stroke="#00B049" stroke-width="2.3"/>
<use href="#sc8" stroke="#00B476" stroke-width="2.3"/>
<use href="#sc9" stroke="#00B599" stroke-width="2.3"/>
<use href="#sc10" stroke="#00B4B8" stroke-width="2.3"/>
<use href="#sc11" stroke="#00AFD3" stroke-width="2.3"/>
<use href="#sc12" stroke="#00A5E7" stroke-width="2.3"/>
<use href="#sc13" stroke="#3298F0" stroke-width="2.3"/>
<use href="#sc14" stroke="#8C87F0" stroke-width="2.3"/>
<use href="#sc15" stroke="#BB75F0" stroke-width="2.3"/>
<use href="#sc16" stroke="#D965E4" stroke-width="2.3"/>
<use href="#sc17" stroke="#EB5CCE" stroke-width="2.3"/>
<use href="#sc18" stroke="#F05CB1" stroke-width="2.3"/>
<use href="#sc19" stroke="#F06688" stroke-width="2.3"/>
</g>
<line x1="131.2" y1="517" x2="131.2" y2="1446.5" stroke="#000" stroke-width="2.4"/>
<line x1="130" y1="1445.3" x2="893.6" y2="1445.3" stroke="#000" stroke-width="2.4"/>
<line x1="123" y1="645" x2="131.2" y2="645" stroke="#000" stroke-width="2.4"/>
<text x="114" y="655.6" font-size="29" text-anchor="end">10</text>
<line x1="123" y1="840.1" x2="131.2" y2="840.1" stroke="#000" stroke-width="2.4"/>
<text x="114" y="850.8" font-size="29" text-anchor="end">5</text>
<line x1="123" y1="1035.3" x2="131.2" y2="1035.3" stroke="#000" stroke-width="2.4"/>
<text x="114" y="1045.9" font-size="29" text-anchor="end">0</text>
<line x1="123" y1="1230.5" x2="131.2" y2="1230.5" stroke="#000" stroke-width="2.4"/>
<text x="114" y="1241" font-size="29" text-anchor="end">−5</text>
<line x1="123" y1="1425.6" x2="131.2" y2="1425.6" stroke="#000" stroke-width="2.4"/>
<text x="114" y="1436.2" font-size="29" text-anchor="end">−10</text>
<line x1="221.1" y1="1445.3" x2="221.1" y2="1453.5" stroke="#000" stroke-width="2.4"/>
<text x="221.1" y="1483" font-size="29.5" text-anchor="middle">−10</text>
<line x1="446.5" y1="1445.3" x2="446.5" y2="1453.5" stroke="#000" stroke-width="2.4"/>
<text x="446.5" y="1483" font-size="29.5" text-anchor="middle">0</text>
<line x1="671.9" y1="1445.3" x2="671.9" y2="1453.5" stroke="#000" stroke-width="2.4"/>
<text x="671.9" y="1483" font-size="29.5" text-anchor="middle">10</text>
<text x="443" y="1522.6" font-size="29.5">UMAP_1</text>
<text transform="translate(73.5 991) rotate(-90)" font-size="29" text-anchor="middle">UMAP_2</text>
<text x="542.5" y="575.4" font-size="30" text-anchor="middle" font-weight="bold">11</text>
<text x="595.9" y="657.9" font-size="30" text-anchor="middle" font-weight="bold">16</text>
<text x="273.4" y="740.2" font-size="30" text-anchor="middle" font-weight="bold">1</text>
<text x="165.5" y="812.1" font-size="30" text-anchor="middle" font-weight="bold">4</text>
<text x="302.9" y="918.5" font-size="30" text-anchor="middle" font-weight="bold">12</text>
<text x="166.4" y="1041" font-size="30" text-anchor="middle" font-weight="bold">2</text>
<text x="385.5" y="900.5" font-size="30" text-anchor="middle" font-weight="bold">18</text>
<text x="406" y="980" font-size="30" text-anchor="middle" font-weight="bold">8</text>
<text x="342.9" y="995.6" font-size="30" text-anchor="middle" font-weight="bold">17</text>
<text x="491.4" y="1007" font-size="30" text-anchor="middle" font-weight="bold">10</text>
<text x="528.5" y="1077.2" font-size="30" text-anchor="middle" font-weight="bold">15</text>
<text x="539.5" y="943.7" font-size="30" text-anchor="middle" font-weight="bold">14</text>
<text x="656.1" y="1034.3" font-size="30" text-anchor="middle" font-weight="bold">5</text>
<text x="641.7" y="1141.7" font-size="30" text-anchor="middle" font-weight="bold">9</text>
<text x="534.4" y="1201" font-size="30" text-anchor="middle" font-weight="bold">6</text>
<text x="390.8" y="1145.3" font-size="30" text-anchor="middle" font-weight="bold">0</text>
<text x="460.3" y="1211" font-size="30" text-anchor="middle" font-weight="bold">19</text>
<text x="420" y="1276.5" font-size="30" text-anchor="middle" font-weight="bold">7</text>
<text x="559.2" y="1403.9" font-size="30" text-anchor="middle" font-weight="bold">13</text>
<text x="828" y="1381.7" font-size="30" text-anchor="middle" font-weight="bold">3</text>
<circle cx="747.3" cy="497.8" r="8.90" fill="#F8766D"/>
<text x="783.2" y="509" font-size="29.5" letter-spacing="0.2">0 : Myeloid</text>
<circle cx="747.3" cy="535.9" r="8.90" fill="#EA8331"/>
<text x="783.2" y="547.1" font-size="29.5" letter-spacing="0.2">6 : Myeloid</text>
<circle cx="747.3" cy="574.1" r="8.90" fill="#D89000"/>
<text x="783.2" y="585.3" font-size="29.5" letter-spacing="0.2">7 : Myeloid</text>
<circle cx="747.3" cy="612.2" r="8.90" fill="#C09B00"/>
<text x="783.2" y="623.4" font-size="29.5" letter-spacing="0.2">8 : Myeloid</text>
<circle cx="747.3" cy="650.3" r="8.90" fill="#A3A500"/>
<text x="783.2" y="661.5" font-size="29.5" letter-spacing="0.2">10 : Myeloid</text>
<circle cx="747.3" cy="688.5" r="8.90" fill="#7CAE00"/>
<text x="783.2" y="699.7" font-size="29.5" letter-spacing="0.2">15 : Myeloid</text>
<circle cx="747.3" cy="726.6" r="8.90" fill="#39B600"/>
<text x="783.2" y="737.8" font-size="29.5" letter-spacing="0.2">17 : Myeloid</text>
<circle cx="747.3" cy="764.7" r="8.90" fill="#00BB4E"/>
<text x="783.2" y="775.9" font-size="29.5" letter-spacing="0.2">18 : Myeloid</text>
<circle cx="747.3" cy="802.8" r="8.90" fill="#00BF7D"/>
<text x="783.2" y="814" font-size="29.5" letter-spacing="0.2">19 : Myeloid</text>
<circle cx="747.3" cy="841" r="8.90" fill="#00C1A3"/>
<text x="783.2" y="852.2" font-size="29.5" letter-spacing="0.2">1 : B cells</text>
<circle cx="747.3" cy="879.1" r="8.90" fill="#00BFC4"/>
<text x="783.2" y="890.3" font-size="29.5" letter-spacing="0.2">2 : B cells</text>
<circle cx="747.3" cy="917.2" r="8.90" fill="#00BAE0"/>
<text x="783.2" y="928.4" font-size="29.5" letter-spacing="0.2">4 : B cells</text>
<circle cx="747.3" cy="955.4" r="8.90" fill="#00B0F6"/>
<text x="783.2" y="966.6" font-size="29.5" letter-spacing="0.2">12 : B cells</text>
<circle cx="747.3" cy="993.5" r="8.90" fill="#35A2FF"/>
<text x="783.2" y="1004.7" font-size="29.5" letter-spacing="0.2">5 : T cells</text>
<circle cx="747.3" cy="1031.6" r="8.90" fill="#9590FF"/>
<text x="783.2" y="1042.8" font-size="29.5" letter-spacing="0.2">9 : T cells</text>
<circle cx="747.3" cy="1069.8" r="8.90" fill="#C77CFF"/>
<text x="783.2" y="1081" font-size="29.5" letter-spacing="0.2">11 : T cells</text>
<circle cx="747.3" cy="1107.9" r="8.90" fill="#E76BF3"/>
<text x="783.2" y="1119.1" font-size="29.5" letter-spacing="0.2">13 : T cells</text>
<circle cx="747.3" cy="1146" r="8.90" fill="#FA62DB"/>
<text x="783.2" y="1157.2" font-size="29.5" letter-spacing="0.2">14 : T cells</text>
<circle cx="747.3" cy="1184.1" r="8.90" fill="#FF62BC"/>
<text x="783.2" y="1195.3" font-size="29.5" letter-spacing="0.2">16 : T cells</text>
<circle cx="747.3" cy="1222.3" r="8.90" fill="#FF6C91"/>
<text x="783.2" y="1233.5" font-size="29.5" letter-spacing="0.2">3 : NK cells</text>
<text x="-1.5" y="1551" font-size="40" font-weight="bold">c</text>
<rect x="246.5" y="1577.5" width="25.3" height="202" fill="#C855EA" />
<rect x="246.5" y="1779.5" width="25.3" height="122.3" fill="#00F8F8" />
<rect x="246.5" y="1577.5" width="25.3" height="324.3" fill="none" stroke="#000" stroke-width="2.3"/>
<line x1="246.5" y1="1779.5" x2="271.8" y2="1779.5" stroke="#000" stroke-width="2.3"/>
<rect x="288.6" y="1577.5" width="25.3" height="218.3" fill="#C855EA" />
<rect x="288.6" y="1795.8" width="25.3" height="106" fill="#00F8F8" />
<rect x="288.6" y="1577.5" width="25.3" height="324.3" fill="none" stroke="#000" stroke-width="2.3"/>
<line x1="288.6" y1="1795.8" x2="313.9" y2="1795.8" stroke="#000" stroke-width="2.3"/>
<rect x="330.8" y="1577.5" width="25.3" height="135.2" fill="#C855EA" />
<rect x="330.8" y="1712.7" width="25.3" height="189.1" fill="#00F8F8" />
<rect x="330.8" y="1577.5" width="25.3" height="324.3" fill="none" stroke="#000" stroke-width="2.3"/>
<line x1="330.8" y1="1712.7" x2="356.1" y2="1712.7" stroke="#000" stroke-width="2.3"/>
<rect x="372.9" y="1577.5" width="25.3" height="164.7" fill="#C855EA" />
<rect x="372.9" y="1742.2" width="25.3" height="159.6" fill="#00F8F8" />
<rect x="372.9" y="1577.5" width="25.3" height="324.3" fill="none" stroke="#000" stroke-width="2.3"/>
<line x1="372.9" y1="1742.2" x2="398.2" y2="1742.2" stroke="#000" stroke-width="2.3"/>
<rect x="415.1" y="1577.5" width="25.3" height="136.2" fill="#C855EA" />
<rect x="415.1" y="1713.7" width="25.3" height="188.1" fill="#00F8F8" />
<rect x="415.1" y="1577.5" width="25.3" height="324.3" fill="none" stroke="#000" stroke-width="2.3"/>
<line x1="415.1" y1="1713.7" x2="440.4" y2="1713.7" stroke="#000" stroke-width="2.3"/>
<rect x="457.2" y="1577.5" width="25.3" height="177.7" fill="#C855EA" />
<rect x="457.2" y="1755.2" width="25.3" height="146.6" fill="#00F8F8" />
<rect x="457.2" y="1577.5" width="25.3" height="324.3" fill="none" stroke="#000" stroke-width="2.3"/>
<line x1="457.2" y1="1755.2" x2="482.5" y2="1755.2" stroke="#000" stroke-width="2.3"/>
<rect x="499.4" y="1577.5" width="25.3" height="199.4" fill="#C855EA" />
<rect x="499.4" y="1776.9" width="25.3" height="124.9" fill="#00F8F8" />
<rect x="499.4" y="1577.5" width="25.3" height="324.3" fill="none" stroke="#000" stroke-width="2.3"/>
<line x1="499.4" y1="1776.9" x2="524.6" y2="1776.9" stroke="#000" stroke-width="2.3"/>
<rect x="541.5" y="1577.5" width="25.3" height="215.3" fill="#C855EA" />
<rect x="541.5" y="1792.8" width="25.3" height="109" fill="#00F8F8" />
<rect x="541.5" y="1577.5" width="25.3" height="324.3" fill="none" stroke="#000" stroke-width="2.3"/>
<line x1="541.5" y1="1792.8" x2="566.8" y2="1792.8" stroke="#000" stroke-width="2.3"/>
<rect x="583.6" y="1577.5" width="25.3" height="265.3" fill="#C855EA" />
<rect x="583.6" y="1842.8" width="25.3" height="59" fill="#00F8F8" />
<rect x="583.6" y="1577.5" width="25.3" height="324.3" fill="none" stroke="#000" stroke-width="2.3"/>
<line x1="583.6" y1="1842.8" x2="608.9" y2="1842.8" stroke="#000" stroke-width="2.3"/>
<line x1="239.3" y1="1576.4" x2="239.3" y2="1901.8" stroke="#000" stroke-width="2.4"/>
<line x1="220.7" y1="1901.8" x2="623.4" y2="1901.8" stroke="#000" stroke-width="2.4"/>
<line x1="218.8" y1="1577.5" x2="239.3" y2="1577.5" stroke="#000" stroke-width="2.4"/>
<text transform="translate(215.1 1586.1) scale(0.960 1)" font-size="30" text-anchor="end">100</text>
<line x1="218.8" y1="1658.6" x2="239.3" y2="1658.6" stroke="#000" stroke-width="2.4"/>
<text transform="translate(215.1 1667.2) scale(0.960 1)" font-size="30" text-anchor="end">75</text>
<line x1="218.8" y1="1739.7" x2="239.3" y2="1739.7" stroke="#000" stroke-width="2.4"/>
<text transform="translate(215.1 1748.2) scale(0.960 1)" font-size="30" text-anchor="end">50</text>
<line x1="218.8" y1="1820.7" x2="239.3" y2="1820.7" stroke="#000" stroke-width="2.4"/>
<text transform="translate(215.1 1829.3) scale(0.960 1)" font-size="30" text-anchor="end">25</text>
<line x1="218.8" y1="1901.8" x2="239.3" y2="1901.8" stroke="#000" stroke-width="2.4"/>
<text transform="translate(215.1 1910.4) scale(0.960 1)" font-size="30" text-anchor="end">0</text>
<line x1="259.1" y1="1901.8" x2="259.1" y2="1922.3" stroke="#000" stroke-width="2.4"/>
<text transform="translate(259.1 1950.8) scale(0.890 1)" font-size="32" text-anchor="middle">0</text>
<line x1="301.2" y1="1901.8" x2="301.2" y2="1922.3" stroke="#000" stroke-width="2.4"/>
<text transform="translate(301.2 1950.8) scale(0.890 1)" font-size="32" text-anchor="middle">6</text>
<line x1="343.4" y1="1901.8" x2="343.4" y2="1922.3" stroke="#000" stroke-width="2.4"/>
<text transform="translate(343.4 1950.8) scale(0.890 1)" font-size="32" text-anchor="middle">7</text>
<line x1="385.6" y1="1901.8" x2="385.6" y2="1922.3" stroke="#000" stroke-width="2.4"/>
<text transform="translate(385.6 1950.8) scale(0.890 1)" font-size="32" text-anchor="middle">8</text>
<line x1="427.7" y1="1901.8" x2="427.7" y2="1922.3" stroke="#000" stroke-width="2.4"/>
<text transform="translate(427.7 1950.8) scale(0.890 1)" font-size="32" text-anchor="middle">10</text>
<line x1="469.9" y1="1901.8" x2="469.9" y2="1922.3" stroke="#000" stroke-width="2.4"/>
<text transform="translate(469.9 1950.8) scale(0.890 1)" font-size="32" text-anchor="middle">15</text>
<line x1="512" y1="1901.8" x2="512" y2="1922.3" stroke="#000" stroke-width="2.4"/>
<text transform="translate(512 1950.8) scale(0.890 1)" font-size="32" text-anchor="middle">17</text>
<line x1="554.2" y1="1901.8" x2="554.2" y2="1922.3" stroke="#000" stroke-width="2.4"/>
<text transform="translate(554.2 1950.8) scale(0.890 1)" font-size="32" text-anchor="middle">18</text>
<line x1="596.3" y1="1901.8" x2="596.3" y2="1922.3" stroke="#000" stroke-width="2.4"/>
<text transform="translate(596.3 1950.8) scale(0.890 1)" font-size="32" text-anchor="middle">19</text>
<text x="427.4" y="1551.6" font-size="29.3" text-anchor="middle">Myeloid</text>
<line x1="247.3" y1="1564.4" x2="607.8" y2="1564.4" stroke="#C77CE8" stroke-width="2.6"/>
<rect x="101.5" y="1812" width="14" height="59" fill="#00F8F8" stroke="#000" stroke-width="2.2" />
<rect x="101.5" y="1675" width="14" height="58.6" fill="#C855EA" stroke="#000" stroke-width="2.2" />
<text transform="translate(117.5 1781.7) rotate(-90)" font-size="28" text-anchor="middle">Ctr</text>
<text transform="translate(117.5 1622.6) rotate(-90)" font-size="28" text-anchor="middle">nt-LNA</text>
<text transform="translate(157.8 1742.7) rotate(-90)" font-size="28" text-anchor="middle">Relative Contribution (%)</text>
<rect x="808.8" y="1577.5" width="25.6" height="188.1" fill="#C855EA" />
<rect x="808.8" y="1765.6" width="25.6" height="136.2" fill="#00F8F8" />
<rect x="808.8" y="1577.5" width="25.6" height="324.3" fill="none" stroke="#000" stroke-width="2.3"/>
<line x1="808.8" y1="1765.6" x2="834.4" y2="1765.6" stroke="#000" stroke-width="2.3"/>
<line x1="800.2" y1="1576.4" x2="800.2" y2="1901.8" stroke="#000" stroke-width="2.4"/>
<line x1="779" y1="1901.8" x2="856" y2="1901.8" stroke="#000" stroke-width="2.4"/>
<line x1="779.7" y1="1577.5" x2="800.2" y2="1577.5" stroke="#000" stroke-width="2.4"/>
<text transform="translate(776 1586.1) scale(0.960 1)" font-size="30" text-anchor="end">100</text>
<line x1="779.7" y1="1658.6" x2="800.2" y2="1658.6" stroke="#000" stroke-width="2.4"/>
<text transform="translate(776 1667.2) scale(0.960 1)" font-size="30" text-anchor="end">75</text>
<line x1="779.7" y1="1739.7" x2="800.2" y2="1739.7" stroke="#000" stroke-width="2.4"/>
<text transform="translate(776 1748.2) scale(0.960 1)" font-size="30" text-anchor="end">50</text>
<line x1="779.7" y1="1820.7" x2="800.2" y2="1820.7" stroke="#000" stroke-width="2.4"/>
<text transform="translate(776 1829.3) scale(0.960 1)" font-size="30" text-anchor="end">25</text>
<line x1="779.7" y1="1901.8" x2="800.2" y2="1901.8" stroke="#000" stroke-width="2.4"/>
<text transform="translate(776 1910.4) scale(0.960 1)" font-size="30" text-anchor="end">0</text>
<line x1="821.6" y1="1901.8" x2="821.6" y2="1922.3" stroke="#000" stroke-width="2.4"/>
<text transform="translate(821.6 1950.6) scale(0.890 1)" font-size="32" text-anchor="middle">3</text>
<text x="819.7" y="1557.8" font-size="29" text-anchor="middle">NK-Cells</text>
<line x1="809.6" y1="1564.2" x2="834.4" y2="1564.2" stroke="#E8302A" stroke-width="2.6"/>
<rect x="659.6" y="1814" width="13.4" height="57" fill="#00F8F8" stroke="#000" stroke-width="2.2" />
<rect x="659.6" y="1677" width="13.4" height="57.5" fill="#C855EA" stroke="#000" stroke-width="2.2" />
<text transform="translate(675.5 1782.3) rotate(-90)" font-size="28" text-anchor="middle">Ctr</text>
<text transform="translate(675.5 1623) rotate(-90)" font-size="28" text-anchor="middle">nt-LNA</text>
<text transform="translate(715.5 1741.2) rotate(-90)" font-size="28" text-anchor="middle">Relative Contribution (%)</text>
<rect x="247.2" y="2022.2" width="24.8" height="261.9" fill="#C855EA" />
<rect x="247.2" y="2284.1" width="24.8" height="61.8" fill="#00F8F8" />
<rect x="247.2" y="2022.2" width="24.8" height="323.7" fill="none" stroke="#000" stroke-width="2.3"/>
<line x1="247.2" y1="2284.1" x2="272" y2="2284.1" stroke="#000" stroke-width="2.3"/>
<rect x="289.4" y="2022.2" width="24.8" height="216.6" fill="#C855EA" />
<rect x="289.4" y="2238.8" width="24.8" height="107.1" fill="#00F8F8" />
<rect x="289.4" y="2022.2" width="24.8" height="323.7" fill="none" stroke="#000" stroke-width="2.3"/>
<line x1="289.4" y1="2238.8" x2="314.2" y2="2238.8" stroke="#000" stroke-width="2.3"/>
<rect x="331.5" y="2022.2" width="24.8" height="234.4" fill="#C855EA" />
<rect x="331.5" y="2256.6" width="24.8" height="89.3" fill="#00F8F8" />
<rect x="331.5" y="2022.2" width="24.8" height="323.7" fill="none" stroke="#000" stroke-width="2.3"/>
<line x1="331.5" y1="2256.6" x2="356.3" y2="2256.6" stroke="#000" stroke-width="2.3"/>
<rect x="373.7" y="2022.2" width="24.8" height="238.2" fill="#C855EA" />
<rect x="373.7" y="2260.4" width="24.8" height="85.5" fill="#00F8F8" />
<rect x="373.7" y="2022.2" width="24.8" height="323.7" fill="none" stroke="#000" stroke-width="2.3"/>
<line x1="373.7" y1="2260.4" x2="398.5" y2="2260.4" stroke="#000" stroke-width="2.3"/>
<rect x="415.9" y="2022.2" width="24.8" height="266.4" fill="#C855EA" />
<rect x="415.9" y="2288.6" width="24.8" height="57.3" fill="#00F8F8" />
<rect x="415.9" y="2022.2" width="24.8" height="323.7" fill="none" stroke="#000" stroke-width="2.3"/>
<line x1="415.9" y1="2288.6" x2="440.7" y2="2288.6" stroke="#000" stroke-width="2.3"/>
<rect x="458.1" y="2022.2" width="24.8" height="221.4" fill="#C855EA" />
<rect x="458.1" y="2243.6" width="24.8" height="102.3" fill="#00F8F8" />
<rect x="458.1" y="2022.2" width="24.8" height="323.7" fill="none" stroke="#000" stroke-width="2.3"/>
<line x1="458.1" y1="2243.6" x2="482.9" y2="2243.6" stroke="#000" stroke-width="2.3"/>
<line x1="239.2" y1="2021.1" x2="239.2" y2="2345.9" stroke="#000" stroke-width="2.4"/>
<line x1="221.7" y1="2345.9" x2="498.2" y2="2345.9" stroke="#000" stroke-width="2.4"/>
<line x1="218.7" y1="2022.2" x2="239.2" y2="2022.2" stroke="#000" stroke-width="2.4"/>
<text transform="translate(215 2030.8) scale(0.960 1)" font-size="30" text-anchor="end">100</text>
<line x1="218.7" y1="2103.1" x2="239.2" y2="2103.1" stroke="#000" stroke-width="2.4"/>
<text transform="translate(215 2111.7) scale(0.960 1)" font-size="30" text-anchor="end">75</text>
<line x1="218.7" y1="2184.1" x2="239.2" y2="2184.1" stroke="#000" stroke-width="2.4"/>
<text transform="translate(215 2192.7) scale(0.960 1)" font-size="30" text-anchor="end">50</text>
<line x1="218.7" y1="2265" x2="239.2" y2="2265" stroke="#000" stroke-width="2.4"/>
<text transform="translate(215 2273.6) scale(0.960 1)" font-size="30" text-anchor="end">25</text>
<line x1="218.7" y1="2345.9" x2="239.2" y2="2345.9" stroke="#000" stroke-width="2.4"/>
<text transform="translate(215 2354.5) scale(0.960 1)" font-size="30" text-anchor="end">0</text>
<line x1="259.6" y1="2345.9" x2="259.6" y2="2366.4" stroke="#000" stroke-width="2.4"/>
<text transform="translate(259.6 2395.3) scale(0.890 1)" font-size="32" text-anchor="middle">5</text>
<line x1="301.8" y1="2345.9" x2="301.8" y2="2366.4" stroke="#000" stroke-width="2.4"/>
<text transform="translate(301.8 2395.3) scale(0.890 1)" font-size="32" text-anchor="middle">9</text>
<line x1="343.9" y1="2345.9" x2="343.9" y2="2366.4" stroke="#000" stroke-width="2.4"/>
<text transform="translate(343.9 2395.3) scale(0.890 1)" font-size="32" text-anchor="middle">11</text>
<line x1="386.1" y1="2345.9" x2="386.1" y2="2366.4" stroke="#000" stroke-width="2.4"/>
<text transform="translate(386.1 2395.3) scale(0.890 1)" font-size="32" text-anchor="middle">13</text>
<line x1="428.3" y1="2345.9" x2="428.3" y2="2366.4" stroke="#000" stroke-width="2.4"/>
<text transform="translate(428.3 2395.3) scale(0.890 1)" font-size="32" text-anchor="middle">14</text>
<line x1="470.5" y1="2345.9" x2="470.5" y2="2366.4" stroke="#000" stroke-width="2.4"/>
<text transform="translate(470.5 2395.3) scale(0.890 1)" font-size="32" text-anchor="middle">16</text>
<text x="368.2" y="2003" font-size="28" text-anchor="middle">T-cells</text>
<line x1="248.2" y1="2009" x2="484" y2="2009" stroke="#2E9BE8" stroke-width="2.6"/>
<rect x="102.3" y="2265.5" width="14.2" height="58.5" fill="#00F8F8" stroke="#000" stroke-width="2.2" />
<rect x="102.3" y="2128.5" width="14.2" height="57.8" fill="#C855EA" stroke="#000" stroke-width="2.2" />
<text transform="translate(118.5 2235.4) rotate(-90)" font-size="28" text-anchor="middle">Ctr</text>
<text transform="translate(118.5 2076.6) rotate(-90)" font-size="28" text-anchor="middle">nt-LNA</text>
<text transform="translate(160 2193.8) rotate(-90)" font-size="28" text-anchor="middle">Relative Contribution (%)</text>
<rect x="695.7" y="2022.1" width="25" height="168.6" fill="#C855EA" />
<rect x="695.7" y="2190.7" width="25" height="155" fill="#00F8F8" />
<rect x="695.7" y="2022.1" width="25" height="323.6" fill="none" stroke="#000" stroke-width="2.3"/>
<line x1="695.7" y1="2190.7" x2="720.7" y2="2190.7" stroke="#000" stroke-width="2.3"/>
<rect x="737.9" y="2022.1" width="25" height="248.5" fill="#C855EA" />
<rect x="737.9" y="2270.6" width="25" height="75.1" fill="#00F8F8" />
<rect x="737.9" y="2022.1" width="25" height="323.6" fill="none" stroke="#000" stroke-width="2.3"/>
<line x1="737.9" y1="2270.6" x2="762.9" y2="2270.6" stroke="#000" stroke-width="2.3"/>
<rect x="780" y="2022.1" width="25" height="236.6" fill="#C855EA" />
<rect x="780" y="2258.7" width="25" height="87" fill="#00F8F8" />
<rect x="780" y="2022.1" width="25" height="323.6" fill="none" stroke="#000" stroke-width="2.3"/>
<line x1="780" y1="2258.7" x2="805" y2="2258.7" stroke="#000" stroke-width="2.3"/>
<rect x="822.2" y="2022.1" width="25" height="244.6" fill="#C855EA" />
<rect x="822.2" y="2266.7" width="25" height="79" fill="#00F8F8" />
<rect x="822.2" y="2022.1" width="25" height="323.6" fill="none" stroke="#000" stroke-width="2.3"/>
<line x1="822.2" y1="2266.7" x2="847.2" y2="2266.7" stroke="#000" stroke-width="2.3"/>
<line x1="679.1" y1="2021" x2="679.1" y2="2345.7" stroke="#000" stroke-width="2.4"/>
<line x1="658.7" y1="2345.7" x2="875.1" y2="2345.7" stroke="#000" stroke-width="2.4"/>
<line x1="658.6" y1="2022.1" x2="679.1" y2="2022.1" stroke="#000" stroke-width="2.4"/>
<text transform="translate(654.9 2030.7) scale(0.960 1)" font-size="30" text-anchor="end">100</text>
<line x1="658.6" y1="2103" x2="679.1" y2="2103" stroke="#000" stroke-width="2.4"/>
<text transform="translate(654.9 2111.6) scale(0.960 1)" font-size="30" text-anchor="end">75</text>
<line x1="658.6" y1="2183.9" x2="679.1" y2="2183.9" stroke="#000" stroke-width="2.4"/>
<text transform="translate(654.9 2192.5) scale(0.960 1)" font-size="30" text-anchor="end">50</text>
<line x1="658.6" y1="2264.8" x2="679.1" y2="2264.8" stroke="#000" stroke-width="2.4"/>
<text transform="translate(654.9 2273.4) scale(0.960 1)" font-size="30" text-anchor="end">25</text>
<line x1="658.6" y1="2345.7" x2="679.1" y2="2345.7" stroke="#000" stroke-width="2.4"/>
<text transform="translate(654.9 2354.3) scale(0.960 1)" font-size="30" text-anchor="end">0</text>
<line x1="708.2" y1="2345.7" x2="708.2" y2="2366.2" stroke="#000" stroke-width="2.4"/>
<text transform="translate(708.2 2394.8) scale(0.890 1)" font-size="32" text-anchor="middle">1</text>
<line x1="750.4" y1="2345.7" x2="750.4" y2="2366.2" stroke="#000" stroke-width="2.4"/>
<text transform="translate(750.4 2394.8) scale(0.890 1)" font-size="32" text-anchor="middle">2</text>
<line x1="792.5" y1="2345.7" x2="792.5" y2="2366.2" stroke="#000" stroke-width="2.4"/>
<text transform="translate(792.5 2394.8) scale(0.890 1)" font-size="32" text-anchor="middle">4</text>
<line x1="834.7" y1="2345.7" x2="834.7" y2="2366.2" stroke="#000" stroke-width="2.4"/>
<text transform="translate(834.7 2394.8) scale(0.890 1)" font-size="32" text-anchor="middle">12</text>
<text x="771.1" y="2003.3" font-size="28" text-anchor="middle">B-cells</text>
<line x1="695.3" y1="2008.8" x2="848" y2="2008.8" stroke="#45E6E6" stroke-width="2.6"/>
<rect x="546" y="2256.3" width="13.5" height="58.7" fill="#00F8F8" stroke="#000" stroke-width="2.2" />
<rect x="546" y="2119.8" width="13.5" height="58.8" fill="#C855EA" stroke="#000" stroke-width="2.2" />
<text transform="translate(561.5 2226.3) rotate(-90)" font-size="28" text-anchor="middle">Ctr</text>
<text transform="translate(561.5 2067.7) rotate(-90)" font-size="28" text-anchor="middle">nt-LNA</text>
<text transform="translate(601 2184.7) rotate(-90)" font-size="28" text-anchor="middle">Relative Contribution (%)</text>
<text x="1023" y="465.8" font-size="40" font-weight="bold">d</text>
<text x="1063.7" y="494.7" font-size="28">Cluster</text>
<rect x="1121.5" y="848.1" width="798.5" height="649.5" fill="#F4F4F4" />
<line x1="1121.5" y1="848.1" x2="1920" y2="848.1" stroke="#7A7A7A" stroke-width="1.6"/>
<line x1="1920" y1="848.1" x2="1920" y2="1497.6" stroke="#7A7A7A" stroke-width="1.6"/>
<circle cx="1146.8" cy="538.8" r="9.40" fill="#A406F2"/>
<circle cx="1190.7" cy="538.8" r="3.00" fill="#49DAF2"/>
<circle cx="1234.5" cy="538.8" r="7.10" fill="#7AB4F5"/>
<circle cx="1278.4" cy="538.8" r="2.00" fill="#73BBF5"/>
<circle cx="1322.3" cy="538.8" r="2.80" fill="#40E0F2"/>
<circle cx="1366.1" cy="538.8" r="2.80" fill="#40E0F2"/>
<circle cx="1410" cy="538.8" r="10.60" fill="#86A1F5"/>
<circle cx="1453.9" cy="538.8" r="3.50" fill="#40E0F2"/>
<circle cx="1497.8" cy="538.8" r="2.80" fill="#40E0F2"/>
<circle cx="1541.6" cy="538.8" r="3.20" fill="#40E0F2"/>
<circle cx="1585.5" cy="538.8" r="2.30" fill="#40E0F2"/>
<circle cx="1629.4" cy="538.8" r="2.80" fill="#40E0F2"/>
<circle cx="1673.2" cy="538.8" r="3.00" fill="#40E0F2"/>
<circle cx="1717.1" cy="538.8" r="5.20" fill="#40E0F2"/>
<circle cx="1761" cy="538.8" r="13.30" fill="#A406F2"/>
<circle cx="1804.8" cy="538.8" r="13.80" fill="#A406F2"/>
<circle cx="1848.7" cy="538.8" r="8.80" fill="#A406F2"/>
<circle cx="1892.6" cy="538.8" r="13.80" fill="#A406F2"/>
<line x1="1114.2" y1="538.8" x2="1121.5" y2="538.8" stroke="#000" stroke-width="2"/>
<text x="1106.6" y="547.8" font-size="24" text-anchor="end">3</text>
<circle cx="1146.8" cy="587.7" r="2.00" fill="#64C8F4"/>
<circle cx="1190.7" cy="587.7" r="2.50" fill="#40E0F2"/>
<circle cx="1234.5" cy="587.7" r="10.60" fill="#A406F2"/>
<circle cx="1278.4" cy="587.7" r="2.50" fill="#8F8EF5"/>
<circle cx="1322.3" cy="587.7" r="2.50" fill="#40E0F2"/>
<circle cx="1366.1" cy="587.7" r="2.80" fill="#40E0F2"/>
<circle cx="1410" cy="587.7" r="2.80" fill="#40E0F2"/>
<circle cx="1453.9" cy="587.7" r="2.50" fill="#40E0F2"/>
<circle cx="1497.8" cy="587.7" r="10.60" fill="#A058F4"/>
<circle cx="1541.6" cy="587.7" r="10.60" fill="#A058F4"/>
<circle cx="1585.5" cy="587.7" r="12.40" fill="#A406F2"/>
<circle cx="1629.4" cy="587.7" r="3.20" fill="#40E0F2"/>
<circle cx="1673.2" cy="587.7" r="3.00" fill="#40E0F2"/>
<circle cx="1717.1" cy="587.7" r="5.20" fill="#40E0F2"/>
<circle cx="1761" cy="587.7" r="2.30" fill="#52D4F3"/>
<circle cx="1804.8" cy="587.7" r="2.30" fill="#52D4F3"/>
<circle cx="1848.7" cy="587.7" r="2.30" fill="#52D4F3"/>
<circle cx="1892.6" cy="587.7" r="2.30" fill="#52D4F3"/>
<line x1="1114.2" y1="587.7" x2="1121.5" y2="587.7" stroke="#000" stroke-width="2"/>
<text x="1106.6" y="596.7" font-size="24" text-anchor="end">16</text>
<circle cx="1146.8" cy="636.6" r="2.00" fill="#64C8F4"/>
<circle cx="1190.7" cy="636.6" r="13.40" fill="#A406F2"/>
<circle cx="1234.5" cy="636.6" r="4.60" fill="#6BC1F4"/>
<circle cx="1278.4" cy="636.6" r="2.00" fill="#40E0F2"/>
<circle cx="1322.3" cy="636.6" r="4.80" fill="#8C98F5"/>
<circle cx="1366.1" cy="636.6" r="2.50" fill="#40E0F2"/>
<circle cx="1410" cy="636.6" r="5.80" fill="#49DAF2"/>
<circle cx="1453.9" cy="636.6" r="5.80" fill="#8C98F5"/>
<circle cx="1497.8" cy="636.6" r="3.00" fill="#40E0F2"/>
<circle cx="1541.6" cy="636.6" r="3.20" fill="#40E0F2"/>
<circle cx="1585.5" cy="636.6" r="2.30" fill="#40E0F2"/>
<circle cx="1629.4" cy="636.6" r="9.00" fill="#7AB4F5"/>
<circle cx="1673.2" cy="636.6" r="8.30" fill="#7AB4F5"/>
<circle cx="1717.1" cy="636.6" r="13.80" fill="#8F8EF5"/>
<circle cx="1761" cy="636.6" r="2.30" fill="#52D4F3"/>
<circle cx="1804.8" cy="636.6" r="2.30" fill="#52D4F3"/>
<circle cx="1848.7" cy="636.6" r="2.30" fill="#52D4F3"/>
<circle cx="1892.6" cy="636.6" r="2.30" fill="#52D4F3"/>
<line x1="1114.2" y1="636.6" x2="1121.5" y2="636.6" stroke="#000" stroke-width="2"/>
<text x="1106.6" y="645.6" font-size="24" text-anchor="end">14</text>
<circle cx="1146.8" cy="685.5" r="2.00" fill="#64C8F4"/>
<circle cx="1190.7" cy="685.5" r="3.00" fill="#40E0F2"/>
<circle cx="1234.5" cy="685.5" r="5.20" fill="#6BC1F4"/>
<circle cx="1278.4" cy="685.5" r="2.00" fill="#52D4F3"/>
<circle cx="1322.3" cy="685.5" r="9.40" fill="#A406F2"/>
<circle cx="1366.1" cy="685.5" r="3.00" fill="#40E0F2"/>
<circle cx="1410" cy="685.5" r="11.00" fill="#8C98F5"/>
<circle cx="1453.9" cy="685.5" r="7.10" fill="#996FF5"/>
<circle cx="1497.8" cy="685.5" r="8.00" fill="#5BCEF4"/>
<circle cx="1541.6" cy="685.5" r="7.10" fill="#5BCEF4"/>
<circle cx="1585.5" cy="685.5" r="2.30" fill="#40E0F2"/>
<circle cx="1629.4" cy="685.5" r="8.50" fill="#52D4F3"/>
<circle cx="1673.2" cy="685.5" r="8.80" fill="#7AB4F5"/>
<circle cx="1717.1" cy="685.5" r="13.30" fill="#8C98F5"/>
<circle cx="1761" cy="685.5" r="2.30" fill="#52D4F3"/>
<circle cx="1804.8" cy="685.5" r="2.30" fill="#52D4F3"/>
<circle cx="1848.7" cy="685.5" r="2.30" fill="#52D4F3"/>
<circle cx="1892.6" cy="685.5" r="2.30" fill="#52D4F3"/>
<line x1="1114.2" y1="685.5" x2="1121.5" y2="685.5" stroke="#000" stroke-width="2"/>
<text x="1106.6" y="694.5" font-size="24" text-anchor="end">13</text>
<circle cx="1146.8" cy="734.4" r="2.00" fill="#64C8F4"/>
<circle cx="1190.7" cy="734.4" r="3.00" fill="#40E0F2"/>
<circle cx="1234.5" cy="734.4" r="13.10" fill="#A406F2"/>
<circle cx="1278.4" cy="734.4" r="2.20" fill="#86A1F5"/>
<circle cx="1322.3" cy="734.4" r="2.50" fill="#40E0F2"/>
<circle cx="1366.1" cy="734.4" r="2.50" fill="#40E0F2"/>
<circle cx="1410" cy="734.4" r="2.50" fill="#40E0F2"/>
<circle cx="1453.9" cy="734.4" r="3.50" fill="#40E0F2"/>
<circle cx="1497.8" cy="734.4" r="13.80" fill="#A058F4"/>
<circle cx="1541.6" cy="734.4" r="12.90" fill="#9D63F4"/>
<circle cx="1585.5" cy="734.4" r="13.60" fill="#A243F4"/>
<circle cx="1629.4" cy="734.4" r="3.00" fill="#40E0F2"/>
<circle cx="1673.2" cy="734.4" r="3.00" fill="#40E0F2"/>
<circle cx="1717.1" cy="734.4" r="4.60" fill="#40E0F2"/>
<circle cx="1761" cy="734.4" r="2.30" fill="#52D4F3"/>
<circle cx="1804.8" cy="734.4" r="2.30" fill="#52D4F3"/>
<circle cx="1848.7" cy="734.4" r="2.30" fill="#52D4F3"/>
<circle cx="1892.6" cy="734.4" r="2.30" fill="#52D4F3"/>
<line x1="1114.2" y1="734.4" x2="1121.5" y2="734.4" stroke="#000" stroke-width="2"/>
<text x="1106.6" y="743.4" font-size="24" text-anchor="end">11</text>
<circle cx="1146.8" cy="783.2" r="2.00" fill="#64C8F4"/>
<circle cx="1190.7" cy="783.2" r="13.80" fill="#9D63F4"/>
<circle cx="1234.5" cy="783.2" r="3.80" fill="#64C8F4"/>
<circle cx="1278.4" cy="783.2" r="2.00" fill="#52D4F3"/>
<circle cx="1322.3" cy="783.2" r="4.40" fill="#86A1F5"/>
<circle cx="1366.1" cy="783.2" r="2.80" fill="#40E0F2"/>
<circle cx="1410" cy="783.2" r="5.20" fill="#40E0F2"/>
<circle cx="1453.9" cy="783.2" r="7.60" fill="#A406F2"/>
<circle cx="1497.8" cy="783.2" r="3.00" fill="#40E0F2"/>
<circle cx="1541.6" cy="783.2" r="3.00" fill="#40E0F2"/>
<circle cx="1585.5" cy="783.2" r="2.50" fill="#40E0F2"/>
<circle cx="1629.4" cy="783.2" r="13.80" fill="#996FF5"/>
<circle cx="1673.2" cy="783.2" r="14.00" fill="#A406F2"/>
<circle cx="1717.1" cy="783.2" r="14.50" fill="#A406F2"/>
<circle cx="1761" cy="783.2" r="2.30" fill="#52D4F3"/>
<circle cx="1804.8" cy="783.2" r="2.30" fill="#52D4F3"/>
<circle cx="1848.7" cy="783.2" r="2.30" fill="#52D4F3"/>
<circle cx="1892.6" cy="783.2" r="2.30" fill="#52D4F3"/>
<line x1="1114.2" y1="783.2" x2="1121.5" y2="783.2" stroke="#000" stroke-width="2"/>
<text x="1106.6" y="792.2" font-size="24" text-anchor="end">9</text>
<circle cx="1146.8" cy="832.1" r="2.00" fill="#64C8F4"/>
<circle cx="1190.7" cy="832.1" r="12.00" fill="#996FF5"/>
<circle cx="1234.5" cy="832.1" r="3.20" fill="#6BC1F4"/>
<circle cx="1278.4" cy="832.1" r="2.00" fill="#52D4F3"/>
<circle cx="1322.3" cy="832.1" r="3.20" fill="#80ABF5"/>
<circle cx="1366.1" cy="832.1" r="2.80" fill="#40E0F2"/>
<circle cx="1410" cy="832.1" r="4.80" fill="#40E0F2"/>
<circle cx="1453.9" cy="832.1" r="4.40" fill="#8F8EF5"/>
<circle cx="1497.8" cy="832.1" r="2.80" fill="#40E0F2"/>
<circle cx="1541.6" cy="832.1" r="3.00" fill="#40E0F2"/>
<circle cx="1585.5" cy="832.1" r="2.50" fill="#40E0F2"/>
<circle cx="1629.4" cy="832.1" r="12.40" fill="#A058F4"/>
<circle cx="1673.2" cy="832.1" r="9.40" fill="#8F8EF5"/>
<circle cx="1717.1" cy="832.1" r="14.00" fill="#7AB4F5"/>
<circle cx="1761" cy="832.1" r="2.30" fill="#52D4F3"/>
<circle cx="1804.8" cy="832.1" r="2.30" fill="#52D4F3"/>
<circle cx="1848.7" cy="832.1" r="2.30" fill="#52D4F3"/>
<circle cx="1892.6" cy="832.1" r="2.30" fill="#52D4F3"/>
<line x1="1114.2" y1="832.1" x2="1121.5" y2="832.1" stroke="#000" stroke-width="2"/>
<text x="1106.6" y="841.1" font-size="24" text-anchor="end">5</text>
<circle cx="1146.8" cy="881" r="2.00" fill="#64C8F4"/>
<circle cx="1190.7" cy="881" r="13.80" fill="#8C98F5"/>
<circle cx="1234.5" cy="881" r="4.80" fill="#64C8F4"/>
<circle cx="1278.4" cy="881" r="2.20" fill="#7AB4F5"/>
<circle cx="1322.3" cy="881" r="5.00" fill="#86A1F5"/>
<circle cx="1366.1" cy="881" r="9.40" fill="#8F8EF5"/>
<circle cx="1410" cy="881" r="10.40" fill="#80ABF5"/>
<circle cx="1453.9" cy="881" r="7.10" fill="#9384F5"/>
<circle cx="1497.8" cy="881" r="3.00" fill="#40E0F2"/>
<circle cx="1541.6" cy="881" r="3.50" fill="#40E0F2"/>
<circle cx="1585.5" cy="881" r="2.50" fill="#40E0F2"/>
<circle cx="1629.4" cy="881" r="13.80" fill="#8C98F5"/>
<circle cx="1673.2" cy="881" r="12.90" fill="#9384F5"/>
<circle cx="1717.1" cy="881" r="13.80" fill="#8C98F5"/>
<circle cx="1761" cy="881" r="2.30" fill="#52D4F3"/>
<circle cx="1804.8" cy="881" r="2.30" fill="#52D4F3"/>
<circle cx="1848.7" cy="881" r="2.30" fill="#52D4F3"/>
<circle cx="1892.6" cy="881" r="2.30" fill="#52D4F3"/>
<line x1="1114.2" y1="881" x2="1121.5" y2="881" stroke="#000" stroke-width="2"/>
<text x="1106.6" y="890" font-size="24" text-anchor="end">12</text>
<circle cx="1146.8" cy="929.9" r="2.00" fill="#6BC1F4"/>
<circle cx="1190.7" cy="929.9" r="2.80" fill="#40E0F2"/>
<circle cx="1234.5" cy="929.9" r="4.10" fill="#5BCEF4"/>
<circle cx="1278.4" cy="929.9" r="2.20" fill="#64C8F4"/>
<circle cx="1322.3" cy="929.9" r="7.60" fill="#9D63F4"/>
<circle cx="1366.1" cy="929.9" r="8.30" fill="#80ABF5"/>
<circle cx="1410" cy="929.9" r="8.80" fill="#64C8F4"/>
<circle cx="1453.9" cy="929.9" r="2.50" fill="#40E0F2"/>
<circle cx="1497.8" cy="929.9" r="3.70" fill="#40E0F2"/>
<circle cx="1541.6" cy="929.9" r="3.50" fill="#40E0F2"/>
<circle cx="1585.5" cy="929.9" r="2.30" fill="#40E0F2"/>
<circle cx="1629.4" cy="929.9" r="3.00" fill="#40E0F2"/>
<circle cx="1673.2" cy="929.9" r="3.00" fill="#40E0F2"/>
<circle cx="1717.1" cy="929.9" r="3.00" fill="#40E0F2"/>
<circle cx="1761" cy="929.9" r="2.30" fill="#52D4F3"/>
<circle cx="1804.8" cy="929.9" r="2.30" fill="#52D4F3"/>
<circle cx="1848.7" cy="929.9" r="2.30" fill="#52D4F3"/>
<circle cx="1892.6" cy="929.9" r="2.30" fill="#52D4F3"/>
<line x1="1114.2" y1="929.9" x2="1121.5" y2="929.9" stroke="#000" stroke-width="2"/>
<text x="1106.6" y="938.9" font-size="24" text-anchor="end">4</text>
<circle cx="1146.8" cy="978.8" r="2.00" fill="#64C8F4"/>
<circle cx="1190.7" cy="978.8" r="3.20" fill="#40E0F2"/>
<circle cx="1234.5" cy="978.8" r="3.20" fill="#5BCEF4"/>
<circle cx="1278.4" cy="978.8" r="2.20" fill="#64C8F4"/>
<circle cx="1322.3" cy="978.8" r="3.70" fill="#86A1F5"/>
<circle cx="1366.1" cy="978.8" r="9.00" fill="#9384F5"/>
<circle cx="1410" cy="978.8" r="9.90" fill="#8F8EF5"/>
<circle cx="1453.9" cy="978.8" r="2.50" fill="#40E0F2"/>
<circle cx="1497.8" cy="978.8" r="3.00" fill="#40E0F2"/>
<circle cx="1541.6" cy="978.8" r="3.20" fill="#40E0F2"/>
<circle cx="1585.5" cy="978.8" r="2.30" fill="#40E0F2"/>
<circle cx="1629.4" cy="978.8" r="2.80" fill="#40E0F2"/>
<circle cx="1673.2" cy="978.8" r="3.20" fill="#40E0F2"/>
<circle cx="1717.1" cy="978.8" r="6.50" fill="#40E0F2"/>
<circle cx="1761" cy="978.8" r="2.30" fill="#52D4F3"/>
<circle cx="1804.8" cy="978.8" r="2.30" fill="#52D4F3"/>
<circle cx="1848.7" cy="978.8" r="2.30" fill="#52D4F3"/>
<circle cx="1892.6" cy="978.8" r="2.30" fill="#52D4F3"/>
<line x1="1114.2" y1="978.8" x2="1121.5" y2="978.8" stroke="#000" stroke-width="2"/>
<text x="1106.6" y="987.8" font-size="24" text-anchor="end">2</text>
<circle cx="1146.8" cy="1027.7" r="2.00" fill="#64C8F4"/>
<circle cx="1190.7" cy="1027.7" r="3.00" fill="#40E0F2"/>
<circle cx="1234.5" cy="1027.7" r="3.20" fill="#40E0F2"/>
<circle cx="1278.4" cy="1027.7" r="2.20" fill="#64C8F4"/>
<circle cx="1322.3" cy="1027.7" r="2.50" fill="#40E0F2"/>
<circle cx="1366.1" cy="1027.7" r="12.20" fill="#967AF5"/>
<circle cx="1410" cy="1027.7" r="11.30" fill="#86A1F5"/>
<circle cx="1453.9" cy="1027.7" r="3.00" fill="#40E0F2"/>
<circle cx="1497.8" cy="1027.7" r="2.80" fill="#40E0F2"/>
<circle cx="1541.6" cy="1027.7" r="2.80" fill="#40E0F2"/>
<circle cx="1585.5" cy="1027.7" r="2.30" fill="#40E0F2"/>
<circle cx="1629.4" cy="1027.7" r="2.80" fill="#40E0F2"/>
<circle cx="1673.2" cy="1027.7" r="2.80" fill="#40E0F2"/>
<circle cx="1717.1" cy="1027.7" r="3.50" fill="#40E0F2"/>
<circle cx="1761" cy="1027.7" r="2.30" fill="#52D4F3"/>
<circle cx="1804.8" cy="1027.7" r="2.30" fill="#52D4F3"/>
<circle cx="1848.7" cy="1027.7" r="2.30" fill="#52D4F3"/>
<circle cx="1892.6" cy="1027.7" r="2.30" fill="#52D4F3"/>
<line x1="1114.2" y1="1027.7" x2="1121.5" y2="1027.7" stroke="#000" stroke-width="2"/>
<text x="1106.6" y="1036.7" font-size="24" text-anchor="end">1</text>
<circle cx="1146.8" cy="1076.6" r="2.00" fill="#64C8F4"/>
<circle cx="1190.7" cy="1076.6" r="5.10" fill="#40E0F2"/>
<circle cx="1234.5" cy="1076.6" r="3.20" fill="#5BCEF4"/>
<circle cx="1278.4" cy="1076.6" r="2.00" fill="#52D4F3"/>
<circle cx="1322.3" cy="1076.6" r="3.00" fill="#40E0F2"/>
<circle cx="1366.1" cy="1076.6" r="2.80" fill="#40E0F2"/>
<circle cx="1410" cy="1076.6" r="15.00" fill="#A421F3"/>
<circle cx="1453.9" cy="1076.6" r="3.00" fill="#40E0F2"/>
<circle cx="1497.8" cy="1076.6" r="3.00" fill="#40E0F2"/>
<circle cx="1541.6" cy="1076.6" r="3.20" fill="#40E0F2"/>
<circle cx="1585.5" cy="1076.6" r="2.30" fill="#40E0F2"/>
<circle cx="1629.4" cy="1076.6" r="14.00" fill="#A421F3"/>
<circle cx="1673.2" cy="1076.6" r="3.20" fill="#40E0F2"/>
<circle cx="1717.1" cy="1076.6" r="3.00" fill="#40E0F2"/>
<circle cx="1761" cy="1076.6" r="2.30" fill="#52D4F3"/>
<circle cx="1804.8" cy="1076.6" r="2.80" fill="#52D4F3"/>
<circle cx="1848.7" cy="1076.6" r="2.30" fill="#52D4F3"/>
<circle cx="1892.6" cy="1076.6" r="2.30" fill="#52D4F3"/>
<line x1="1114.2" y1="1076.6" x2="1121.5" y2="1076.6" stroke="#000" stroke-width="2"/>
<text x="1106.6" y="1085.6" font-size="24" text-anchor="end">18</text>
<circle cx="1146.8" cy="1125.5" r="2.00" fill="#64C8F4"/>
<circle cx="1190.7" cy="1125.5" r="4.10" fill="#40E0F2"/>
<circle cx="1234.5" cy="1125.5" r="4.60" fill="#5BCEF4"/>
<circle cx="1278.4" cy="1125.5" r="2.00" fill="#52D4F3"/>
<circle cx="1322.3" cy="1125.5" r="3.00" fill="#5BCEF4"/>
<circle cx="1366.1" cy="1125.5" r="3.00" fill="#40E0F2"/>
<circle cx="1410" cy="1125.5" r="3.20" fill="#40E0F2"/>
<circle cx="1453.9" cy="1125.5" r="3.50" fill="#5BCEF4"/>
<circle cx="1497.8" cy="1125.5" r="3.20" fill="#40E0F2"/>
<circle cx="1541.6" cy="1125.5" r="2.50" fill="#40E0F2"/>
<circle cx="1585.5" cy="1125.5" r="6.00" fill="#73BBF5"/>
<circle cx="1629.4" cy="1125.5" r="4.40" fill="#40E0F2"/>
<circle cx="1673.2" cy="1125.5" r="4.20" fill="#40E0F2"/>
<circle cx="1717.1" cy="1125.5" r="4.60" fill="#40E0F2"/>
<circle cx="1761" cy="1125.5" r="2.30" fill="#52D4F3"/>
<circle cx="1804.8" cy="1125.5" r="9.70" fill="#8F8EF5"/>
<circle cx="1848.7" cy="1125.5" r="2.30" fill="#52D4F3"/>
<circle cx="1892.6" cy="1125.5" r="2.80" fill="#52D4F3"/>
<line x1="1114.2" y1="1125.5" x2="1121.5" y2="1125.5" stroke="#000" stroke-width="2"/>
<text x="1106.6" y="1134.5" font-size="24" text-anchor="end">17</text>
<circle cx="1146.8" cy="1174.4" r="2.00" fill="#64C8F4"/>
<circle cx="1190.7" cy="1174.4" r="5.30" fill="#40E0F2"/>
<circle cx="1234.5" cy="1174.4" r="4.80" fill="#5BCEF4"/>
<circle cx="1278.4" cy="1174.4" r="3.50" fill="#A41AF3"/>
<circle cx="1322.3" cy="1174.4" r="2.80" fill="#40E0F2"/>
<circle cx="1366.1" cy="1174.4" r="6.70" fill="#A42DF4"/>
<circle cx="1410" cy="1174.4" r="5.10" fill="#40E0F2"/>
<circle cx="1453.9" cy="1174.4" r="3.00" fill="#40E0F2"/>
<circle cx="1497.8" cy="1174.4" r="12.70" fill="#A243F4"/>
<circle cx="1541.6" cy="1174.4" r="12.90" fill="#A421F3"/>
<circle cx="1585.5" cy="1174.4" r="6.00" fill="#73BBF5"/>
<circle cx="1629.4" cy="1174.4" r="5.50" fill="#40E0F2"/>
<circle cx="1673.2" cy="1174.4" r="5.20" fill="#40E0F2"/>
<circle cx="1717.1" cy="1174.4" r="5.50" fill="#40E0F2"/>
<circle cx="1761" cy="1174.4" r="2.30" fill="#52D4F3"/>
<circle cx="1804.8" cy="1174.4" r="7.40" fill="#8C98F5"/>
<circle cx="1848.7" cy="1174.4" r="2.30" fill="#52D4F3"/>
<circle cx="1892.6" cy="1174.4" r="3.00" fill="#52D4F3"/>
<line x1="1114.2" y1="1174.4" x2="1121.5" y2="1174.4" stroke="#000" stroke-width="2"/>
<text x="1106.6" y="1183.4" font-size="24" text-anchor="end">8</text>
<circle cx="1146.8" cy="1223.3" r="2.20" fill="#73BBF5"/>
<circle cx="1190.7" cy="1223.3" r="7.80" fill="#52D4F3"/>
<circle cx="1234.5" cy="1223.3" r="2.20" fill="#40E0F2"/>
<circle cx="1278.4" cy="1223.3" r="2.50" fill="#7AB4F5"/>
<circle cx="1322.3" cy="1223.3" r="2.20" fill="#40E0F2"/>
<circle cx="1366.1" cy="1223.3" r="4.80" fill="#40E0F2"/>
<circle cx="1410" cy="1223.3" r="7.80" fill="#52D4F3"/>
<circle cx="1453.9" cy="1223.3" r="3.80" fill="#40E0F2"/>
<circle cx="1497.8" cy="1223.3" r="12.70" fill="#80ABF5"/>
<circle cx="1541.6" cy="1223.3" r="10.10" fill="#86A1F5"/>
<circle cx="1585.5" cy="1223.3" r="4.40" fill="#5BCEF4"/>
<circle cx="1629.4" cy="1223.3" r="7.40" fill="#40E0F2"/>
<circle cx="1673.2" cy="1223.3" r="7.40" fill="#52D4F3"/>
<circle cx="1717.1" cy="1223.3" r="8.30" fill="#52D4F3"/>
<circle cx="1761" cy="1223.3" r="3.00" fill="#52D4F3"/>
<circle cx="1804.8" cy="1223.3" r="3.00" fill="#52D4F3"/>
<circle cx="1848.7" cy="1223.3" r="2.30" fill="#52D4F3"/>
<circle cx="1892.6" cy="1223.3" r="3.00" fill="#52D4F3"/>
<line x1="1114.2" y1="1223.3" x2="1121.5" y2="1223.3" stroke="#000" stroke-width="2"/>
<text x="1106.6" y="1232.3" font-size="24" text-anchor="end">19</text>
<circle cx="1146.8" cy="1272.2" r="2.00" fill="#64C8F4"/>
<circle cx="1190.7" cy="1272.2" r="5.10" fill="#40E0F2"/>
<circle cx="1234.5" cy="1272.2" r="2.20" fill="#40E0F2"/>
<circle cx="1278.4" cy="1272.2" r="2.50" fill="#7AB4F5"/>
<circle cx="1322.3" cy="1272.2" r="2.50" fill="#40E0F2"/>
<circle cx="1366.1" cy="1272.2" r="3.70" fill="#40E0F2"/>
<circle cx="1410" cy="1272.2" r="4.60" fill="#40E0F2"/>
<circle cx="1453.9" cy="1272.2" r="3.30" fill="#40E0F2"/>
<circle cx="1497.8" cy="1272.2" r="4.40" fill="#40E0F2"/>
<circle cx="1541.6" cy="1272.2" r="4.10" fill="#40E0F2"/>
<circle cx="1585.5" cy="1272.2" r="4.60" fill="#52D4F3"/>
<circle cx="1629.4" cy="1272.2" r="5.00" fill="#40E0F2"/>
<circle cx="1673.2" cy="1272.2" r="5.00" fill="#49DAF2"/>
<circle cx="1717.1" cy="1272.2" r="5.30" fill="#40E0F2"/>
<circle cx="1761" cy="1272.2" r="2.30" fill="#52D4F3"/>
<circle cx="1804.8" cy="1272.2" r="2.30" fill="#52D4F3"/>
<circle cx="1848.7" cy="1272.2" r="2.30" fill="#52D4F3"/>
<circle cx="1892.6" cy="1272.2" r="2.30" fill="#52D4F3"/>
<line x1="1114.2" y1="1272.2" x2="1121.5" y2="1272.2" stroke="#000" stroke-width="2"/>
<text x="1106.6" y="1281.2" font-size="24" text-anchor="end">15</text>
<circle cx="1146.8" cy="1321" r="2.00" fill="#64C8F4"/>
<circle cx="1190.7" cy="1321" r="6.20" fill="#40E0F2"/>
<circle cx="1234.5" cy="1321" r="3.20" fill="#40E0F2"/>
<circle cx="1278.4" cy="1321" r="2.20" fill="#64C8F4"/>
<circle cx="1322.3" cy="1321" r="2.50" fill="#40E0F2"/>
<circle cx="1366.1" cy="1321" r="4.60" fill="#40E0F2"/>
<circle cx="1410" cy="1321" r="8.30" fill="#73BBF5"/>
<circle cx="1453.9" cy="1321" r="3.30" fill="#40E0F2"/>
<circle cx="1497.8" cy="1321" r="7.10" fill="#6BC1F4"/>
<circle cx="1541.6" cy="1321" r="7.00" fill="#64C8F4"/>
<circle cx="1585.5" cy="1321" r="7.60" fill="#80ABF5"/>
<circle cx="1629.4" cy="1321" r="6.00" fill="#40E0F2"/>
<circle cx="1673.2" cy="1321" r="6.00" fill="#40E0F2"/>
<circle cx="1717.1" cy="1321" r="6.20" fill="#40E0F2"/>
<circle cx="1761" cy="1321" r="2.80" fill="#52D4F3"/>
<circle cx="1804.8" cy="1321" r="3.30" fill="#5BCEF4"/>
<circle cx="1848.7" cy="1321" r="2.50" fill="#52D4F3"/>
<circle cx="1892.6" cy="1321" r="3.00" fill="#52D4F3"/>
<line x1="1114.2" y1="1321" x2="1121.5" y2="1321" stroke="#000" stroke-width="2"/>
<text x="1106.6" y="1330" font-size="24" text-anchor="end">10</text>
<circle cx="1146.8" cy="1369.9" r="2.00" fill="#64C8F4"/>
<circle cx="1190.7" cy="1369.9" r="4.40" fill="#40E0F2"/>
<circle cx="1234.5" cy="1369.9" r="3.00" fill="#40E0F2"/>
<circle cx="1278.4" cy="1369.9" r="2.30" fill="#64C8F4"/>
<circle cx="1322.3" cy="1369.9" r="2.50" fill="#40E0F2"/>
<circle cx="1366.1" cy="1369.9" r="4.10" fill="#40E0F2"/>
<circle cx="1410" cy="1369.9" r="10.10" fill="#8C98F5"/>
<circle cx="1453.9" cy="1369.9" r="3.00" fill="#40E0F2"/>
<circle cx="1497.8" cy="1369.9" r="4.10" fill="#40E0F2"/>
<circle cx="1541.6" cy="1369.9" r="4.40" fill="#40E0F2"/>
<circle cx="1585.5" cy="1369.9" r="6.50" fill="#80ABF5"/>
<circle cx="1629.4" cy="1369.9" r="4.10" fill="#40E0F2"/>
<circle cx="1673.2" cy="1369.9" r="4.10" fill="#40E0F2"/>
<circle cx="1717.1" cy="1369.9" r="5.30" fill="#40E0F2"/>
<circle cx="1761" cy="1369.9" r="2.80" fill="#52D4F3"/>
<circle cx="1804.8" cy="1369.9" r="2.80" fill="#52D4F3"/>
<circle cx="1848.7" cy="1369.9" r="2.50" fill="#52D4F3"/>
<circle cx="1892.6" cy="1369.9" r="2.80" fill="#52D4F3"/>
<line x1="1114.2" y1="1369.9" x2="1121.5" y2="1369.9" stroke="#000" stroke-width="2"/>
<text x="1106.6" y="1378.9" font-size="24" text-anchor="end">7</text>
<circle cx="1146.8" cy="1418.8" r="2.00" fill="#64C8F4"/>
<circle cx="1190.7" cy="1418.8" r="12.00" fill="#967AF5"/>
<circle cx="1234.5" cy="1418.8" r="3.20" fill="#40E0F2"/>
<circle cx="1278.4" cy="1418.8" r="2.20" fill="#64C8F4"/>
<circle cx="1322.3" cy="1418.8" r="4.60" fill="#7AB4F5"/>
<circle cx="1366.1" cy="1418.8" r="3.80" fill="#40E0F2"/>
<circle cx="1410" cy="1418.8" r="5.30" fill="#40E0F2"/>
<circle cx="1453.9" cy="1418.8" r="9.20" fill="#A243F4"/>
<circle cx="1497.8" cy="1418.8" r="3.80" fill="#40E0F2"/>
<circle cx="1541.6" cy="1418.8" r="4.10" fill="#40E0F2"/>
<circle cx="1585.5" cy="1418.8" r="3.00" fill="#40E0F2"/>
<circle cx="1629.4" cy="1418.8" r="7.60" fill="#52D4F3"/>
<circle cx="1673.2" cy="1418.8" r="9.50" fill="#7AB4F5"/>
<circle cx="1717.1" cy="1418.8" r="14.50" fill="#A42DF4"/>
<circle cx="1761" cy="1418.8" r="2.80" fill="#52D4F3"/>
<circle cx="1804.8" cy="1418.8" r="3.20" fill="#52D4F3"/>
<circle cx="1848.7" cy="1418.8" r="2.80" fill="#52D4F3"/>
<circle cx="1892.6" cy="1418.8" r="3.00" fill="#52D4F3"/>
<line x1="1114.2" y1="1418.8" x2="1121.5" y2="1418.8" stroke="#000" stroke-width="2"/>
<text x="1106.6" y="1427.8" font-size="24" text-anchor="end">6</text>
<circle cx="1146.8" cy="1467.7" r="2.00" fill="#64C8F4"/>
<circle cx="1190.7" cy="1467.7" r="7.60" fill="#5BCEF4"/>
<circle cx="1234.5" cy="1467.7" r="3.20" fill="#40E0F2"/>
<circle cx="1278.4" cy="1467.7" r="2.20" fill="#64C8F4"/>
<circle cx="1322.3" cy="1467.7" r="3.20" fill="#40E0F2"/>
<circle cx="1366.1" cy="1467.7" r="4.60" fill="#40E0F2"/>
<circle cx="1410" cy="1467.7" r="5.30" fill="#40E0F2"/>
<circle cx="1453.9" cy="1467.7" r="4.10" fill="#40E0F2"/>
<circle cx="1497.8" cy="1467.7" r="10.60" fill="#9384F5"/>
<circle cx="1541.6" cy="1467.7" r="9.50" fill="#8C98F5"/>
<circle cx="1585.5" cy="1467.7" r="4.60" fill="#5BCEF4"/>
<circle cx="1629.4" cy="1467.7" r="7.10" fill="#52D4F3"/>
<circle cx="1673.2" cy="1467.7" r="7.40" fill="#5BCEF4"/>
<circle cx="1717.1" cy="1467.7" r="8.50" fill="#5BCEF4"/>
<circle cx="1761" cy="1467.7" r="2.80" fill="#52D4F3"/>
<circle cx="1804.8" cy="1467.7" r="3.20" fill="#52D4F3"/>
<circle cx="1848.7" cy="1467.7" r="2.80" fill="#52D4F3"/>
<circle cx="1892.6" cy="1467.7" r="3.00" fill="#52D4F3"/>
<line x1="1114.2" y1="1467.7" x2="1121.5" y2="1467.7" stroke="#000" stroke-width="2"/>
<text x="1106.6" y="1476.7" font-size="24" text-anchor="end">0</text>
<line x1="1121.5" y1="508.5" x2="1121.5" y2="1498.6" stroke="#000" stroke-width="2.2"/>
<line x1="1120.5" y1="1497.6" x2="1921" y2="1497.6" stroke="#000" stroke-width="2.2"/>
<line x1="1146.8" y1="1497.6" x2="1146.8" y2="1504.6" stroke="#000" stroke-width="2"/>
<text transform="translate(1165.6 1572) rotate(-90)" font-size="24" text-anchor="middle" font-style="italic">Eomes</text>
<line x1="1190.7" y1="1497.6" x2="1190.7" y2="1504.6" stroke="#000" stroke-width="2"/>
<text transform="translate(1209.5 1572) rotate(-90)" font-size="24" text-anchor="middle" font-style="italic">Cd8a</text>
<line x1="1234.5" y1="1497.6" x2="1234.5" y2="1504.6" stroke="#000" stroke-width="2"/>
<text transform="translate(1253.3 1572) rotate(-90)" font-size="24" text-anchor="middle" font-style="italic">Tnfrsf18</text>
<line x1="1278.4" y1="1497.6" x2="1278.4" y2="1504.6" stroke="#000" stroke-width="2"/>
<text transform="translate(1297.2 1572) rotate(-90)" font-size="24" text-anchor="middle" font-style="italic">Tnfrsf4</text>
<line x1="1322.3" y1="1497.6" x2="1322.3" y2="1504.6" stroke="#000" stroke-width="2"/>
<text transform="translate(1341.1 1572) rotate(-90)" font-size="24" text-anchor="middle" font-style="italic">Ctla4</text>
<line x1="1366.1" y1="1497.6" x2="1366.1" y2="1504.6" stroke="#000" stroke-width="2"/>
<text transform="translate(1384.9 1572) rotate(-90)" font-size="24" text-anchor="middle" font-style="italic">Ccr7</text>
<line x1="1410" y1="1497.6" x2="1410" y2="1504.6" stroke="#000" stroke-width="2"/>
<text transform="translate(1428.8 1572) rotate(-90)" font-size="24" text-anchor="middle" font-style="italic">Sell</text>
<line x1="1453.9" y1="1497.6" x2="1453.9" y2="1504.6" stroke="#000" stroke-width="2"/>
<text transform="translate(1472.7 1572) rotate(-90)" font-size="24" text-anchor="middle" font-style="italic">Lef1</text>
<line x1="1497.8" y1="1497.6" x2="1497.8" y2="1504.6" stroke="#000" stroke-width="2"/>
<text transform="translate(1516.6 1572) rotate(-90)" font-size="24" text-anchor="middle" font-style="italic">Tmem176b</text>
<line x1="1541.6" y1="1497.6" x2="1541.6" y2="1504.6" stroke="#000" stroke-width="2"/>
<text transform="translate(1560.4 1572) rotate(-90)" font-size="24" text-anchor="middle" font-style="italic">Tmem176a</text>
<line x1="1585.5" y1="1497.6" x2="1585.5" y2="1504.6" stroke="#000" stroke-width="2"/>
<text transform="translate(1604.3 1572) rotate(-90)" font-size="24" text-anchor="middle" font-style="italic">Ltb4r1</text>
<line x1="1629.4" y1="1497.6" x2="1629.4" y2="1504.6" stroke="#000" stroke-width="2"/>
<text transform="translate(1648.2 1572) rotate(-90)" font-size="24" text-anchor="middle" font-style="italic">Ccr9</text>
<line x1="1673.2" y1="1497.6" x2="1673.2" y2="1504.6" stroke="#000" stroke-width="2"/>
<text transform="translate(1692 1572) rotate(-90)" font-size="24" text-anchor="middle" font-style="italic">Rag1</text>
<line x1="1717.1" y1="1497.6" x2="1717.1" y2="1504.6" stroke="#000" stroke-width="2"/>
<text transform="translate(1735.9 1572) rotate(-90)" font-size="24" text-anchor="middle" font-style="italic">Tcf7</text>
<line x1="1761" y1="1497.6" x2="1761" y2="1504.6" stroke="#000" stroke-width="2"/>
<text transform="translate(1779.8 1572) rotate(-90)" font-size="24" text-anchor="middle" font-style="italic">Gzmb</text>
<line x1="1804.8" y1="1497.6" x2="1804.8" y2="1504.6" stroke="#000" stroke-width="2"/>
<text transform="translate(1823.6 1572) rotate(-90)" font-size="24" text-anchor="middle" font-style="italic">Klrk1</text>
<line x1="1848.7" y1="1497.6" x2="1848.7" y2="1504.6" stroke="#000" stroke-width="2"/>
<text transform="translate(1867.5 1572) rotate(-90)" font-size="24" text-anchor="middle" font-style="italic">Klra7</text>
<line x1="1892.6" y1="1497.6" x2="1892.6" y2="1504.6" stroke="#000" stroke-width="2"/>
<text transform="translate(1911.4 1572) rotate(-90)" font-size="24" text-anchor="middle" font-style="italic">Klre1</text>
<text transform="translate(1061.5 544.3) rotate(-90)" font-size="28" text-anchor="middle">NK</text>
<line x1="1068.9" y1="523" x2="1068.9" y2="561.7" stroke="#E0382B" stroke-width="2.2"/>
<text transform="translate(1061.5 724.7) rotate(-90)" font-size="28" text-anchor="middle">T Cells</text>
<line x1="1068.9" y1="574.6" x2="1068.9" y2="853" stroke="#2A8BE0" stroke-width="2.2"/>
<text transform="translate(1061.5 955.7) rotate(-90)" font-size="28" text-anchor="middle">B Cells</text>
<line x1="1068.9" y1="872.8" x2="1068.9" y2="1046.9" stroke="#2EE0E8" stroke-width="2.2"/>
<text transform="translate(1061.5 1257) rotate(-90)" font-size="28" text-anchor="middle">Myeloid</text>
<line x1="1068.9" y1="1066" x2="1068.9" y2="1487.4" stroke="#9A3CC8" stroke-width="2.2"/>
<text x="1960.8" y="494" font-size="28.6">Average</text>
<text x="1959.5" y="522.9" font-size="29.3">Expression</text>
<defs><linearGradient id="cbar" x1="0" y1="1" x2="0" y2="0"><stop offset="0" stop-color="#30F6F6"/><stop offset="0.3" stop-color="#6CC6F6"/><stop offset="0.55" stop-color="#8C8EF4"/><stop offset="0.8" stop-color="#9A5CF2"/><stop offset="1" stop-color="#A018F0"/></linearGradient></defs>
<rect x="1966.5" y="530.6" width="31.2" height="158.5" fill="url(#cbar)" />
<line x1="1966.5" y1="553" x2="1972.5" y2="553" stroke="#fff" stroke-width="1.2"/>
<line x1="1991.7" y1="553" x2="1997.7" y2="553" stroke="#fff" stroke-width="1.2"/>
<text x="2011" y="561.8" font-size="25">2</text>
<line x1="1966.5" y1="598.3" x2="1972.5" y2="598.3" stroke="#fff" stroke-width="1.2"/>
<line x1="1991.7" y1="598.3" x2="1997.7" y2="598.3" stroke="#fff" stroke-width="1.2"/>
<text x="2011" y="607.1" font-size="25">1</text>
<line x1="1966.5" y1="643.8" x2="1972.5" y2="643.8" stroke="#fff" stroke-width="1.2"/>
<line x1="1991.7" y1="643.8" x2="1997.7" y2="643.8" stroke="#fff" stroke-width="1.2"/>
<text x="2011" y="652.6" font-size="25">0</text>
<text x="1960" y="756.9" font-size="28.5">Percent</text>
<text x="1960" y="785.5" font-size="28.5">Expressed</text>
<circle cx="1975" cy="810" r="1.20" fill="#000"/>
<text x="2006.5" y="818.8" font-size="25">0</text>
<circle cx="1975" cy="842" r="5.60" fill="#000"/>
<text x="2006.5" y="850.8" font-size="25">25</text>
<circle cx="1975" cy="873.7" r="8.40" fill="#000"/>
<text x="2006.5" y="882.5" font-size="25">50</text>
<circle cx="1975" cy="905.2" r="11.80" fill="#000"/>
<text x="2006.5" y="914" font-size="25">75</text>
<circle cx="1975" cy="938.4" r="15.10" fill="#000"/>
<text x="2006.5" y="947.2" font-size="25">100</text>
<text x="1043" y="1654" font-size="28">Cluster</text>
<rect x="1106.4" y="1672" width="1047.1" height="241.8" fill="#F4F5F5" />
<rect x="1106.4" y="2050.7" width="1047.1" height="310.3" fill="#F4F5F5" />
<line x1="1106.4" y1="1672" x2="2153.5" y2="1672" stroke="#7A7A7A" stroke-width="1.6"/>
<line x1="1106.4" y1="1913.8" x2="2153.5" y2="1913.8" stroke="#7A7A7A" stroke-width="1.6"/>
<line x1="1106.4" y1="2050.7" x2="2153.5" y2="2050.7" stroke="#7A7A7A" stroke-width="1.6"/>
<line x1="2153.5" y1="1672" x2="2153.5" y2="1913.8" stroke="#7A7A7A" stroke-width="1.6"/>
<line x1="2153.5" y1="2050.7" x2="2153.5" y2="2361" stroke="#7A7A7A" stroke-width="1.6"/>
<circle cx="1143.6" cy="1692.6" r="3.90" fill="#60C8F2"/>
<circle cx="1205.3" cy="1692.6" r="4.40" fill="#60C8F2"/>
<circle cx="1267.1" cy="1692.6" r="2.00" fill="#60C8F2"/>
<circle cx="1328.8" cy="1692.6" r="2.00" fill="#60C8F2"/>
<circle cx="1390.6" cy="1692.6" r="2.00" fill="#60C8F2"/>
<circle cx="1452.3" cy="1692.6" r="2.00" fill="#60C8F2"/>
<circle cx="1514.1" cy="1692.6" r="1.90" fill="#60C8F2"/>
<circle cx="1575.8" cy="1692.6" r="12.60" fill="#769DF4"/>
<circle cx="1637.6" cy="1692.6" r="10.70" fill="#73A6F4"/>
<circle cx="1699.3" cy="1692.6" r="8.80" fill="#769DF4"/>
<circle cx="1761.1" cy="1692.6" r="1.90" fill="#60C8F2"/>
<circle cx="1822.8" cy="1692.6" r="1.90" fill="#60C8F2"/>
<circle cx="1884.6" cy="1692.6" r="1.90" fill="#60C8F2"/>
<circle cx="1946.3" cy="1692.6" r="1.90" fill="#60C8F2"/>
<circle cx="2008.1" cy="1692.6" r="7.60" fill="#60C8F2"/>
<circle cx="2069.8" cy="1692.6" r="1.70" fill="#60C8F2"/>
<circle cx="2131.6" cy="1692.6" r="1.70" fill="#60C8F2"/>
<line x1="1099.1" y1="1692.6" x2="1106.4" y2="1692.6" stroke="#000" stroke-width="2"/>
<text x="1092.5" y="1700.4" font-size="22" text-anchor="end">3</text>
<circle cx="1143.6" cy="1726.7" r="11.80" fill="#62C5F2"/>
<circle cx="1205.3" cy="1726.7" r="13.80" fill="#60C8F2"/>
<circle cx="1267.1" cy="1726.7" r="2.00" fill="#60C8F2"/>
<circle cx="1328.8" cy="1726.7" r="2.00" fill="#60C8F2"/>
<circle cx="1390.6" cy="1726.7" r="2.00" fill="#60C8F2"/>
<circle cx="1452.3" cy="1726.7" r="2.00" fill="#60C8F2"/>
<circle cx="1514.1" cy="1726.7" r="1.90" fill="#60C8F2"/>
<circle cx="1575.8" cy="1726.7" r="14.10" fill="#769DF4"/>
<circle cx="1637.6" cy="1726.7" r="3.00" fill="#60C8F2"/>
<circle cx="1699.3" cy="1726.7" r="10.30" fill="#73A6F4"/>
<circle cx="1761.1" cy="1726.7" r="1.90" fill="#60C8F2"/>
<circle cx="1822.8" cy="1726.7" r="1.90" fill="#60C8F2"/>
<circle cx="1884.6" cy="1726.7" r="1.90" fill="#60C8F2"/>
<circle cx="1946.3" cy="1726.7" r="1.90" fill="#60C8F2"/>
<circle cx="2008.1" cy="1726.7" r="13.80" fill="#62C5F2"/>
<circle cx="2069.8" cy="1726.7" r="1.70" fill="#60C8F2"/>
<circle cx="2131.6" cy="1726.7" r="1.90" fill="#60C8F2"/>
<line x1="1099.1" y1="1726.7" x2="1106.4" y2="1726.7" stroke="#000" stroke-width="2"/>
<text x="1092.5" y="1734.5" font-size="22" text-anchor="end">16</text>
<circle cx="1143.6" cy="1760.9" r="5.90" fill="#60C8F2"/>
<circle cx="1205.3" cy="1760.9" r="7.70" fill="#60C8F2"/>
<circle cx="1267.1" cy="1760.9" r="2.00" fill="#60C8F2"/>
<circle cx="1328.8" cy="1760.9" r="2.00" fill="#60C8F2"/>
<circle cx="1390.6" cy="1760.9" r="2.00" fill="#60C8F2"/>
<circle cx="1452.3" cy="1760.9" r="2.00" fill="#60C8F2"/>
<circle cx="1514.1" cy="1760.9" r="1.90" fill="#60C8F2"/>
<circle cx="1575.8" cy="1760.9" r="9.90" fill="#48E2F0"/>
<circle cx="1637.6" cy="1760.9" r="1.90" fill="#60C8F2"/>
<circle cx="1699.3" cy="1760.9" r="10.30" fill="#7A94F5"/>
<circle cx="1761.1" cy="1760.9" r="1.70" fill="#60C8F2"/>
<circle cx="1822.8" cy="1760.9" r="1.70" fill="#60C8F2"/>
<circle cx="1884.6" cy="1760.9" r="1.70" fill="#60C8F2"/>
<circle cx="1946.3" cy="1760.9" r="1.70" fill="#60C8F2"/>
<circle cx="2008.1" cy="1760.9" r="11.10" fill="#60C8F2"/>
<circle cx="2069.8" cy="1760.9" r="1.50" fill="#60C8F2"/>
<circle cx="2131.6" cy="1760.9" r="1.90" fill="#60C8F2"/>
<line x1="1099.1" y1="1760.9" x2="1106.4" y2="1760.9" stroke="#000" stroke-width="2"/>
<text x="1092.5" y="1768.7" font-size="22" text-anchor="end">14</text>
<circle cx="1143.6" cy="1795" r="4.80" fill="#60C8F2"/>
<circle cx="1205.3" cy="1795" r="4.20" fill="#60C8F2"/>
<circle cx="1267.1" cy="1795" r="2.20" fill="#60C8F2"/>
<circle cx="1328.8" cy="1795" r="4.20" fill="#64C2F2"/>
<circle cx="1390.6" cy="1795" r="2.00" fill="#60C8F2"/>
<circle cx="1452.3" cy="1795" r="2.20" fill="#60C8F2"/>
<circle cx="1514.1" cy="1795" r="1.70" fill="#60C8F2"/>
<circle cx="1575.8" cy="1795" r="5.00" fill="#48E2F0"/>
<circle cx="1637.6" cy="1795" r="1.70" fill="#60C8F2"/>
<circle cx="1699.3" cy="1795" r="8.00" fill="#4FDAF1"/>
<circle cx="1761.1" cy="1795" r="1.70" fill="#60C8F2"/>
<circle cx="1822.8" cy="1795" r="1.70" fill="#60C8F2"/>
<circle cx="1884.6" cy="1795" r="1.70" fill="#60C8F2"/>
<circle cx="1946.3" cy="1795" r="1.70" fill="#60C8F2"/>
<circle cx="2008.1" cy="1795" r="7.30" fill="#60C8F2"/>
<circle cx="2069.8" cy="1795" r="1.50" fill="#60C8F2"/>
<circle cx="2131.6" cy="1795" r="1.70" fill="#60C8F2"/>
<line x1="1099.1" y1="1795" x2="1106.4" y2="1795" stroke="#000" stroke-width="2"/>
<text x="1092.5" y="1802.8" font-size="22" text-anchor="end">13</text>
<circle cx="1143.6" cy="1829.1" r="2.60" fill="#60C8F2"/>
<circle cx="1205.3" cy="1829.1" r="2.80" fill="#60C8F2"/>
<circle cx="1267.1" cy="1829.1" r="2.00" fill="#60C8F2"/>
<circle cx="1328.8" cy="1829.1" r="2.20" fill="#60C8F2"/>
<circle cx="1390.6" cy="1829.1" r="2.20" fill="#60C8F2"/>
<circle cx="1452.3" cy="1829.1" r="2.00" fill="#60C8F2"/>
<circle cx="1514.1" cy="1829.1" r="2.00" fill="#60C8F2"/>
<circle cx="1575.8" cy="1829.1" r="12.60" fill="#769DF4"/>
<circle cx="1637.6" cy="1829.1" r="2.50" fill="#60C8F2"/>
<circle cx="1699.3" cy="1829.1" r="5.70" fill="#48E2F0"/>
<circle cx="1761.1" cy="1829.1" r="1.70" fill="#60C8F2"/>
<circle cx="1822.8" cy="1829.1" r="1.70" fill="#60C8F2"/>
<circle cx="1884.6" cy="1829.1" r="1.70" fill="#60C8F2"/>
<circle cx="1946.3" cy="1829.1" r="1.70" fill="#60C8F2"/>
<circle cx="2008.1" cy="1829.1" r="7.30" fill="#60C8F2"/>
<circle cx="2069.8" cy="1829.1" r="1.50" fill="#60C8F2"/>
<circle cx="2131.6" cy="1829.1" r="1.90" fill="#60C8F2"/>
<line x1="1099.1" y1="1829.1" x2="1106.4" y2="1829.1" stroke="#000" stroke-width="2"/>
<text x="1092.5" y="1836.9" font-size="22" text-anchor="end">11</text>
<circle cx="1143.6" cy="1863.2" r="4.60" fill="#60C8F2"/>
<circle cx="1205.3" cy="1863.2" r="8.80" fill="#5BCDF2"/>
<circle cx="1267.1" cy="1863.2" r="2.00" fill="#60C8F2"/>
<circle cx="1328.8" cy="1863.2" r="2.00" fill="#60C8F2"/>
<circle cx="1390.6" cy="1863.2" r="2.00" fill="#60C8F2"/>
<circle cx="1452.3" cy="1863.2" r="2.00" fill="#60C8F2"/>
<circle cx="1514.1" cy="1863.2" r="1.70" fill="#60C8F2"/>
<circle cx="1575.8" cy="1863.2" r="11.10" fill="#48E2F0"/>
<circle cx="1637.6" cy="1863.2" r="1.70" fill="#60C8F2"/>
<circle cx="1699.3" cy="1863.2" r="5.70" fill="#48E2F0"/>
<circle cx="1761.1" cy="1863.2" r="1.70" fill="#60C8F2"/>
<circle cx="1822.8" cy="1863.2" r="1.70" fill="#60C8F2"/>
<circle cx="1884.6" cy="1863.2" r="1.70" fill="#60C8F2"/>
<circle cx="1946.3" cy="1863.2" r="1.70" fill="#60C8F2"/>
<circle cx="2008.1" cy="1863.2" r="13.40" fill="#60C8F2"/>
<circle cx="2069.8" cy="1863.2" r="1.50" fill="#60C8F2"/>
<circle cx="2131.6" cy="1863.2" r="1.90" fill="#60C8F2"/>
<line x1="1099.1" y1="1863.2" x2="1106.4" y2="1863.2" stroke="#000" stroke-width="2"/>
<text x="1092.5" y="1871" font-size="22" text-anchor="end">9</text>
<circle cx="1143.6" cy="1897.4" r="13.80" fill="#62C5F2"/>
<circle cx="1205.3" cy="1897.4" r="13.80" fill="#60C8F2"/>
<circle cx="1267.1" cy="1897.4" r="2.00" fill="#60C8F2"/>
<circle cx="1328.8" cy="1897.4" r="2.00" fill="#60C8F2"/>
<circle cx="1390.6" cy="1897.4" r="2.00" fill="#60C8F2"/>
<circle cx="1452.3" cy="1897.4" r="2.00" fill="#60C8F2"/>
<circle cx="1514.1" cy="1897.4" r="1.70" fill="#60C8F2"/>
<circle cx="1575.8" cy="1897.4" r="14.10" fill="#54D5F1"/>
<circle cx="1637.6" cy="1897.4" r="1.70" fill="#60C8F2"/>
<circle cx="1699.3" cy="1897.4" r="13.40" fill="#70AEF4"/>
<circle cx="1761.1" cy="1897.4" r="1.70" fill="#60C8F2"/>
<circle cx="1822.8" cy="1897.4" r="1.70" fill="#60C8F2"/>
<circle cx="1884.6" cy="1897.4" r="1.70" fill="#60C8F2"/>
<circle cx="1946.3" cy="1897.4" r="1.70" fill="#60C8F2"/>
<circle cx="2008.1" cy="1897.4" r="13.80" fill="#62C5F2"/>
<circle cx="2069.8" cy="1897.4" r="1.70" fill="#60C8F2"/>
<circle cx="2131.6" cy="1897.4" r="1.90" fill="#60C8F2"/>
<line x1="1099.1" y1="1897.4" x2="1106.4" y2="1897.4" stroke="#000" stroke-width="2"/>
<text x="1092.5" y="1905.2" font-size="22" text-anchor="end">5</text>
<circle cx="1143.6" cy="1931.5" r="13.80" fill="#8564F5"/>
<circle cx="1205.3" cy="1931.5" r="13.80" fill="#884BF2"/>
<circle cx="1267.1" cy="1931.5" r="8.80" fill="#7D8CF5"/>
<circle cx="1328.8" cy="1931.5" r="11.20" fill="#836EF5"/>
<circle cx="1390.6" cy="1931.5" r="11.80" fill="#8757F3"/>
<circle cx="1452.3" cy="1931.5" r="11.80" fill="#884BF2"/>
<circle cx="1514.1" cy="1931.5" r="5.40" fill="#7D8CF5"/>
<circle cx="1575.8" cy="1931.5" r="9.90" fill="#73A6F4"/>
<circle cx="1637.6" cy="1931.5" r="3.20" fill="#60C8F2"/>
<circle cx="1699.3" cy="1931.5" r="10.30" fill="#769DF4"/>
<circle cx="1761.1" cy="1931.5" r="6.10" fill="#8B37EF"/>
<circle cx="1822.8" cy="1931.5" r="7.60" fill="#884BF2"/>
<circle cx="1884.6" cy="1931.5" r="9.60" fill="#8A3EF0"/>
<circle cx="1946.3" cy="1931.5" r="9.90" fill="#8564F5"/>
<circle cx="2008.1" cy="1931.5" r="13.80" fill="#7F82F5"/>
<circle cx="2069.8" cy="1931.5" r="1.70" fill="#60C8F2"/>
<circle cx="2131.6" cy="1931.5" r="1.90" fill="#60C8F2"/>
<line x1="1099.1" y1="1931.5" x2="1106.4" y2="1931.5" stroke="#000" stroke-width="2"/>
<text x="1092.5" y="1939.3" font-size="22" text-anchor="end">12</text>
<circle cx="1143.6" cy="1965.6" r="13.80" fill="#8B2FEF"/>
<circle cx="1205.3" cy="1965.6" r="13.80" fill="#836EF5"/>
<circle cx="1267.1" cy="1965.6" r="7.20" fill="#769DF4"/>
<circle cx="1328.8" cy="1965.6" r="12.90" fill="#8B2FEF"/>
<circle cx="1390.6" cy="1965.6" r="12.00" fill="#8B37EF"/>
<circle cx="1452.3" cy="1965.6" r="11.20" fill="#8178F5"/>
<circle cx="1514.1" cy="1965.6" r="8.40" fill="#8B2FEF"/>
<circle cx="1575.8" cy="1965.6" r="13.00" fill="#8B2FEF"/>
<circle cx="1637.6" cy="1965.6" r="6.50" fill="#60C8F2"/>
<circle cx="1699.3" cy="1965.6" r="7.60" fill="#48E2F0"/>
<circle cx="1761.1" cy="1965.6" r="8.80" fill="#8B2FEF"/>
<circle cx="1822.8" cy="1965.6" r="3.20" fill="#73A6F4"/>
<circle cx="1884.6" cy="1965.6" r="8.40" fill="#836EF5"/>
<circle cx="1946.3" cy="1965.6" r="7.30" fill="#769DF4"/>
<circle cx="2008.1" cy="1965.6" r="13.80" fill="#8B2FEF"/>
<circle cx="2069.8" cy="1965.6" r="2.50" fill="#8B2FEF"/>
<circle cx="2131.6" cy="1965.6" r="2.50" fill="#8B2FEF"/>
<line x1="1099.1" y1="1965.6" x2="1106.4" y2="1965.6" stroke="#000" stroke-width="2"/>
<text x="1092.5" y="1973.4" font-size="22" text-anchor="end">4</text>
<circle cx="1143.6" cy="1999.8" r="13.80" fill="#8B34EF"/>
<circle cx="1205.3" cy="1999.8" r="13.80" fill="#8B2FEF"/>
<circle cx="1267.1" cy="1999.8" r="8.10" fill="#8564F5"/>
<circle cx="1328.8" cy="1999.8" r="7.00" fill="#7F82F5"/>
<circle cx="1390.6" cy="1999.8" r="10.50" fill="#8B2FEF"/>
<circle cx="1452.3" cy="1999.8" r="10.10" fill="#8B2FEF"/>
<circle cx="1514.1" cy="1999.8" r="3.00" fill="#60C8F2"/>
<circle cx="1575.8" cy="1999.8" r="13.80" fill="#8178F5"/>
<circle cx="1637.6" cy="1999.8" r="3.00" fill="#60C8F2"/>
<circle cx="1699.3" cy="1999.8" r="11.90" fill="#8B2FEF"/>
<circle cx="1761.1" cy="1999.8" r="5.40" fill="#8B2FEF"/>
<circle cx="1822.8" cy="1999.8" r="5.70" fill="#8B2FEF"/>
<circle cx="1884.6" cy="1999.8" r="6.50" fill="#884BF2"/>
<circle cx="1946.3" cy="1999.8" r="9.20" fill="#8B2FEF"/>
<circle cx="2008.1" cy="1999.8" r="13.80" fill="#8B2FEF"/>
<circle cx="2069.8" cy="1999.8" r="1.70" fill="#60C8F2"/>
<circle cx="2131.6" cy="1999.8" r="1.90" fill="#60C8F2"/>
<line x1="1099.1" y1="1999.8" x2="1106.4" y2="1999.8" stroke="#000" stroke-width="2"/>
<text x="1092.5" y="2007.6" font-size="22" text-anchor="end">2</text>
<circle cx="1143.6" cy="2033.9" r="13.80" fill="#8B37EF"/>
<circle cx="1205.3" cy="2033.9" r="13.80" fill="#8B2FEF"/>
<circle cx="1267.1" cy="2033.9" r="11.20" fill="#8B34EF"/>
<circle cx="1328.8" cy="2033.9" r="11.00" fill="#7D8CF5"/>
<circle cx="1390.6" cy="2033.9" r="12.30" fill="#8B2FEF"/>
<circle cx="1452.3" cy="2033.9" r="12.30" fill="#8B34EF"/>
<circle cx="1514.1" cy="2033.9" r="1.90" fill="#60C8F2"/>
<circle cx="1575.8" cy="2033.9" r="6.10" fill="#48E2F0"/>
<circle cx="1637.6" cy="2033.9" r="1.90" fill="#60C8F2"/>
<circle cx="1699.3" cy="2033.9" r="11.10" fill="#7F82F5"/>
<circle cx="1761.1" cy="2033.9" r="5.00" fill="#7D8CF5"/>
<circle cx="1822.8" cy="2033.9" r="10.30" fill="#8B2FEF"/>
<circle cx="1884.6" cy="2033.9" r="11.10" fill="#8B2FEF"/>
<circle cx="1946.3" cy="2033.9" r="13.00" fill="#8B2FEF"/>
<circle cx="2008.1" cy="2033.9" r="13.80" fill="#7F82F5"/>
<circle cx="2069.8" cy="2033.9" r="1.90" fill="#60C8F2"/>
<circle cx="2131.6" cy="2033.9" r="1.90" fill="#60C8F2"/>
<line x1="1099.1" y1="2033.9" x2="1106.4" y2="2033.9" stroke="#000" stroke-width="2"/>
<text x="1092.5" y="2041.7" font-size="22" text-anchor="end">1</text>
<circle cx="1143.6" cy="2068" r="4.70" fill="#60C8F2"/>
<circle cx="1205.3" cy="2068" r="3.20" fill="#60C8F2"/>
<circle cx="1267.1" cy="2068" r="1.70" fill="#60C8F2"/>
<circle cx="1328.8" cy="2068" r="7.70" fill="#7D8CF5"/>
<circle cx="1390.6" cy="2068" r="2.00" fill="#60C8F2"/>
<circle cx="1452.3" cy="2068" r="2.50" fill="#60C8F2"/>
<circle cx="1514.1" cy="2068" r="1.80" fill="#60C8F2"/>
<circle cx="1575.8" cy="2068" r="13.30" fill="#64C2F2"/>
<circle cx="1637.6" cy="2068" r="1.80" fill="#60C8F2"/>
<circle cx="1699.3" cy="2068" r="8.50" fill="#60C8F2"/>
<circle cx="1761.1" cy="2068" r="1.40" fill="#60C8F2"/>
<circle cx="1822.8" cy="2068" r="1.60" fill="#60C8F2"/>
<circle cx="1884.6" cy="2068" r="1.60" fill="#60C8F2"/>
<circle cx="1946.3" cy="2068" r="2.60" fill="#60C8F2"/>
<circle cx="2008.1" cy="2068" r="13.70" fill="#70AEF4"/>
<circle cx="2069.8" cy="2068" r="1.20" fill="#60C8F2"/>
<circle cx="2131.6" cy="2068" r="1.40" fill="#60C8F2"/>
<line x1="1099.1" y1="2068" x2="1106.4" y2="2068" stroke="#000" stroke-width="2"/>
<text x="1092.5" y="2075.8" font-size="22" text-anchor="end">18</text>
<circle cx="1143.6" cy="2102.2" r="2.50" fill="#60C8F2"/>
<circle cx="1205.3" cy="2102.2" r="3.20" fill="#60C8F2"/>
<circle cx="1267.1" cy="2102.2" r="2.20" fill="#60C8F2"/>
<circle cx="1328.8" cy="2102.2" r="1.90" fill="#60C8F2"/>
<circle cx="1390.6" cy="2102.2" r="5.00" fill="#60C8F2"/>
<circle cx="1452.3" cy="2102.2" r="9.60" fill="#7D8CF5"/>
<circle cx="1514.1" cy="2102.2" r="5.20" fill="#7A94F5"/>
<circle cx="1575.8" cy="2102.2" r="10.10" fill="#48E2F0"/>
<circle cx="1637.6" cy="2102.2" r="12.50" fill="#7A94F5"/>
<circle cx="1699.3" cy="2102.2" r="4.00" fill="#48E2F0"/>
<circle cx="1761.1" cy="2102.2" r="1.40" fill="#60C8F2"/>
<circle cx="1822.8" cy="2102.2" r="1.80" fill="#60C8F2"/>
<circle cx="1884.6" cy="2102.2" r="1.80" fill="#60C8F2"/>
<circle cx="1946.3" cy="2102.2" r="2.40" fill="#60C8F2"/>
<circle cx="2008.1" cy="2102.2" r="5.20" fill="#60C8F2"/>
<circle cx="2069.8" cy="2102.2" r="1.20" fill="#60C8F2"/>
<circle cx="2131.6" cy="2102.2" r="1.40" fill="#60C8F2"/>
<line x1="1099.1" y1="2102.2" x2="1106.4" y2="2102.2" stroke="#000" stroke-width="2"/>
<text x="1092.5" y="2110" font-size="22" text-anchor="end">17</text>
<circle cx="1143.6" cy="2136.3" r="4.40" fill="#60C8F2"/>
<circle cx="1205.3" cy="2136.3" r="4.70" fill="#60C8F2"/>
<circle cx="1267.1" cy="2136.3" r="5.50" fill="#8B2FEF"/>
<circle cx="1328.8" cy="2136.3" r="2.50" fill="#60C8F2"/>
<circle cx="1390.6" cy="2136.3" r="8.00" fill="#7D8CF5"/>
<circle cx="1452.3" cy="2136.3" r="6.10" fill="#73A6F4"/>
<circle cx="1514.1" cy="2136.3" r="4.40" fill="#7A94F5"/>
<circle cx="1575.8" cy="2136.3" r="13.70" fill="#836EF5"/>
<circle cx="1637.6" cy="2136.3" r="7.30" fill="#70AEF4"/>
<circle cx="1699.3" cy="2136.3" r="7.30" fill="#60C8F2"/>
<circle cx="1761.1" cy="2136.3" r="2.40" fill="#60C8F2"/>
<circle cx="1822.8" cy="2136.3" r="2.60" fill="#60C8F2"/>
<circle cx="1884.6" cy="2136.3" r="2.20" fill="#60C8F2"/>
<circle cx="1946.3" cy="2136.3" r="3.20" fill="#60C8F2"/>
<circle cx="2008.1" cy="2136.3" r="7.70" fill="#60C8F2"/>
<circle cx="2069.8" cy="2136.3" r="1.20" fill="#60C8F2"/>
<circle cx="2131.6" cy="2136.3" r="1.40" fill="#60C8F2"/>
<line x1="1099.1" y1="2136.3" x2="1106.4" y2="2136.3" stroke="#000" stroke-width="2"/>
<text x="1092.5" y="2144.1" font-size="22" text-anchor="end">8</text>
<circle cx="1143.6" cy="2170.4" r="4.10" fill="#60C8F2"/>
<circle cx="1205.3" cy="2170.4" r="5.20" fill="#60C8F2"/>
<circle cx="1267.1" cy="2170.4" r="3.50" fill="#60C8F2"/>
<circle cx="1328.8" cy="2170.4" r="3.00" fill="#60C8F2"/>
<circle cx="1390.6" cy="2170.4" r="2.50" fill="#60C8F2"/>
<circle cx="1452.3" cy="2170.4" r="3.50" fill="#60C8F2"/>
<circle cx="1514.1" cy="2170.4" r="7.30" fill="#7D8CF5"/>
<circle cx="1575.8" cy="2170.4" r="11.70" fill="#60C8F2"/>
<circle cx="1637.6" cy="2170.4" r="14.10" fill="#8B2FEF"/>
<circle cx="1699.3" cy="2170.4" r="6.30" fill="#48E2F0"/>
<circle cx="1761.1" cy="2170.4" r="2.20" fill="#60C8F2"/>
<circle cx="1822.8" cy="2170.4" r="2.40" fill="#60C8F2"/>
<circle cx="1884.6" cy="2170.4" r="2.40" fill="#60C8F2"/>
<circle cx="1946.3" cy="2170.4" r="3.60" fill="#60C8F2"/>
<circle cx="2008.1" cy="2170.4" r="5.40" fill="#60C8F2"/>
<circle cx="2069.8" cy="2170.4" r="1.00" fill="#60C8F2"/>
<circle cx="2131.6" cy="2170.4" r="1.20" fill="#60C8F2"/>
<line x1="1099.1" y1="2170.4" x2="1106.4" y2="2170.4" stroke="#000" stroke-width="2"/>
<text x="1092.5" y="2178.2" font-size="22" text-anchor="end">19</text>
<circle cx="1143.6" cy="2204.6" r="5.20" fill="#60C8F2"/>
<circle cx="1205.3" cy="2204.6" r="6.10" fill="#60C8F2"/>
<circle cx="1267.1" cy="2204.6" r="2.50" fill="#60C8F2"/>
<circle cx="1328.8" cy="2204.6" r="3.20" fill="#60C8F2"/>
<circle cx="1390.6" cy="2204.6" r="3.20" fill="#60C8F2"/>
<circle cx="1452.3" cy="2204.6" r="2.50" fill="#60C8F2"/>
<circle cx="1514.1" cy="2204.6" r="4.00" fill="#769DF4"/>
<circle cx="1575.8" cy="2204.6" r="12.50" fill="#54D5F1"/>
<circle cx="1637.6" cy="2204.6" r="11.30" fill="#884BF2"/>
<circle cx="1699.3" cy="2204.6" r="12.50" fill="#8B2FEF"/>
<circle cx="1761.1" cy="2204.6" r="1.60" fill="#60C8F2"/>
<circle cx="1822.8" cy="2204.6" r="2.60" fill="#60C8F2"/>
<circle cx="1884.6" cy="2204.6" r="2.60" fill="#60C8F2"/>
<circle cx="1946.3" cy="2204.6" r="2.80" fill="#60C8F2"/>
<circle cx="2008.1" cy="2204.6" r="8.90" fill="#60C8F2"/>
<circle cx="2069.8" cy="2204.6" r="1.20" fill="#60C8F2"/>
<circle cx="2131.6" cy="2204.6" r="1.40" fill="#60C8F2"/>
<line x1="1099.1" y1="2204.6" x2="1106.4" y2="2204.6" stroke="#000" stroke-width="2"/>
<text x="1092.5" y="2212.4" font-size="22" text-anchor="end">15</text>
<circle cx="1143.6" cy="2238.7" r="5.20" fill="#60C8F2"/>
<circle cx="1205.3" cy="2238.7" r="6.60" fill="#60C8F2"/>
<circle cx="1267.1" cy="2238.7" r="3.30" fill="#60C8F2"/>
<circle cx="1328.8" cy="2238.7" r="3.00" fill="#60C8F2"/>
<circle cx="1390.6" cy="2238.7" r="4.10" fill="#60C8F2"/>
<circle cx="1452.3" cy="2238.7" r="3.60" fill="#60C8F2"/>
<circle cx="1514.1" cy="2238.7" r="4.00" fill="#7A94F5"/>
<circle cx="1575.8" cy="2238.7" r="13.70" fill="#836EF5"/>
<circle cx="1637.6" cy="2238.7" r="8.10" fill="#836EF5"/>
<circle cx="1699.3" cy="2238.7" r="10.10" fill="#769DF4"/>
<circle cx="1761.1" cy="2238.7" r="1.60" fill="#60C8F2"/>
<circle cx="1822.8" cy="2238.7" r="3.20" fill="#60C8F2"/>
<circle cx="1884.6" cy="2238.7" r="2.40" fill="#60C8F2"/>
<circle cx="1946.3" cy="2238.7" r="4.00" fill="#60C8F2"/>
<circle cx="2008.1" cy="2238.7" r="7.70" fill="#60C8F2"/>
<circle cx="2069.8" cy="2238.7" r="1.20" fill="#60C8F2"/>
<circle cx="2131.6" cy="2238.7" r="1.40" fill="#60C8F2"/>
<line x1="1099.1" y1="2238.7" x2="1106.4" y2="2238.7" stroke="#000" stroke-width="2"/>
<text x="1092.5" y="2246.5" font-size="22" text-anchor="end">10</text>
<circle cx="1143.6" cy="2272.8" r="4.70" fill="#60C8F2"/>
<circle cx="1205.3" cy="2272.8" r="8.50" fill="#60C8F2"/>
<circle cx="1267.1" cy="2272.8" r="3.00" fill="#60C8F2"/>
<circle cx="1328.8" cy="2272.8" r="3.00" fill="#60C8F2"/>
<circle cx="1390.6" cy="2272.8" r="3.60" fill="#60C8F2"/>
<circle cx="1452.3" cy="2272.8" r="3.30" fill="#60C8F2"/>
<circle cx="1514.1" cy="2272.8" r="2.60" fill="#60C8F2"/>
<circle cx="1575.8" cy="2272.8" r="13.30" fill="#8B37EF"/>
<circle cx="1637.6" cy="2272.8" r="12.50" fill="#8B34EF"/>
<circle cx="1699.3" cy="2272.8" r="11.70" fill="#8B34EF"/>
<circle cx="1761.1" cy="2272.8" r="2.20" fill="#60C8F2"/>
<circle cx="1822.8" cy="2272.8" r="2.80" fill="#60C8F2"/>
<circle cx="1884.6" cy="2272.8" r="2.80" fill="#60C8F2"/>
<circle cx="1946.3" cy="2272.8" r="2.80" fill="#60C8F2"/>
<circle cx="2008.1" cy="2272.8" r="10.90" fill="#60C8F2"/>
<circle cx="2069.8" cy="2272.8" r="1.20" fill="#60C8F2"/>
<circle cx="2131.6" cy="2272.8" r="1.40" fill="#60C8F2"/>
<line x1="1099.1" y1="2272.8" x2="1106.4" y2="2272.8" stroke="#000" stroke-width="2"/>
<text x="1092.5" y="2280.6" font-size="22" text-anchor="end">7</text>
<circle cx="1143.6" cy="2306.9" r="3.60" fill="#60C8F2"/>
<circle cx="1205.3" cy="2306.9" r="4.10" fill="#60C8F2"/>
<circle cx="1267.1" cy="2306.9" r="3.00" fill="#60C8F2"/>
<circle cx="1328.8" cy="2306.9" r="3.00" fill="#60C8F2"/>
<circle cx="1390.6" cy="2306.9" r="2.80" fill="#60C8F2"/>
<circle cx="1452.3" cy="2306.9" r="2.80" fill="#60C8F2"/>
<circle cx="1514.1" cy="2306.9" r="2.40" fill="#60C8F2"/>
<circle cx="1575.8" cy="2306.9" r="4.40" fill="#48E2F0"/>
<circle cx="1637.6" cy="2306.9" r="2.20" fill="#60C8F2"/>
<circle cx="1699.3" cy="2306.9" r="6.50" fill="#48E2F0"/>
<circle cx="1761.1" cy="2306.9" r="2.00" fill="#60C8F2"/>
<circle cx="1822.8" cy="2306.9" r="2.00" fill="#60C8F2"/>
<circle cx="1884.6" cy="2306.9" r="2.40" fill="#60C8F2"/>
<circle cx="1946.3" cy="2306.9" r="2.80" fill="#60C8F2"/>
<circle cx="2008.1" cy="2306.9" r="9.70" fill="#60C8F2"/>
<circle cx="2069.8" cy="2306.9" r="1.20" fill="#60C8F2"/>
<circle cx="2131.6" cy="2306.9" r="1.40" fill="#60C8F2"/>
<line x1="1099.1" y1="2306.9" x2="1106.4" y2="2306.9" stroke="#000" stroke-width="2"/>
<text x="1092.5" y="2314.7" font-size="22" text-anchor="end">6</text>
<circle cx="1143.6" cy="2341.1" r="8.00" fill="#68BBF3"/>
<circle cx="1205.3" cy="2341.1" r="9.10" fill="#68BBF3"/>
<circle cx="1267.1" cy="2341.1" r="4.10" fill="#68BBF3"/>
<circle cx="1328.8" cy="2341.1" r="4.10" fill="#68BBF3"/>
<circle cx="1390.6" cy="2341.1" r="5.20" fill="#6CB4F4"/>
<circle cx="1452.3" cy="2341.1" r="4.70" fill="#6CB4F4"/>
<circle cx="1514.1" cy="2341.1" r="5.20" fill="#8B37EF"/>
<circle cx="1575.8" cy="2341.1" r="12.10" fill="#70AEF4"/>
<circle cx="1637.6" cy="2341.1" r="7.30" fill="#73A6F4"/>
<circle cx="1699.3" cy="2341.1" r="8.90" fill="#64C2F2"/>
<circle cx="1761.1" cy="2341.1" r="2.40" fill="#60C8F2"/>
<circle cx="1822.8" cy="2341.1" r="3.60" fill="#70AEF4"/>
<circle cx="1884.6" cy="2341.1" r="3.60" fill="#70AEF4"/>
<circle cx="1946.3" cy="2341.1" r="4.40" fill="#70AEF4"/>
<circle cx="2008.1" cy="2341.1" r="11.70" fill="#64C2F2"/>
<circle cx="2069.8" cy="2341.1" r="1.20" fill="#60C8F2"/>
<circle cx="2131.6" cy="2341.1" r="1.40" fill="#60C8F2"/>
<line x1="1099.1" y1="2341.1" x2="1106.4" y2="2341.1" stroke="#000" stroke-width="2"/>
<text x="1092.5" y="2348.9" font-size="22" text-anchor="end">0</text>
<line x1="1106.4" y1="1672" x2="1106.4" y2="2362" stroke="#000" stroke-width="2.2"/>
<line x1="1105.4" y1="2361" x2="2168" y2="2361" stroke="#000" stroke-width="2.2"/>
<defs><clipPath id="bclip"><rect x="1100" y="2365" width="1068" height="102"/></clipPath></defs>
<line x1="1143.6" y1="2361" x2="1143.6" y2="2369" stroke="#000" stroke-width="2"/>
<line x1="1205.3" y1="2361" x2="1205.3" y2="2369" stroke="#000" stroke-width="2"/>
<line x1="1267.1" y1="2361" x2="1267.1" y2="2369" stroke="#000" stroke-width="2"/>
<line x1="1328.8" y1="2361" x2="1328.8" y2="2369" stroke="#000" stroke-width="2"/>
<line x1="1390.6" y1="2361" x2="1390.6" y2="2369" stroke="#000" stroke-width="2"/>
<line x1="1452.3" y1="2361" x2="1452.3" y2="2369" stroke="#000" stroke-width="2"/>
<line x1="1514.1" y1="2361" x2="1514.1" y2="2369" stroke="#000" stroke-width="2"/>
<line x1="1575.8" y1="2361" x2="1575.8" y2="2369" stroke="#000" stroke-width="2"/>
<line x1="1637.6" y1="2361" x2="1637.6" y2="2369" stroke="#000" stroke-width="2"/>
<line x1="1699.3" y1="2361" x2="1699.3" y2="2369" stroke="#000" stroke-width="2"/>
<line x1="1761.1" y1="2361" x2="1761.1" y2="2369" stroke="#000" stroke-width="2"/>
<line x1="1822.8" y1="2361" x2="1822.8" y2="2369" stroke="#000" stroke-width="2"/>
<line x1="1884.6" y1="2361" x2="1884.6" y2="2369" stroke="#000" stroke-width="2"/>
<line x1="1946.3" y1="2361" x2="1946.3" y2="2369" stroke="#000" stroke-width="2"/>
<line x1="2008.1" y1="2361" x2="2008.1" y2="2369" stroke="#000" stroke-width="2"/>
<line x1="2069.8" y1="2361" x2="2069.8" y2="2369" stroke="#000" stroke-width="2"/>
<line x1="2131.6" y1="2361" x2="2131.6" y2="2369" stroke="#000" stroke-width="2"/>
<g clip-path="url(#bclip)">
<text transform="translate(1161.4 2425.6) rotate(-90)" font-size="23.5" text-anchor="middle" font-style="italic">Cd79b</text>
<text transform="translate(1223.1 2425.6) rotate(-90)" font-size="23.5" text-anchor="middle" font-style="italic">Cd79a</text>
<text transform="translate(1284.9 2425.6) rotate(-90)" font-size="23.5" text-anchor="middle" font-style="italic">Ccr7</text>
<text transform="translate(1346.6 2425.6) rotate(-90)" font-size="23.5" text-anchor="middle" font-style="italic">Mzb1</text>
<text transform="translate(1408.4 2425.6) rotate(-90)" font-size="23.5" text-anchor="middle" font-style="italic">H2-DMb2</text>
<text transform="translate(1470.1 2425.6) rotate(-90)" font-size="23.5" text-anchor="middle" font-style="italic">H2-Ob</text>
<text transform="translate(1531.9 2425.6) rotate(-90)" font-size="23.5" text-anchor="middle" font-style="italic">Tppp3</text>
<text transform="translate(1593.6 2425.6) rotate(-90)" font-size="23.5" text-anchor="middle" font-style="italic">S100a6</text>
<text transform="translate(1655.4 2425.6) rotate(-90)" font-size="23.5" text-anchor="middle" font-style="italic">Cd9</text>
<text transform="translate(1717.1 2425.6) rotate(-90)" font-size="23.5" text-anchor="middle" font-style="italic">Cxcr4</text>
<text transform="translate(1778.9 2425.6) rotate(-90)" font-size="23.5" text-anchor="middle" font-style="italic">Cxcr5</text>
<text transform="translate(1840.6 2425.6) rotate(-90)" font-size="23.5" text-anchor="middle" font-style="italic">Fcer2a</text>
<text transform="translate(1902.4 2425.6) rotate(-90)" font-size="23.5" text-anchor="middle" font-style="italic">Pax5</text>
<text transform="translate(1964.1 2425.6) rotate(-90)" font-size="23.5" text-anchor="middle" font-style="italic">Ighd</text>
<text transform="translate(2025.9 2425.6) rotate(-90)" font-size="23.5" text-anchor="middle" font-style="italic">Ighm</text>
<text transform="translate(2087.7 2425.6) rotate(-90)" font-size="23.5" text-anchor="middle" font-style="italic">Igha</text>
<text transform="translate(2149.4 2425.6) rotate(-90)" font-size="23.5" text-anchor="middle" font-style="italic">Jchain</text>
</g>
<text transform="translate(1059.6 1684.3) rotate(-90)" font-size="28" text-anchor="middle">NK</text>
<line x1="1064.5" y1="1676" x2="1064.5" y2="1692.6" stroke="#E0382B" stroke-width="2.2"/>
<text transform="translate(1059.6 1795.3) rotate(-90)" font-size="28" text-anchor="middle">T Cells</text>
<line x1="1064.5" y1="1720" x2="1064.5" y2="1892" stroke="#2A8BE0" stroke-width="2.2"/>
<text transform="translate(1059.6 1972.9) rotate(-90)" font-size="28" text-anchor="middle">B Cells</text>
<line x1="1064.5" y1="1917" x2="1064.5" y2="2030" stroke="#2EE0E8" stroke-width="2.2"/>
<text transform="translate(1059.6 2215.6) rotate(-90)" font-size="28" text-anchor="middle">Myeloid</text>
<line x1="1063.5" y1="2052.4" x2="1063.5" y2="2356.8" stroke="#9A3CC8" stroke-width="2.2"/>
<line x1="1121.5" y1="2482.8" x2="1344.6" y2="2482.8" stroke="#000" stroke-width="2.2"/>
<text x="1232.7" y="2518.5" font-size="29" text-anchor="middle">B-Cell</text>
<line x1="1371.4" y1="2482.8" x2="1476.5" y2="2482.8" stroke="#000" stroke-width="2.2"/>
<text x="1423.9" y="2518.5" font-size="29" text-anchor="middle">MHCII</text>
<line x1="1494.3" y1="2482.8" x2="1787" y2="2482.8" stroke="#000" stroke-width="2.2"/>
<text x="1639.7" y="2518.5" font-size="29" text-anchor="middle">B1-like</text>
<line x1="1811.2" y1="2482.8" x2="1911" y2="2482.8" stroke="#000" stroke-width="2.2"/>
<text x="1859.7" y="2518.5" font-size="29" text-anchor="middle">B2-like</text>
<line x1="1929.5" y1="2482.8" x2="2153" y2="2482.8" stroke="#000" stroke-width="2.2"/>
<text x="2038.7" y="2518.5" font-size="29" text-anchor="middle">Immunoglobulins</text>
</svg></body></html>
